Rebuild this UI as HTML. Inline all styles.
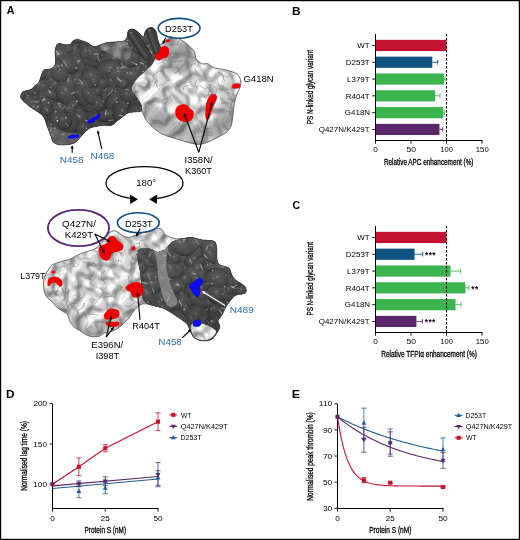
<!DOCTYPE html>
<html><head><meta charset="utf-8"><style>
html,body{margin:0;padding:0;background:#fff;}
svg{display:block;font-family:"Liberation Sans", sans-serif;will-change:transform;}
</style></head><body>
<svg width="520" height="540" viewBox="0 0 520 540">
<defs><filter id="bumpL" x="0" y="0" width="520" height="540" filterUnits="userSpaceOnUse" color-interpolation-filters="sRGB">
  <feTurbulence type="fractalNoise" baseFrequency="0.09" numOctaves="1" seed="7" result="n"/>
  <feComponentTransfer in="n" result="a"><feFuncA type="table" tableValues="0 0 0.2 0.9 1 1"/></feComponentTransfer>
  <feGaussianBlur in="a" stdDeviation="0.6" result="ab"/>
  <feDiffuseLighting in="ab" surfaceScale="1.7" diffuseConstant="1.0" lighting-color="#fff" result="lit"><feDistantLight azimuth="225" elevation="55"/></feDiffuseLighting>
  <feSpecularLighting in="ab" surfaceScale="1.7" specularConstant="0.45" specularExponent="14" lighting-color="#fff" result="spec"><feDistantLight azimuth="225" elevation="55"/></feSpecularLighting>
  <feComposite in="lit" in2="SourceGraphic" operator="arithmetic" k1="0.62" k2="0" k3="0.38" k4="0" result="m"/>
  <feComposite in="spec" in2="m" operator="arithmetic" k1="0" k2="0.5" k3="1" k4="0" result="m2"/>
  <feComposite in="m2" in2="SourceAlpha" operator="in"/>
</filter><filter id="bumpL2" x="0" y="0" width="520" height="540" filterUnits="userSpaceOnUse" color-interpolation-filters="sRGB">
  <feTurbulence type="fractalNoise" baseFrequency="0.09" numOctaves="1" seed="9" result="n"/>
  <feComponentTransfer in="n" result="a"><feFuncA type="table" tableValues="0 0 0.2 0.9 1 1"/></feComponentTransfer>
  <feGaussianBlur in="a" stdDeviation="0.6" result="ab"/>
  <feDiffuseLighting in="ab" surfaceScale="1.7" diffuseConstant="1.0" lighting-color="#fff" result="lit"><feDistantLight azimuth="225" elevation="55"/></feDiffuseLighting>
  <feSpecularLighting in="ab" surfaceScale="1.7" specularConstant="0.45" specularExponent="14" lighting-color="#fff" result="spec"><feDistantLight azimuth="225" elevation="55"/></feSpecularLighting>
  <feComposite in="lit" in2="SourceGraphic" operator="arithmetic" k1="0.62" k2="0" k3="0.38" k4="0" result="m"/>
  <feComposite in="spec" in2="m" operator="arithmetic" k1="0" k2="0.5" k3="1" k4="0" result="m2"/>
  <feComposite in="m2" in2="SourceAlpha" operator="in"/>
</filter><filter id="bumpD" x="0" y="0" width="520" height="540" filterUnits="userSpaceOnUse" color-interpolation-filters="sRGB">
  <feTurbulence type="fractalNoise" baseFrequency="0.09" numOctaves="1" seed="11" result="n"/>
  <feComponentTransfer in="n" result="a"><feFuncA type="table" tableValues="0 0 0.2 0.9 1 1"/></feComponentTransfer>
  <feGaussianBlur in="a" stdDeviation="0.6" result="ab"/>
  <feDiffuseLighting in="ab" surfaceScale="2.0" diffuseConstant="1.0" lighting-color="#fff" result="lit"><feDistantLight azimuth="225" elevation="55"/></feDiffuseLighting>
  <feSpecularLighting in="ab" surfaceScale="2.0" specularConstant="0.45" specularExponent="14" lighting-color="#fff" result="spec"><feDistantLight azimuth="225" elevation="55"/></feSpecularLighting>
  <feComposite in="lit" in2="SourceGraphic" operator="arithmetic" k1="0.6" k2="0" k3="0.40" k4="0" result="m"/>
  <feComposite in="spec" in2="m" operator="arithmetic" k1="0" k2="0.25" k3="1" k4="0" result="m2"/>
  <feComposite in="m2" in2="SourceAlpha" operator="in"/>
</filter><filter id="bumpD2" x="0" y="0" width="520" height="540" filterUnits="userSpaceOnUse" color-interpolation-filters="sRGB">
  <feTurbulence type="fractalNoise" baseFrequency="0.09" numOctaves="1" seed="13" result="n"/>
  <feComponentTransfer in="n" result="a"><feFuncA type="table" tableValues="0 0 0.2 0.9 1 1"/></feComponentTransfer>
  <feGaussianBlur in="a" stdDeviation="0.6" result="ab"/>
  <feDiffuseLighting in="ab" surfaceScale="2.0" diffuseConstant="1.0" lighting-color="#fff" result="lit"><feDistantLight azimuth="225" elevation="55"/></feDiffuseLighting>
  <feSpecularLighting in="ab" surfaceScale="2.0" specularConstant="0.45" specularExponent="14" lighting-color="#fff" result="spec"><feDistantLight azimuth="225" elevation="55"/></feSpecularLighting>
  <feComposite in="lit" in2="SourceGraphic" operator="arithmetic" k1="0.6" k2="0" k3="0.40" k4="0" result="m"/>
  <feComposite in="spec" in2="m" operator="arithmetic" k1="0" k2="0.25" k3="1" k4="0" result="m2"/>
  <feComposite in="m2" in2="SourceAlpha" operator="in"/>
</filter>
<radialGradient id="gL" cx="0.42" cy="0.38" r="0.62" fx="0.38" fy="0.32">
 <stop offset="0" stop-color="#f0f0f0"/><stop offset="0.3" stop-color="#d2d2d2"/><stop offset="0.72" stop-color="#c2c2c2"/><stop offset="0.9" stop-color="#a8a8a8"/><stop offset="1" stop-color="#808080"/>
</radialGradient>
<radialGradient id="gL1" cx="0.42" cy="0.38" r="0.62" fx="0.38" fy="0.32">
 <stop offset="0" stop-color="#fafafa"/><stop offset="0.3" stop-color="#e0e0e0"/><stop offset="0.72" stop-color="#d0d0d0"/><stop offset="0.9" stop-color="#b2b2b2"/><stop offset="1" stop-color="#888888"/>
</radialGradient>
<radialGradient id="gD" cx="0.42" cy="0.38" r="0.62" fx="0.38" fy="0.32">
 <stop offset="0" stop-color="#8c8c8c"/><stop offset="0.16" stop-color="#585858"/><stop offset="0.7" stop-color="#4a4a4a"/><stop offset="0.9" stop-color="#404040"/><stop offset="1" stop-color="#303030"/>
</radialGradient>
<linearGradient id="gF" x1="0" y1="0" x2="1" y2="0.3"><stop offset="0" stop-color="#353535"/><stop offset="0.45" stop-color="#4c4c4c"/><stop offset="1" stop-color="#363636"/></linearGradient>
<linearGradient id="gShade" x1="0" y1="0" x2="0.3" y2="1"><stop offset="0" stop-color="#fff" stop-opacity="0.07"/><stop offset="0.5" stop-color="#000" stop-opacity="0"/><stop offset="1" stop-color="#000" stop-opacity="0.18"/></linearGradient>
<filter id="soft" x="-20%" y="-20%" width="140%" height="140%"><feGaussianBlur stdDeviation="2.5"/></filter>
<clipPath id="cTopL"><path d="M20.9,98.1 C19.8,95.8 21.5,93.4 22.4,92.2 C23.3,91.0 24.6,91.2 26.1,90.7 C27.6,90.2 29.8,90.2 31.3,89.3 C32.8,88.4 33.8,86.7 35.0,85.6 C36.2,84.5 37.6,84.5 38.7,82.6 C39.8,80.7 40.8,76.5 41.7,74.4 C42.6,72.3 42.7,70.8 43.9,70.0 C45.1,69.2 47.4,69.9 49.1,69.3 C50.8,68.7 53.2,67.9 54.3,66.3 C55.4,64.7 55.6,62.0 55.7,59.6 C55.8,57.2 54.9,54.5 55.0,52.2 C55.1,49.9 55.8,47.0 56.5,45.6 C57.2,44.2 57.9,43.7 59.4,43.6 C60.9,43.5 63.5,44.7 65.4,44.8 C67.3,44.9 69.4,44.7 70.6,44.1 C71.8,43.5 71.7,41.9 72.8,41.1 C73.9,40.3 75.7,39.3 77.2,39.2 C78.7,39.1 80.2,40.2 81.7,40.7 C83.2,41.2 83.8,41.0 86.0,42.0 C88.2,43.0 91.4,46.4 94.6,46.6 C97.8,46.8 101.5,43.9 105.0,43.1 C108.5,42.3 112.2,42.2 115.4,41.9 C118.6,41.5 122.0,42.0 124.0,41.0 C126.0,40.0 126.7,37.5 127.5,36.0 C128.3,34.5 128.2,33.0 129.0,32.0 C129.8,31.0 130.9,30.3 132.0,30.0 C133.1,29.7 134.2,29.5 135.5,30.2 C136.8,30.9 138.7,33.0 140.0,34.0 C141.3,35.0 142.6,37.0 143.5,36.5 C144.4,36.0 144.6,32.4 145.5,31.0 C146.4,29.6 147.8,28.8 149.0,28.3 C150.2,27.8 151.8,27.5 153.0,28.0 C154.2,28.5 155.3,29.8 156.0,31.5 C156.7,33.2 157.0,35.9 157.4,38.0 C157.8,40.1 157.6,43.1 158.5,44.0 C159.4,44.9 161.8,44.2 163.0,43.5 C164.2,42.8 165.0,40.8 166.0,40.0 C167.0,39.2 168.0,39.4 169.2,38.7 C170.4,38.0 171.2,35.6 173.1,35.8 C175.0,35.9 178.2,38.0 180.8,39.6 C183.4,41.2 186.3,43.5 188.5,45.4 C190.7,47.3 192.9,49.0 194.2,51.2 C195.5,53.4 194.9,56.7 196.2,58.8 C197.5,60.9 200.0,62.9 201.9,63.7 C203.8,64.5 205.8,63.1 207.7,63.7 C209.6,64.3 210.9,66.5 213.5,67.5 C216.1,68.5 220.2,68.8 223.1,69.4 C226.0,70.0 228.4,70.5 230.8,71.3 C233.2,72.1 235.8,72.9 237.5,74.5 C239.2,76.1 240.4,78.8 240.8,81.0 C241.2,83.2 240.5,85.7 239.8,88.0 C239.1,90.3 237.4,92.4 236.5,95.0 C235.6,97.6 234.8,101.2 234.3,103.7 C233.8,106.2 233.8,107.6 233.5,110.0 C233.2,112.4 233.0,115.3 232.6,118.0 C232.2,120.7 231.9,123.8 231.1,126.0 C230.2,128.2 228.7,130.2 227.5,131.5 C226.3,132.8 225.8,132.8 223.8,134.0 C221.8,135.2 218.1,137.2 215.3,138.6 C212.5,140.0 209.7,141.5 206.9,142.5 C204.1,143.5 201.6,144.4 198.4,144.4 C195.2,144.4 191.4,143.2 187.9,142.3 C184.4,141.4 180.8,140.2 177.3,139.1 C173.8,138.0 169.9,137.1 166.7,135.9 C163.5,134.7 160.9,133.4 158.3,131.7 C155.7,129.9 153.0,127.5 150.9,125.4 C148.8,123.3 147.1,121.3 145.6,119.0 C144.1,116.7 143.0,112.7 142.0,111.5 C141.0,110.3 141.7,111.4 139.6,111.6 C137.5,111.8 132.0,111.8 129.3,112.6 C126.6,113.4 125.3,114.9 123.3,116.3 C121.3,117.7 119.4,119.2 117.4,120.7 C115.4,122.2 114.0,124.4 111.5,125.2 C109.0,126.0 105.1,125.2 102.4,125.4 C99.7,125.6 97.7,126.0 95.4,126.6 C93.1,127.2 91.0,127.2 88.5,128.9 C86.0,130.6 82.7,134.7 80.4,137.0 C78.1,139.3 77.5,141.4 74.6,142.7 C71.7,144.0 66.5,145.0 63.1,145.0 C59.7,145.0 56.0,144.4 53.9,142.7 C51.8,141.0 51.5,137.2 50.4,134.6 C49.3,132.0 48.8,130.4 47.5,127.3 C46.2,124.2 45.8,119.3 42.7,115.8 C39.7,112.2 32.8,109.0 29.2,106.0 C25.6,103.0 22.0,100.4 20.9,98.1Z"/></clipPath>
<clipPath id="cTopD"><path d="M20.9,98.1 C19.8,95.8 21.5,93.4 22.4,92.2 C23.3,91.0 24.6,91.2 26.1,90.7 C27.6,90.2 29.8,90.2 31.3,89.3 C32.8,88.4 33.8,86.7 35.0,85.6 C36.2,84.5 37.6,84.5 38.7,82.6 C39.8,80.7 40.8,76.5 41.7,74.4 C42.6,72.3 42.7,70.8 43.9,70.0 C45.1,69.2 47.4,69.9 49.1,69.3 C50.8,68.7 53.2,67.9 54.3,66.3 C55.4,64.7 55.6,62.0 55.7,59.6 C55.8,57.2 54.9,54.5 55.0,52.2 C55.1,49.9 55.8,47.0 56.5,45.6 C57.2,44.2 57.9,43.7 59.4,43.6 C60.9,43.5 63.5,44.7 65.4,44.8 C67.3,44.9 69.4,44.7 70.6,44.1 C71.8,43.5 71.7,41.9 72.8,41.1 C73.9,40.3 75.7,39.3 77.2,39.2 C78.7,39.1 80.2,40.2 81.7,40.7 C83.2,41.2 83.8,41.0 86.0,42.0 C88.2,43.0 91.4,46.4 94.6,46.6 C97.8,46.8 101.5,43.9 105.0,43.1 C108.5,42.3 112.2,42.2 115.4,41.9 C118.6,41.5 122.0,42.0 124.0,41.0 C126.0,40.0 126.7,37.5 127.5,36.0 C128.3,34.5 128.2,33.0 129.0,32.0 C129.8,31.0 130.9,30.3 132.0,30.0 C133.1,29.7 134.2,29.5 135.5,30.2 C136.8,30.9 138.7,33.0 140.0,34.0 C141.3,35.0 142.6,37.0 143.5,36.5 C144.4,36.0 144.6,32.4 145.5,31.0 C146.4,29.6 147.8,28.8 149.0,28.3 C150.2,27.8 151.8,27.5 153.0,28.0 C154.2,28.5 155.3,29.8 156.0,31.5 C156.7,33.2 157.0,35.9 157.4,38.0 C157.8,40.1 157.9,42.0 158.5,44.0 C159.1,46.0 161.1,48.2 161.0,50.0 C160.9,51.8 159.0,53.5 158.0,55.0 C157.0,56.5 156.0,57.4 155.0,59.0 C154.0,60.6 153.3,62.8 152.0,64.5 C150.7,66.2 148.6,67.5 147.0,69.0 C145.4,70.5 144.3,71.7 142.6,73.3 C140.9,74.9 138.5,76.9 137.0,78.5 C135.5,80.1 134.4,81.3 133.5,83.0 C132.6,84.7 131.2,86.8 131.5,88.9 C131.8,91.0 133.8,93.5 135.2,95.6 C136.5,97.7 138.5,99.5 139.6,101.5 C140.7,103.5 141.8,105.8 141.9,107.4 C142.1,109.0 142.6,110.4 140.5,111.3 C138.4,112.2 132.2,111.8 129.3,112.6 C126.4,113.4 125.3,114.9 123.3,116.3 C121.3,117.7 119.4,119.2 117.4,120.7 C115.4,122.2 114.0,124.4 111.5,125.2 C109.0,126.0 105.1,125.2 102.4,125.4 C99.7,125.6 97.7,126.0 95.4,126.6 C93.1,127.2 91.0,127.2 88.5,128.9 C86.0,130.6 82.7,134.7 80.4,137.0 C78.1,139.3 77.5,141.4 74.6,142.7 C71.7,144.0 66.5,145.0 63.1,145.0 C59.7,145.0 56.0,144.4 53.9,142.7 C51.8,141.0 51.5,137.2 50.4,134.6 C49.3,132.0 48.8,130.4 47.5,127.3 C46.2,124.2 45.8,119.3 42.7,115.8 C39.7,112.2 32.8,109.0 29.2,106.0 C25.6,103.0 22.0,100.4 20.9,98.1Z"/></clipPath>
<clipPath id="cBotL"><path d="M43.5,283.8 C43.5,281.6 43.6,280.0 44.2,278.0 C44.8,276.0 45.8,274.1 47.0,272.0 C48.2,269.9 50.1,266.8 51.5,265.4 C52.9,264.0 53.8,264.1 55.4,263.5 C57.0,262.9 59.0,262.1 61.2,261.5 C63.4,260.9 66.6,260.4 68.8,259.6 C71.0,258.8 72.7,257.7 74.6,256.7 C76.5,255.7 78.5,254.6 80.4,253.8 C82.3,253.0 84.3,252.5 86.2,251.9 C88.1,251.3 90.0,250.8 91.9,250.0 C93.8,249.2 96.1,248.4 97.7,247.1 C99.3,245.8 100.1,244.1 101.5,242.3 C102.9,240.5 105.0,238.1 106.3,236.5 C107.6,234.9 107.9,233.6 109.2,232.7 C110.5,231.8 112.4,230.8 114.0,230.8 C115.6,230.8 117.3,231.9 118.8,232.7 C120.2,233.5 121.1,234.8 122.7,235.6 C124.3,236.4 126.6,237.5 128.5,237.5 C130.4,237.5 132.3,236.3 134.2,235.6 C136.1,234.9 137.8,234.3 140.0,233.5 C142.2,232.7 144.8,231.4 147.7,230.6 C150.6,229.8 154.9,228.9 157.3,228.7 C159.7,228.5 160.8,228.6 162.1,229.6 C163.4,230.6 163.6,233.1 165.0,234.4 C166.4,235.7 169.0,236.6 170.8,237.3 C172.6,238.0 174.1,238.6 176.0,238.8 C177.9,239.0 179.8,238.7 182.5,238.5 C185.2,238.3 188.7,237.2 192.0,237.5 C195.3,237.8 199.4,239.5 202.5,240.0 C205.6,240.5 208.4,240.2 210.6,240.6 C212.8,241.0 214.4,241.0 215.4,242.6 C216.4,244.2 216.6,247.6 216.8,250.3 C217.0,253.0 216.5,256.3 216.8,258.6 C217.2,260.9 217.6,262.9 218.9,264.2 C220.2,265.5 222.7,265.6 224.4,266.3 C226.1,267.0 228.1,267.0 229.3,268.3 C230.5,269.6 230.5,272.0 231.4,273.9 C232.3,275.8 233.3,277.8 234.9,279.4 C236.5,281.0 239.4,282.3 241.1,283.6 C242.8,284.9 244.5,285.7 245.3,287.1 C246.1,288.5 246.5,290.9 246.0,292.0 C245.5,293.1 244.0,293.6 242.5,294.0 C241.0,294.4 238.6,294.1 237.0,294.7 C235.4,295.3 234.2,296.1 232.8,297.5 C231.4,298.9 229.8,301.3 228.6,303.0 C227.4,304.7 226.6,305.5 225.5,307.5 C224.4,309.5 223.2,312.8 221.9,315.0 C220.7,317.2 218.3,318.7 218.0,320.7 C217.7,322.7 220.1,325.0 219.8,327.1 C219.6,329.2 217.9,331.3 216.5,333.4 C215.1,335.5 213.6,338.3 211.3,339.5 C209.0,340.7 205.7,341.1 202.9,340.8 C200.1,340.6 196.5,339.6 194.4,338.0 C192.3,336.4 191.7,333.6 190.5,331.3 C189.3,329.0 188.5,325.9 187.0,324.0 C185.5,322.1 183.6,321.1 181.7,319.7 C179.8,318.3 177.5,316.9 175.4,315.5 C173.3,314.1 171.1,312.4 169.0,311.2 C166.9,310.0 165.0,309.0 162.7,308.1 C160.4,307.2 157.4,306.7 155.0,306.0 C152.6,305.3 150.3,304.2 148.0,304.0 C145.7,303.8 143.2,303.5 141.0,304.5 C138.8,305.5 136.5,307.8 134.5,310.0 C132.5,312.2 131.1,315.5 129.0,318.0 C126.9,320.5 124.5,322.9 122.0,325.0 C119.5,327.1 117.0,329.1 114.0,330.5 C111.0,331.9 106.6,332.2 104.2,333.1 C101.8,334.1 101.4,335.6 99.6,336.2 C97.8,336.8 95.5,337.0 93.5,336.9 C91.5,336.8 89.3,336.3 87.3,335.4 C85.2,334.5 83.2,332.8 81.2,331.5 C79.2,330.2 76.8,329.2 75.0,327.7 C73.2,326.2 71.7,324.5 70.4,322.3 C69.1,320.1 68.7,316.5 67.3,314.6 C65.9,312.7 63.7,312.1 61.9,310.8 C60.1,309.5 58.2,308.4 56.5,306.9 C54.8,305.3 53.4,303.0 51.9,301.5 C50.4,300.0 48.6,299.4 47.3,297.7 C46.0,296.0 44.8,293.8 44.2,291.5 C43.6,289.2 43.5,286.1 43.5,283.8Z"/></clipPath>
<clipPath id="cBotD"><path d="M137.0,253.0 C137.4,251.2 138.5,249.8 140.0,249.0 C141.5,248.2 144.0,247.9 146.0,248.0 C148.0,248.1 150.2,248.8 152.0,249.5 C153.8,250.2 155.5,251.8 157.0,252.0 C158.5,252.2 159.7,251.3 161.0,251.0 C162.3,250.7 163.8,250.8 165.0,250.0 C166.2,249.2 166.8,247.3 168.0,246.0 C169.2,244.7 170.3,243.0 172.0,242.0 C173.7,241.0 176.2,240.6 178.0,240.0 C179.8,239.4 180.2,238.9 182.5,238.5 C184.8,238.1 188.7,237.2 192.0,237.5 C195.3,237.8 199.4,239.5 202.5,240.0 C205.6,240.5 208.4,240.2 210.6,240.6 C212.8,241.0 214.4,241.0 215.4,242.6 C216.4,244.2 216.6,247.6 216.8,250.3 C217.0,253.0 216.5,256.3 216.8,258.6 C217.2,260.9 217.6,262.9 218.9,264.2 C220.2,265.5 222.7,265.6 224.4,266.3 C226.1,267.0 228.1,267.0 229.3,268.3 C230.5,269.6 230.5,272.0 231.4,273.9 C232.3,275.8 233.3,277.8 234.9,279.4 C236.5,281.0 239.4,282.3 241.1,283.6 C242.8,284.9 244.5,285.7 245.3,287.1 C246.1,288.5 246.5,290.9 246.0,292.0 C245.5,293.1 244.0,293.6 242.5,294.0 C241.0,294.4 238.6,294.1 237.0,294.7 C235.4,295.3 234.2,296.1 232.8,297.5 C231.4,298.9 229.8,301.3 228.6,303.0 C227.4,304.7 226.6,305.5 225.5,307.5 C224.4,309.5 223.2,312.8 221.9,315.0 C220.7,317.2 218.3,318.7 218.0,320.7 C217.7,322.7 220.1,325.0 219.8,327.1 C219.6,329.2 217.9,331.3 216.5,333.4 C215.1,335.5 213.6,338.3 211.3,339.5 C209.0,340.7 205.7,341.1 202.9,340.8 C200.1,340.6 196.5,339.6 194.4,338.0 C192.3,336.4 191.7,333.6 190.5,331.3 C189.3,329.0 188.5,325.9 187.0,324.0 C185.5,322.1 183.6,321.1 181.7,319.7 C179.8,318.3 177.5,316.9 175.4,315.5 C173.3,314.1 171.1,312.4 169.0,311.2 C166.9,310.0 165.0,309.0 162.7,308.1 C160.4,307.2 157.4,306.7 155.0,306.0 C152.6,305.3 150.0,305.2 148.0,304.0 C146.0,302.8 144.1,301.3 143.0,299.0 C141.9,296.7 141.8,293.2 141.5,290.0 C141.2,286.8 141.3,283.7 141.0,280.0 C140.7,276.3 140.1,271.3 139.5,268.0 C138.9,264.7 137.9,262.5 137.5,260.0 C137.1,257.5 136.6,254.8 137.0,253.0Z"/></clipPath>
</defs>
<rect x="0" y="0" width="520" height="540" fill="#fff"/>
<path d="M20.9,98.1 C19.8,95.8 21.5,93.4 22.4,92.2 C23.3,91.0 24.6,91.2 26.1,90.7 C27.6,90.2 29.8,90.2 31.3,89.3 C32.8,88.4 33.8,86.7 35.0,85.6 C36.2,84.5 37.6,84.5 38.7,82.6 C39.8,80.7 40.8,76.5 41.7,74.4 C42.6,72.3 42.7,70.8 43.9,70.0 C45.1,69.2 47.4,69.9 49.1,69.3 C50.8,68.7 53.2,67.9 54.3,66.3 C55.4,64.7 55.6,62.0 55.7,59.6 C55.8,57.2 54.9,54.5 55.0,52.2 C55.1,49.9 55.8,47.0 56.5,45.6 C57.2,44.2 57.9,43.7 59.4,43.6 C60.9,43.5 63.5,44.7 65.4,44.8 C67.3,44.9 69.4,44.7 70.6,44.1 C71.8,43.5 71.7,41.9 72.8,41.1 C73.9,40.3 75.7,39.3 77.2,39.2 C78.7,39.1 80.2,40.2 81.7,40.7 C83.2,41.2 83.8,41.0 86.0,42.0 C88.2,43.0 91.4,46.4 94.6,46.6 C97.8,46.8 101.5,43.9 105.0,43.1 C108.5,42.3 112.2,42.2 115.4,41.9 C118.6,41.5 122.0,42.0 124.0,41.0 C126.0,40.0 126.7,37.5 127.5,36.0 C128.3,34.5 128.2,33.0 129.0,32.0 C129.8,31.0 130.9,30.3 132.0,30.0 C133.1,29.7 134.2,29.5 135.5,30.2 C136.8,30.9 138.7,33.0 140.0,34.0 C141.3,35.0 142.6,37.0 143.5,36.5 C144.4,36.0 144.6,32.4 145.5,31.0 C146.4,29.6 147.8,28.8 149.0,28.3 C150.2,27.8 151.8,27.5 153.0,28.0 C154.2,28.5 155.3,29.8 156.0,31.5 C156.7,33.2 157.0,35.9 157.4,38.0 C157.8,40.1 157.6,43.1 158.5,44.0 C159.4,44.9 161.8,44.2 163.0,43.5 C164.2,42.8 165.0,40.8 166.0,40.0 C167.0,39.2 168.0,39.4 169.2,38.7 C170.4,38.0 171.2,35.6 173.1,35.8 C175.0,35.9 178.2,38.0 180.8,39.6 C183.4,41.2 186.3,43.5 188.5,45.4 C190.7,47.3 192.9,49.0 194.2,51.2 C195.5,53.4 194.9,56.7 196.2,58.8 C197.5,60.9 200.0,62.9 201.9,63.7 C203.8,64.5 205.8,63.1 207.7,63.7 C209.6,64.3 210.9,66.5 213.5,67.5 C216.1,68.5 220.2,68.8 223.1,69.4 C226.0,70.0 228.4,70.5 230.8,71.3 C233.2,72.1 235.8,72.9 237.5,74.5 C239.2,76.1 240.4,78.8 240.8,81.0 C241.2,83.2 240.5,85.7 239.8,88.0 C239.1,90.3 237.4,92.4 236.5,95.0 C235.6,97.6 234.8,101.2 234.3,103.7 C233.8,106.2 233.8,107.6 233.5,110.0 C233.2,112.4 233.0,115.3 232.6,118.0 C232.2,120.7 231.9,123.8 231.1,126.0 C230.2,128.2 228.7,130.2 227.5,131.5 C226.3,132.8 225.8,132.8 223.8,134.0 C221.8,135.2 218.1,137.2 215.3,138.6 C212.5,140.0 209.7,141.5 206.9,142.5 C204.1,143.5 201.6,144.4 198.4,144.4 C195.2,144.4 191.4,143.2 187.9,142.3 C184.4,141.4 180.8,140.2 177.3,139.1 C173.8,138.0 169.9,137.1 166.7,135.9 C163.5,134.7 160.9,133.4 158.3,131.7 C155.7,129.9 153.0,127.5 150.9,125.4 C148.8,123.3 147.1,121.3 145.6,119.0 C144.1,116.7 143.0,112.7 142.0,111.5 C141.0,110.3 141.7,111.4 139.6,111.6 C137.5,111.8 132.0,111.8 129.3,112.6 C126.6,113.4 125.3,114.9 123.3,116.3 C121.3,117.7 119.4,119.2 117.4,120.7 C115.4,122.2 114.0,124.4 111.5,125.2 C109.0,126.0 105.1,125.2 102.4,125.4 C99.7,125.6 97.7,126.0 95.4,126.6 C93.1,127.2 91.0,127.2 88.5,128.9 C86.0,130.6 82.7,134.7 80.4,137.0 C78.1,139.3 77.5,141.4 74.6,142.7 C71.7,144.0 66.5,145.0 63.1,145.0 C59.7,145.0 56.0,144.4 53.9,142.7 C51.8,141.0 51.5,137.2 50.4,134.6 C49.3,132.0 48.8,130.4 47.5,127.3 C46.2,124.2 45.8,119.3 42.7,115.8 C39.7,112.2 32.8,109.0 29.2,106.0 C25.6,103.0 22.0,100.4 20.9,98.1Z" fill="#d4d4d4" filter="url(#bumpL)"/>
<g clip-path="url(#cTopL)" fill="none" stroke="#555" stroke-width="0.7" stroke-opacity="0.55" stroke-linecap="round">
<path d="M131.4,41.3 C130.7,41.0 128.8,40.2 127.5,39.6 C126.2,39.0 124.4,37.9 123.8,37.6"/>
<path d="M136.8,55.3 C137.4,55.0 139.5,54.4 140.2,53.5 C140.8,52.5 140.5,50.3 140.6,49.7"/>
<path d="M175.1,51.4 C175.2,52.0 175.2,53.8 175.8,54.8 C176.3,55.7 177.9,56.6 178.4,57.0"/>
<path d="M195.5,92.6 C195.8,91.9 197.3,89.8 197.3,88.4 C197.3,87.0 195.5,85.6 195.3,84.2 C195.2,82.8 196.4,80.5 196.6,79.8"/>
<path d="M172.2,38.2 C171.6,38.5 170.0,39.2 169.0,39.9 C168.0,40.6 166.7,41.8 166.2,42.1"/>
<path d="M171.2,67.0 C171.2,66.4 171.5,64.5 171.3,63.3 C171.1,62.1 170.6,60.9 170.0,59.8 C169.4,58.8 168.2,57.3 167.9,56.8"/>
<path d="M202.4,126.7 C203.2,127.0 205.3,128.5 206.9,128.8 C208.4,129.2 211.0,128.8 211.8,128.8"/>
<path d="M149.7,101.6 C149.1,101.9 146.6,102.6 146.1,103.6 C145.5,104.6 146.3,107.1 146.3,107.8"/>
<path d="M218.9,72.2 C219.4,72.7 221.2,73.9 222.1,75.0 C222.9,76.0 224.2,77.5 224.1,78.6 C224.0,79.8 221.9,81.3 221.4,81.9"/>
<path d="M152.1,81.7 C152.3,81.1 153.7,79.5 153.7,78.4 C153.7,77.4 152.4,75.7 152.1,75.2"/>
<path d="M143.4,50.9 C143.0,51.5 142.0,53.4 141.4,54.7 C140.7,56.0 139.8,57.9 139.4,58.5"/>
<path d="M171.7,100.3 C171.4,100.0 170.3,99.2 169.9,98.4 C169.6,97.7 169.9,96.2 169.8,95.8"/>
<path d="M197.9,86.7 C198.3,86.5 199.5,85.5 200.2,85.6 C200.9,85.7 201.4,86.9 202.1,87.3 C202.9,87.8 204.1,88.1 204.5,88.3"/>
<path d="M131.3,72.3 C131.6,72.7 132.5,73.8 133.1,74.6 C133.6,75.4 134.3,76.7 134.6,77.1"/>
<path d="M198.8,137.0 C199.5,136.8 201.6,136.1 203.1,135.8 C204.5,135.5 206.0,135.3 207.5,135.3 C209.0,135.2 211.2,135.3 212.0,135.3"/>
<path d="M187.5,111.7 C187.1,111.5 185.8,110.6 184.9,110.2 C184.0,109.7 182.6,109.0 182.1,108.8"/>
<path d="M210.3,83.1 C210.4,83.6 211.0,85.1 210.7,85.9 C210.4,86.6 209.3,87.2 208.5,87.6 C207.6,88.0 206.2,88.0 205.7,88.1"/>
<path d="M177.6,44.6 C177.1,44.5 175.4,43.9 174.4,44.0 C173.3,44.0 172.3,44.7 171.2,44.9 C170.2,45.1 168.5,45.1 168.0,45.1"/>
<path d="M182.9,125.7 C182.4,126.1 180.7,127.1 179.9,128.1 C179.0,129.0 178.3,130.1 177.8,131.3 C177.2,132.4 176.7,134.3 176.5,134.9"/>
<path d="M221.6,73.3 C221.9,73.7 223.6,74.6 223.8,75.4 C224.0,76.3 222.7,77.4 222.9,78.3 C223.1,79.2 224.4,80.4 224.7,80.8"/>
<path d="M229.1,109.8 C229.3,109.3 230.3,107.5 230.3,106.4 C230.2,105.3 229.6,103.7 228.8,103.1 C227.9,102.6 226.4,103.0 225.1,103.0 C223.9,103.0 222.1,103.1 221.5,103.1"/>
<path d="M163.3,83.9 C163.6,83.7 164.9,83.2 165.5,82.7 C166.0,82.1 166.1,80.9 166.8,80.5 C167.4,80.1 168.8,80.3 169.2,80.3"/>
<path d="M157.6,64.3 C158.3,64.0 160.6,62.3 162.1,62.3 C163.6,62.3 165.8,64.0 166.6,64.3"/>
<path d="M190.6,65.7 C191.1,65.4 192.8,63.7 193.9,63.7 C195.1,63.6 196.9,65.0 197.5,65.3"/>
<path d="M185.2,64.1 C184.5,64.6 182.4,65.9 181.3,67.1 C180.2,68.2 179.6,69.9 178.4,70.9 C177.2,72.0 174.8,72.9 174.1,73.3"/>
<path d="M192.1,54.2 C191.4,53.8 189.6,52.1 188.2,51.8 C186.8,51.5 184.4,52.1 183.6,52.2"/>
<path d="M225.0,76.5 C225.5,76.6 227.3,77.4 228.1,77.0 C229.0,76.7 229.8,75.0 230.1,74.6"/>
<path d="M157.8,86.0 C158.2,85.8 159.5,84.8 160.4,84.7 C161.2,84.6 162.7,85.3 163.1,85.4"/>
<path d="M226.5,92.4 C227.1,92.6 228.8,93.3 230.0,93.7 C231.2,94.1 232.4,94.4 233.6,94.7 C234.8,95.1 236.6,95.5 237.2,95.6"/>
<path d="M206.8,134.3 C206.7,133.6 205.6,131.1 206.1,130.0 C206.7,128.9 208.6,128.6 209.8,127.8 C211.1,127.0 212.8,125.7 213.4,125.3"/>
<path d="M173.9,130.6 C174.0,130.1 174.2,128.6 174.6,127.7 C175.1,126.8 176.2,125.8 176.5,125.4"/>
<path d="M211.8,81.2 C211.0,81.2 208.3,81.6 207.3,80.9 C206.2,80.2 206.0,78.1 205.5,76.7 C204.9,75.3 204.7,73.7 203.8,72.5 C203.0,71.3 201.1,69.9 200.6,69.3"/>
<path d="M156.8,58.4 C157.3,58.4 158.6,58.4 159.4,58.7 C160.2,59.0 160.8,60.0 161.6,60.2 C162.4,60.4 163.4,59.8 164.2,59.9 C165.1,59.9 166.4,60.4 166.8,60.5"/>
<path d="M182.5,60.4 C181.7,60.6 179.3,61.3 177.7,61.4 C176.2,61.5 174.3,61.8 173.0,61.2 C171.6,60.6 170.2,58.3 169.6,57.8"/>
<path d="M203.0,133.8 C203.7,133.4 206.4,132.5 207.1,131.2 C207.9,130.0 207.4,127.1 207.4,126.3"/>
<path d="M217.3,79.0 C217.4,79.4 217.6,80.8 217.8,81.7 C218.0,82.6 218.0,83.7 218.5,84.3 C219.0,85.0 220.1,85.2 220.9,85.6 C221.8,85.9 223.1,86.3 223.5,86.4"/>
<path d="M147.4,58.2 C147.0,58.8 146.1,61.2 145.0,62.1 C143.8,63.0 141.6,62.6 140.6,63.6 C139.6,64.6 139.4,67.3 139.2,68.0"/>
<path d="M209.2,100.0 C209.7,99.4 211.0,97.4 212.1,96.3 C213.1,95.2 215.0,94.5 215.6,93.2 C216.3,91.9 216.5,89.9 216.1,88.5 C215.6,87.2 213.3,85.7 212.8,85.2"/>
<path d="M164.1,73.9 C163.7,73.5 162.6,72.1 161.7,71.6 C160.8,71.1 159.4,70.7 158.5,71.0 C157.6,71.3 157.1,72.7 156.2,73.4 C155.4,74.1 153.9,74.8 153.4,75.1"/>
<path d="M183.2,91.0 C183.3,90.3 183.3,87.4 184.3,86.5 C185.2,85.6 188.1,85.7 188.9,85.5"/>
<path d="M149.3,88.4 C149.0,87.9 148.5,85.7 147.6,84.9 C146.7,84.0 145.1,83.8 143.9,83.4 C142.7,82.9 140.8,82.2 140.2,82.0"/>
<path d="M131.5,71.9 C132.0,71.5 134.3,70.5 134.9,69.3 C135.6,68.2 135.0,66.4 135.5,65.1 C136.0,63.8 137.6,62.2 138.0,61.6"/>
<path d="M212.7,97.8 C211.9,98.1 209.7,99.6 208.3,99.4 C207.0,99.3 205.1,97.2 204.5,96.8"/>
<path d="M197.2,124.0 C197.3,124.4 197.6,125.7 198.0,126.4 C198.4,127.1 199.4,128.1 199.6,128.4"/>
<path d="M150.2,36.6 C149.7,36.4 148.4,35.4 147.4,34.9 C146.5,34.4 144.9,34.0 144.4,33.8"/>
<path d="M141.0,39.4 C141.5,39.4 143.5,39.7 144.2,39.1 C145.0,38.6 145.6,37.2 145.7,36.2 C145.7,35.3 144.3,34.1 144.5,33.2 C144.6,32.4 146.3,31.3 146.7,30.9"/>
<path d="M226.5,111.2 C227.1,111.3 229.1,111.3 229.8,111.9 C230.4,112.6 230.4,114.6 230.5,115.1"/>
<path d="M182.9,119.5 C182.4,119.9 180.8,120.8 180.1,121.7 C179.4,122.7 178.7,124.1 178.9,125.1 C179.2,126.1 180.7,126.6 181.6,127.5 C182.4,128.4 183.5,129.8 183.8,130.3"/>
<path d="M233.4,95.0 C233.6,95.7 234.7,97.9 234.4,99.1 C234.1,100.3 232.2,101.1 231.6,102.3 C231.0,103.5 230.5,105.1 230.7,106.4 C231.0,107.7 232.6,109.4 232.9,110.0"/>
<path d="M155.4,81.9 C155.6,82.5 156.0,84.7 156.6,85.9 C157.2,87.2 158.7,88.8 159.1,89.4"/>
<path d="M176.5,91.6 C176.3,91.3 175.3,90.2 175.2,89.4 C175.0,88.7 175.2,87.5 175.7,87.0 C176.1,86.4 177.3,86.5 178.1,86.2 C178.9,85.9 180.1,85.5 180.5,85.3"/>
<path d="M138.9,98.1 C138.3,97.8 136.5,96.8 135.3,96.0 C134.1,95.3 132.9,94.5 131.8,93.7 C130.7,92.8 129.2,91.4 128.6,90.9"/>
<path d="M130.1,87.4 C130.4,87.9 131.4,89.4 132.2,90.2 C133.0,91.0 133.9,92.2 134.9,92.4 C135.9,92.6 137.7,91.5 138.2,91.3"/>
<path d="M157.5,80.6 C157.0,80.8 155.4,81.3 154.9,82.0 C154.4,82.7 154.7,84.0 154.4,84.9 C154.0,85.8 153.1,87.0 152.8,87.5"/>
<path d="M197.4,60.4 C197.5,61.2 198.6,63.7 198.3,65.1 C197.9,66.5 195.4,67.5 195.2,68.9 C195.0,70.2 196.4,71.9 197.3,73.2 C198.2,74.6 199.9,76.3 200.5,76.9"/>
</g>
<g clip-path="url(#cTopL)" fill="#fff">
<circle cx="172.7" cy="55.2" r="0.9" opacity="0.61"/>
<circle cx="207.3" cy="93.3" r="0.8" opacity="0.61"/>
<ellipse cx="217.5" cy="106.1" rx="2.4" ry="0.55" transform="rotate(28 217.5 106.1)" opacity="0.36"/>
<circle cx="203.3" cy="101.3" r="0.8" opacity="0.36"/>
<circle cx="227.1" cy="127.2" r="0.8" opacity="0.68"/>
<circle cx="144.0" cy="107.1" r="0.9" opacity="0.66"/>
<ellipse cx="165.6" cy="101.1" rx="1.9" ry="0.55" transform="rotate(160 165.6 101.1)" opacity="0.64"/>
<ellipse cx="163.8" cy="45.2" rx="2.3" ry="0.55" transform="rotate(119 163.8 45.2)" opacity="0.50"/>
<ellipse cx="145.1" cy="82.1" rx="2.4" ry="0.55" transform="rotate(134 145.1 82.1)" opacity="0.52"/>
<circle cx="228.6" cy="105.3" r="0.6" opacity="0.38"/>
<circle cx="228.0" cy="116.7" r="0.8" opacity="0.41"/>
<ellipse cx="229.6" cy="105.3" rx="2.7" ry="0.55" transform="rotate(75 229.6 105.3)" opacity="0.64"/>
<ellipse cx="179.0" cy="114.5" rx="2.3" ry="0.55" transform="rotate(81 179.0 114.5)" opacity="0.69"/>
<ellipse cx="160.9" cy="53.0" rx="2.1" ry="0.55" transform="rotate(162 160.9 53.0)" opacity="0.43"/>
<ellipse cx="233.6" cy="72.8" rx="3.0" ry="0.55" transform="rotate(132 233.6 72.8)" opacity="0.39"/>
<circle cx="148.4" cy="31.7" r="0.8" opacity="0.38"/>
<circle cx="156.6" cy="94.9" r="0.6" opacity="0.45"/>
<circle cx="209.9" cy="93.2" r="0.9" opacity="0.75"/>
<ellipse cx="196.0" cy="139.1" rx="2.5" ry="0.55" transform="rotate(117 196.0 139.1)" opacity="0.37"/>
<circle cx="211.5" cy="120.5" r="0.7" opacity="0.62"/>
<ellipse cx="169.4" cy="108.4" rx="3.3" ry="0.55" transform="rotate(55 169.4 108.4)" opacity="0.36"/>
<ellipse cx="225.6" cy="100.2" rx="3.2" ry="0.55" transform="rotate(50 225.6 100.2)" opacity="0.53"/>
<ellipse cx="164.0" cy="122.1" rx="2.0" ry="0.55" transform="rotate(90 164.0 122.1)" opacity="0.54"/>
<circle cx="156.1" cy="49.5" r="0.5" opacity="0.57"/>
<circle cx="210.2" cy="111.6" r="0.8" opacity="0.44"/>
<ellipse cx="171.1" cy="48.3" rx="1.9" ry="0.55" transform="rotate(157 171.1 48.3)" opacity="0.51"/>
<ellipse cx="146.6" cy="105.3" rx="1.6" ry="0.55" transform="rotate(148 146.6 105.3)" opacity="0.41"/>
<circle cx="211.4" cy="73.5" r="0.7" opacity="0.61"/>
<ellipse cx="207.2" cy="85.8" rx="2.9" ry="0.55" transform="rotate(34 207.2 85.8)" opacity="0.37"/>
<ellipse cx="184.3" cy="117.0" rx="3.2" ry="0.55" transform="rotate(79 184.3 117.0)" opacity="0.59"/>
<circle cx="141.9" cy="73.9" r="0.8" opacity="0.80"/>
<circle cx="205.0" cy="116.8" r="0.8" opacity="0.39"/>
<ellipse cx="171.5" cy="69.4" rx="1.8" ry="0.55" transform="rotate(29 171.5 69.4)" opacity="0.34"/>
<ellipse cx="228.4" cy="109.6" rx="3.3" ry="0.55" transform="rotate(173 228.4 109.6)" opacity="0.41"/>
<circle cx="225.2" cy="120.0" r="0.6" opacity="0.75"/>
<ellipse cx="182.9" cy="90.6" rx="2.5" ry="0.55" transform="rotate(45 182.9 90.6)" opacity="0.57"/>
<ellipse cx="189.6" cy="60.1" rx="3.3" ry="0.55" transform="rotate(44 189.6 60.1)" opacity="0.63"/>
<circle cx="214.4" cy="89.7" r="0.8" opacity="0.48"/>
<circle cx="158.1" cy="128.7" r="0.5" opacity="0.73"/>
<ellipse cx="175.4" cy="92.3" rx="1.5" ry="0.55" transform="rotate(117 175.4 92.3)" opacity="0.39"/>
<ellipse cx="234.1" cy="76.9" rx="2.4" ry="0.55" transform="rotate(118 234.1 76.9)" opacity="0.32"/>
<circle cx="152.7" cy="63.0" r="0.6" opacity="0.54"/>
<ellipse cx="139.9" cy="94.8" rx="3.2" ry="0.55" transform="rotate(112 139.9 94.8)" opacity="0.69"/>
<circle cx="211.6" cy="102.8" r="0.5" opacity="0.75"/>
<ellipse cx="230.4" cy="123.0" rx="3.1" ry="0.55" transform="rotate(173 230.4 123.0)" opacity="0.69"/>
<circle cx="236.1" cy="95.0" r="0.7" opacity="0.47"/>
<ellipse cx="133.8" cy="101.0" rx="1.7" ry="0.55" transform="rotate(166 133.8 101.0)" opacity="0.66"/>
<circle cx="226.8" cy="91.4" r="0.7" opacity="0.52"/>
<ellipse cx="230.6" cy="89.3" rx="2.9" ry="0.55" transform="rotate(52 230.6 89.3)" opacity="0.37"/>
<circle cx="160.3" cy="86.1" r="0.7" opacity="0.42"/>
<ellipse cx="218.3" cy="122.5" rx="1.8" ry="0.55" transform="rotate(177 218.3 122.5)" opacity="0.36"/>
<ellipse cx="192.2" cy="138.1" rx="2.8" ry="0.55" transform="rotate(16 192.2 138.1)" opacity="0.69"/>
<ellipse cx="146.3" cy="63.3" rx="3.0" ry="0.55" transform="rotate(34 146.3 63.3)" opacity="0.48"/>
<circle cx="190.7" cy="57.7" r="0.5" opacity="0.58"/>
<circle cx="176.6" cy="69.3" r="0.6" opacity="0.52"/>
<circle cx="140.7" cy="80.7" r="0.7" opacity="0.74"/>
<circle cx="168.8" cy="41.2" r="0.6" opacity="0.46"/>
<ellipse cx="187.7" cy="134.2" rx="3.0" ry="0.55" transform="rotate(121 187.7 134.2)" opacity="0.54"/>
<ellipse cx="233.5" cy="98.1" rx="2.0" ry="0.55" transform="rotate(18 233.5 98.1)" opacity="0.47"/>
<ellipse cx="175.5" cy="43.4" rx="1.5" ry="0.55" transform="rotate(79 175.5 43.4)" opacity="0.40"/>
</g>
<g clip-path="url(#cTopL)"><path d="M163.0,44.0 C163.5,41.5 165.3,41.4 167.0,40.0 C168.7,38.6 170.8,35.9 173.1,35.8 C175.4,35.7 178.2,38.0 180.8,39.6 C183.4,41.2 186.3,43.5 188.5,45.4 C190.7,47.3 192.9,49.0 194.2,51.2 C195.5,53.4 196.4,56.3 196.2,58.8 C196.0,61.3 194.7,63.8 193.0,66.0 C191.3,68.2 188.5,70.7 186.0,72.0 C183.5,73.3 180.5,74.3 178.0,74.0 C175.5,73.7 173.0,71.8 171.0,70.0 C169.0,68.2 167.2,65.5 166.0,63.0 C164.8,60.5 164.5,58.2 164.0,55.0 C163.5,51.8 162.5,46.5 163.0,44.0Z" fill="#6a6a6a" opacity="0.5" filter="url(#soft)"/>
<path d="M141.0,109.0 C141.7,106.5 146.8,104.2 150.0,104.0 C153.2,103.8 156.7,106.0 160.0,108.0 C163.3,110.0 166.3,113.8 170.0,116.0 C173.7,118.2 177.7,119.7 182.0,121.0 C186.3,122.3 191.3,124.0 196.0,124.0 C200.7,124.0 205.7,122.7 210.0,121.0 C214.3,119.3 218.2,115.5 222.0,114.0 C225.8,112.5 231.2,111.3 233.0,112.0 C234.8,112.7 232.9,115.7 232.6,118.0 C232.3,120.3 231.9,123.8 231.1,126.0 C230.2,128.2 228.7,130.2 227.5,131.5 C226.3,132.8 225.8,132.8 223.8,134.0 C221.8,135.2 218.1,137.2 215.3,138.6 C212.5,140.0 209.7,141.5 206.9,142.5 C204.1,143.5 201.6,144.4 198.4,144.4 C195.2,144.4 191.4,143.2 187.9,142.3 C184.4,141.4 180.8,140.2 177.3,139.1 C173.8,138.0 169.9,137.1 166.7,135.9 C163.5,134.7 160.9,133.4 158.3,131.7 C155.7,129.9 153.0,127.5 150.9,125.4 C148.8,123.3 147.2,121.7 145.6,119.0 C143.9,116.3 140.3,111.5 141.0,109.0Z" fill="#6a6a6a" opacity="0.45" filter="url(#soft)"/>
<path d="M226.0,90.0 C228.4,88.3 235.1,92.7 236.5,95.0 C237.9,97.3 234.8,101.2 234.3,103.7 C233.8,106.2 233.8,107.6 233.5,110.0 C233.2,112.4 233.0,115.3 232.6,118.0 C232.2,120.7 231.9,123.8 231.1,126.0 C230.2,128.2 229.0,131.2 227.5,131.5 C226.0,131.8 223.2,130.2 222.0,128.0 C220.8,125.8 220.0,121.8 220.0,118.0 C220.0,114.2 221.0,109.7 222.0,105.0 C223.0,100.3 223.6,91.7 226.0,90.0Z" fill="#6a6a6a" opacity="0.3" filter="url(#soft)"/></g>
<path d="M20.9,98.1 C19.8,95.8 21.5,93.4 22.4,92.2 C23.3,91.0 24.6,91.2 26.1,90.7 C27.6,90.2 29.8,90.2 31.3,89.3 C32.8,88.4 33.8,86.7 35.0,85.6 C36.2,84.5 37.6,84.5 38.7,82.6 C39.8,80.7 40.8,76.5 41.7,74.4 C42.6,72.3 42.7,70.8 43.9,70.0 C45.1,69.2 47.4,69.9 49.1,69.3 C50.8,68.7 53.2,67.9 54.3,66.3 C55.4,64.7 55.6,62.0 55.7,59.6 C55.8,57.2 54.9,54.5 55.0,52.2 C55.1,49.9 55.8,47.0 56.5,45.6 C57.2,44.2 57.9,43.7 59.4,43.6 C60.9,43.5 63.5,44.7 65.4,44.8 C67.3,44.9 69.4,44.7 70.6,44.1 C71.8,43.5 71.7,41.9 72.8,41.1 C73.9,40.3 75.7,39.3 77.2,39.2 C78.7,39.1 80.2,40.2 81.7,40.7 C83.2,41.2 83.8,41.0 86.0,42.0 C88.2,43.0 91.4,46.4 94.6,46.6 C97.8,46.8 101.5,43.9 105.0,43.1 C108.5,42.3 112.2,42.2 115.4,41.9 C118.6,41.5 122.0,42.0 124.0,41.0 C126.0,40.0 126.7,37.5 127.5,36.0 C128.3,34.5 128.2,33.0 129.0,32.0 C129.8,31.0 130.9,30.3 132.0,30.0 C133.1,29.7 134.2,29.5 135.5,30.2 C136.8,30.9 138.7,33.0 140.0,34.0 C141.3,35.0 142.6,37.0 143.5,36.5 C144.4,36.0 144.6,32.4 145.5,31.0 C146.4,29.6 147.8,28.8 149.0,28.3 C150.2,27.8 151.8,27.5 153.0,28.0 C154.2,28.5 155.3,29.8 156.0,31.5 C156.7,33.2 157.0,35.9 157.4,38.0 C157.8,40.1 157.9,42.0 158.5,44.0 C159.1,46.0 161.1,48.2 161.0,50.0 C160.9,51.8 159.0,53.5 158.0,55.0 C157.0,56.5 156.0,57.4 155.0,59.0 C154.0,60.6 153.3,62.8 152.0,64.5 C150.7,66.2 148.6,67.5 147.0,69.0 C145.4,70.5 144.3,71.7 142.6,73.3 C140.9,74.9 138.5,76.9 137.0,78.5 C135.5,80.1 134.4,81.3 133.5,83.0 C132.6,84.7 131.2,86.8 131.5,88.9 C131.8,91.0 133.8,93.5 135.2,95.6 C136.5,97.7 138.5,99.5 139.6,101.5 C140.7,103.5 141.8,105.8 141.9,107.4 C142.1,109.0 142.6,110.4 140.5,111.3 C138.4,112.2 132.2,111.8 129.3,112.6 C126.4,113.4 125.3,114.9 123.3,116.3 C121.3,117.7 119.4,119.2 117.4,120.7 C115.4,122.2 114.0,124.4 111.5,125.2 C109.0,126.0 105.1,125.2 102.4,125.4 C99.7,125.6 97.7,126.0 95.4,126.6 C93.1,127.2 91.0,127.2 88.5,128.9 C86.0,130.6 82.7,134.7 80.4,137.0 C78.1,139.3 77.5,141.4 74.6,142.7 C71.7,144.0 66.5,145.0 63.1,145.0 C59.7,145.0 56.0,144.4 53.9,142.7 C51.8,141.0 51.5,137.2 50.4,134.6 C49.3,132.0 48.8,130.4 47.5,127.3 C46.2,124.2 45.8,119.3 42.7,115.8 C39.7,112.2 32.8,109.0 29.2,106.0 C25.6,103.0 22.0,100.4 20.9,98.1Z" fill="#454545"/>
<g clip-path="url(#cTopD)">
<circle cx="62.7" cy="110.6" r="7.6" fill="url(#gD)"/>
<ellipse cx="140.0" cy="54.5" rx="13.6" ry="7.4" transform="rotate(6 140.0 54.5)" fill="url(#gD)"/>
<circle cx="52.3" cy="105.2" r="4.8" fill="url(#gD)"/>
<ellipse cx="122.5" cy="52.0" rx="8.0" ry="6.3" transform="rotate(139 122.5 52.0)" fill="url(#gD)"/>
<circle cx="57.0" cy="139.0" r="4.5" fill="url(#gD)"/>
<ellipse cx="115.4" cy="57.0" rx="13.9" ry="8.4" transform="rotate(106 115.4 57.0)" fill="url(#gD)"/>
<circle cx="49.2" cy="124.1" r="7.8" fill="url(#gD)"/>
<circle cx="77.8" cy="68.7" r="5.3" fill="url(#gD)"/>
<circle cx="146.7" cy="38.9" r="7.8" fill="url(#gD)"/>
<ellipse cx="143.0" cy="71.0" rx="13.7" ry="8.5" transform="rotate(157 143.0 71.0)" fill="url(#gD)"/>
<ellipse cx="58.2" cy="57.2" rx="7.0" ry="5.7" transform="rotate(154 58.2 57.2)" fill="url(#gD)"/>
<ellipse cx="109.7" cy="43.2" rx="9.9" ry="6.0" transform="rotate(57 109.7 43.2)" fill="url(#gD)"/>
<circle cx="123.0" cy="70.4" r="7.0" fill="url(#gD)"/>
<circle cx="88.8" cy="101.7" r="7.9" fill="url(#gD)"/>
<circle cx="144.2" cy="109.7" r="5.8" fill="url(#gD)"/>
<ellipse cx="106.3" cy="61.9" rx="13.0" ry="7.7" transform="rotate(156 106.3 61.9)" fill="url(#gD)"/>
<ellipse cx="144.3" cy="29.9" rx="12.6" ry="7.4" transform="rotate(70 144.3 29.9)" fill="url(#gD)"/>
<circle cx="141.5" cy="46.7" r="5.9" fill="url(#gD)"/>
<circle cx="69.5" cy="45.4" r="4.9" fill="url(#gD)"/>
<ellipse cx="126.6" cy="68.1" rx="14.3" ry="8.1" transform="rotate(33 126.6 68.1)" fill="url(#gD)"/>
<ellipse cx="109.0" cy="108.8" rx="6.8" ry="6.2" transform="rotate(78 109.0 108.8)" fill="url(#gD)"/>
<circle cx="127.8" cy="109.5" r="6.5" fill="url(#gD)"/>
<circle cx="107.8" cy="129.8" r="5.2" fill="url(#gD)"/>
<ellipse cx="66.2" cy="148.0" rx="12.2" ry="8.2" transform="rotate(94 66.2 148.0)" fill="url(#gD)"/>
<circle cx="41.0" cy="75.6" r="6.2" fill="url(#gD)"/>
<ellipse cx="101.7" cy="107.2" rx="11.7" ry="8.3" transform="rotate(95 101.7 107.2)" fill="url(#gD)"/>
<circle cx="72.4" cy="100.2" r="6.1" fill="url(#gD)"/>
<ellipse cx="35.9" cy="88.9" rx="7.7" ry="6.5" transform="rotate(60 35.9 88.9)" fill="url(#gD)"/>
<circle cx="60.9" cy="127.7" r="7.5" fill="url(#gD)"/>
<circle cx="46.1" cy="77.5" r="6.7" fill="url(#gD)"/>
<ellipse cx="76.1" cy="138.1" rx="7.1" ry="6.7" transform="rotate(139 76.1 138.1)" fill="url(#gD)"/>
<circle cx="132.5" cy="77.1" r="6.2" fill="url(#gD)"/>
<ellipse cx="113.4" cy="106.8" rx="10.2" ry="7.2" transform="rotate(58 113.4 106.8)" fill="url(#gD)"/>
<ellipse cx="90.0" cy="77.4" rx="8.1" ry="6.4" transform="rotate(146 90.0 77.4)" fill="url(#gD)"/>
<ellipse cx="118.5" cy="84.3" rx="7.6" ry="7.5" transform="rotate(153 118.5 84.3)" fill="url(#gD)"/>
<circle cx="146.6" cy="58.9" r="5.9" fill="url(#gD)"/>
<ellipse cx="67.2" cy="117.8" rx="6.0" ry="5.1" transform="rotate(116 67.2 117.8)" fill="url(#gD)"/>
<circle cx="96.6" cy="66.3" r="5.0" fill="url(#gD)"/>
<circle cx="146.7" cy="67.3" r="4.4" fill="url(#gD)"/>
<circle cx="73.5" cy="53.4" r="5.6" fill="url(#gD)"/>
<ellipse cx="107.2" cy="38.9" rx="9.3" ry="5.5" transform="rotate(54 107.2 38.9)" fill="url(#gD)"/>
<circle cx="118.2" cy="97.8" r="6.5" fill="url(#gD)"/>
<ellipse cx="56.3" cy="100.5" rx="9.0" ry="6.5" transform="rotate(71 56.3 100.5)" fill="url(#gD)"/>
<circle cx="60.2" cy="79.1" r="7.4" fill="url(#gD)"/>
<ellipse cx="138.9" cy="30.7" rx="6.3" ry="4.4" transform="rotate(152 138.9 30.7)" fill="url(#gD)"/>
<ellipse cx="140.7" cy="79.4" rx="10.2" ry="6.2" transform="rotate(160 140.7 79.4)" fill="url(#gD)"/>
<ellipse cx="102.9" cy="55.1" rx="9.4" ry="5.2" transform="rotate(175 102.9 55.1)" fill="url(#gD)"/>
<ellipse cx="92.1" cy="44.2" rx="7.3" ry="4.1" transform="rotate(103 92.1 44.2)" fill="url(#gD)"/>
<ellipse cx="89.6" cy="93.4" rx="5.8" ry="4.1" transform="rotate(21 89.6 93.4)" fill="url(#gD)"/>
<ellipse cx="64.7" cy="72.9" rx="9.9" ry="7.0" transform="rotate(13 64.7 72.9)" fill="url(#gD)"/>
<ellipse cx="116.5" cy="102.9" rx="9.3" ry="6.0" transform="rotate(147 116.5 102.9)" fill="url(#gD)"/>
<circle cx="81.7" cy="80.3" r="5.8" fill="url(#gD)"/>
<circle cx="62.2" cy="51.0" r="7.7" fill="url(#gD)"/>
<ellipse cx="111.1" cy="125.7" rx="11.2" ry="5.9" transform="rotate(90 111.1 125.7)" fill="url(#gD)"/>
<circle cx="88.7" cy="87.7" r="5.0" fill="url(#gD)"/>
<ellipse cx="75.4" cy="97.7" rx="7.5" ry="6.9" transform="rotate(33 75.4 97.7)" fill="url(#gD)"/>
<circle cx="70.6" cy="82.6" r="4.9" fill="url(#gD)"/>
<circle cx="103.5" cy="76.1" r="5.5" fill="url(#gD)"/>
<ellipse cx="131.1" cy="102.8" rx="8.6" ry="6.1" transform="rotate(95 131.1 102.8)" fill="url(#gD)"/>
<circle cx="76.1" cy="46.3" r="4.8" fill="url(#gD)"/>
<ellipse cx="82.1" cy="111.4" rx="8.6" ry="6.7" transform="rotate(24 82.1 111.4)" fill="url(#gD)"/>
<circle cx="137.7" cy="65.9" r="5.2" fill="url(#gD)"/>
<ellipse cx="113.0" cy="87.2" rx="10.6" ry="6.7" transform="rotate(3 113.0 87.2)" fill="url(#gD)"/>
<ellipse cx="123.4" cy="88.3" rx="8.0" ry="7.9" transform="rotate(100 123.4 88.3)" fill="url(#gD)"/>
<ellipse cx="110.1" cy="116.5" rx="10.4" ry="7.1" transform="rotate(146 110.1 116.5)" fill="url(#gD)"/>
<circle cx="93.1" cy="108.9" r="4.1" fill="url(#gD)"/>
<ellipse cx="123.5" cy="119.3" rx="5.8" ry="5.5" transform="rotate(48 123.5 119.3)" fill="url(#gD)"/>
<ellipse cx="86.0" cy="67.5" rx="10.0" ry="5.5" transform="rotate(44 86.0 67.5)" fill="url(#gD)"/>
<ellipse cx="147.4" cy="48.4" rx="6.6" ry="5.8" transform="rotate(56 147.4 48.4)" fill="url(#gD)"/>
<ellipse cx="26.5" cy="90.2" rx="6.5" ry="4.0" transform="rotate(180 26.5 90.2)" fill="url(#gD)"/>
<ellipse cx="64.3" cy="59.9" rx="16.3" ry="8.3" transform="rotate(19 64.3 59.9)" fill="url(#gD)"/>
<ellipse cx="138.9" cy="104.7" rx="7.9" ry="4.7" transform="rotate(107 138.9 104.7)" fill="url(#gD)"/>
<ellipse cx="103.0" cy="98.5" rx="6.2" ry="4.2" transform="rotate(70 103.0 98.5)" fill="url(#gD)"/>
<circle cx="66.8" cy="97.9" r="7.4" fill="url(#gD)"/>
<circle cx="96.7" cy="45.9" r="7.0" fill="url(#gD)"/>
<ellipse cx="47.7" cy="87.6" rx="13.5" ry="7.3" transform="rotate(110 47.7 87.6)" fill="url(#gD)"/>
<ellipse cx="51.5" cy="109.7" rx="11.7" ry="6.7" transform="rotate(128 51.5 109.7)" fill="url(#gD)"/>
<circle cx="53.4" cy="87.9" r="6.1" fill="url(#gD)"/>
<circle cx="158.8" cy="47.2" r="5.9" fill="url(#gD)"/>
<ellipse cx="77.5" cy="140.7" rx="8.5" ry="7.5" transform="rotate(20 77.5 140.7)" fill="url(#gD)"/>
<circle cx="114.9" cy="115.5" r="4.9" fill="url(#gD)"/>
<ellipse cx="104.0" cy="94.4" rx="14.3" ry="8.4" transform="rotate(79 104.0 94.4)" fill="url(#gD)"/>
<ellipse cx="137.4" cy="114.3" rx="10.8" ry="6.2" transform="rotate(21 137.4 114.3)" fill="url(#gD)"/>
<circle cx="77.0" cy="36.3" r="7.6" fill="url(#gD)"/>
<ellipse cx="118.1" cy="67.7" rx="8.3" ry="7.8" transform="rotate(4 118.1 67.7)" fill="url(#gD)"/>
<ellipse cx="43.0" cy="115.9" rx="8.6" ry="7.7" transform="rotate(9 43.0 115.9)" fill="url(#gD)"/>
<ellipse cx="69.5" cy="128.2" rx="14.4" ry="7.5" transform="rotate(64 69.5 128.2)" fill="url(#gD)"/>
<ellipse cx="81.5" cy="73.4" rx="11.3" ry="6.8" transform="rotate(25 81.5 73.4)" fill="url(#gD)"/>
<ellipse cx="112.6" cy="69.4" rx="15.9" ry="8.5" transform="rotate(52 112.6 69.4)" fill="url(#gD)"/>
<ellipse cx="31.4" cy="93.0" rx="6.4" ry="4.7" transform="rotate(16 31.4 93.0)" fill="url(#gD)"/>
<ellipse cx="24.0" cy="105.6" rx="7.3" ry="6.2" transform="rotate(159 24.0 105.6)" fill="url(#gD)"/>
<circle cx="56.3" cy="118.6" r="7.1" fill="url(#gD)"/>
<ellipse cx="59.1" cy="105.8" rx="15.4" ry="8.1" transform="rotate(37 59.1 105.8)" fill="url(#gD)"/>
<ellipse cx="45.6" cy="95.4" rx="6.7" ry="4.3" transform="rotate(121 45.6 95.4)" fill="url(#gD)"/>
<ellipse cx="84.1" cy="92.0" rx="6.0" ry="4.7" transform="rotate(119 84.1 92.0)" fill="url(#gD)"/>
<ellipse cx="104.9" cy="73.6" rx="5.8" ry="4.1" transform="rotate(157 104.9 73.6)" fill="url(#gD)"/>
<ellipse cx="127.2" cy="99.8" rx="8.2" ry="4.6" transform="rotate(73 127.2 99.8)" fill="url(#gD)"/>
<ellipse cx="109.9" cy="76.9" rx="10.4" ry="8.2" transform="rotate(94 109.9 76.9)" fill="url(#gD)"/>
<circle cx="96.1" cy="75.5" r="7.8" fill="url(#gD)"/>
<circle cx="28.8" cy="98.7" r="6.8" fill="url(#gD)"/>
<circle cx="47.5" cy="90.8" r="7.3" fill="url(#gD)"/>
<circle cx="89.0" cy="66.0" r="7.5" fill="url(#gD)"/>
<circle cx="102.8" cy="83.8" r="5.3" fill="url(#gD)"/>
<ellipse cx="63.5" cy="76.5" rx="9.0" ry="4.7" transform="rotate(39 63.5 76.5)" fill="url(#gD)"/>
<ellipse cx="53.6" cy="88.9" rx="13.9" ry="8.0" transform="rotate(27 53.6 88.9)" fill="url(#gD)"/>
<ellipse cx="134.9" cy="85.6" rx="6.7" ry="4.2" transform="rotate(161 134.9 85.6)" fill="url(#gD)"/>
<ellipse cx="35.7" cy="104.6" rx="9.8" ry="6.7" transform="rotate(139 35.7 104.6)" fill="url(#gD)"/>
<circle cx="55.1" cy="53.5" r="6.0" fill="url(#gD)"/>
<circle cx="139.3" cy="70.9" r="6.5" fill="url(#gD)"/>
<ellipse cx="37.1" cy="97.6" rx="9.7" ry="5.5" transform="rotate(53 37.1 97.6)" fill="url(#gD)"/>
<ellipse cx="121.4" cy="106.4" rx="8.7" ry="7.6" transform="rotate(98 121.4 106.4)" fill="url(#gD)"/>
<ellipse cx="77.6" cy="126.6" rx="8.3" ry="6.5" transform="rotate(180 77.6 126.6)" fill="url(#gD)"/>
<ellipse cx="114.8" cy="52.7" rx="7.2" ry="4.5" transform="rotate(126 114.8 52.7)" fill="url(#gD)"/>
<circle cx="157.1" cy="57.2" r="6.4" fill="url(#gD)"/>
<circle cx="74.5" cy="129.6" r="6.7" fill="url(#gD)"/>
<circle cx="51.7" cy="73.9" r="7.4" fill="url(#gD)"/>
<circle cx="72.6" cy="117.4" r="5.1" fill="url(#gD)"/>
<circle cx="67.8" cy="137.1" r="6.8" fill="url(#gD)"/>
<circle cx="79.9" cy="106.4" r="4.9" fill="url(#gD)"/>
<circle cx="72.0" cy="90.6" r="5.7" fill="url(#gD)"/>
<ellipse cx="131.8" cy="34.2" rx="6.6" ry="4.3" transform="rotate(133 131.8 34.2)" fill="url(#gD)"/>
<ellipse cx="80.7" cy="83.8" rx="5.6" ry="5.3" transform="rotate(59 80.7 83.8)" fill="url(#gD)"/>
<circle cx="79.8" cy="56.1" r="7.4" fill="url(#gD)"/>
<ellipse cx="83.3" cy="62.0" rx="10.0" ry="6.9" transform="rotate(152 83.3 62.0)" fill="url(#gD)"/>
<circle cx="107.5" cy="53.9" r="4.3" fill="url(#gD)"/>
<circle cx="122.9" cy="79.2" r="7.5" fill="url(#gD)"/>
<ellipse cx="76.0" cy="115.4" rx="9.0" ry="5.6" transform="rotate(70 76.0 115.4)" fill="url(#gD)"/>
<ellipse cx="66.1" cy="104.1" rx="11.8" ry="6.9" transform="rotate(37 66.1 104.1)" fill="url(#gD)"/>
<ellipse cx="145.4" cy="67.8" rx="7.5" ry="5.3" transform="rotate(75 145.4 67.8)" fill="url(#gD)"/>
<ellipse cx="106.8" cy="116.5" rx="12.9" ry="8.2" transform="rotate(23 106.8 116.5)" fill="url(#gD)"/>
<ellipse cx="81.0" cy="90.5" rx="12.5" ry="6.7" transform="rotate(176 81.0 90.5)" fill="url(#gD)"/>
<ellipse cx="74.0" cy="59.3" rx="14.0" ry="8.4" transform="rotate(29 74.0 59.3)" fill="url(#gD)"/>
<circle cx="94.8" cy="81.7" r="4.9" fill="url(#gD)"/>
<ellipse cx="68.3" cy="106.0" rx="15.1" ry="8.2" transform="rotate(135 68.3 106.0)" fill="url(#gD)"/>
<ellipse cx="126.6" cy="72.1" rx="11.1" ry="7.3" transform="rotate(147 126.6 72.1)" fill="url(#gD)"/>
<circle cx="54.9" cy="147.7" r="7.2" fill="url(#gD)"/>
<circle cx="84.1" cy="87.3" r="8.4" fill="url(#gD)"/>
<circle cx="74.6" cy="51.9" r="7.7" fill="url(#gD)"/>
<circle cx="91.7" cy="127.3" r="7.5" fill="url(#gD)"/>
<circle cx="132.1" cy="40.6" r="5.0" fill="url(#gD)"/>
<ellipse cx="138.8" cy="28.2" rx="7.1" ry="6.9" transform="rotate(147 138.8 28.2)" fill="url(#gD)"/>
<ellipse cx="133.7" cy="59.0" rx="8.6" ry="5.3" transform="rotate(121 133.7 59.0)" fill="url(#gD)"/>
<ellipse cx="85.1" cy="47.7" rx="6.9" ry="6.7" transform="rotate(130 85.1 47.7)" fill="url(#gD)"/>
<ellipse cx="94.5" cy="50.8" rx="11.7" ry="7.2" transform="rotate(10 94.5 50.8)" fill="url(#gD)"/>
<ellipse cx="111.2" cy="56.3" rx="10.3" ry="7.2" transform="rotate(179 111.2 56.3)" fill="url(#gD)"/>
<ellipse cx="65.9" cy="144.3" rx="13.5" ry="7.5" transform="rotate(72 65.9 144.3)" fill="url(#gD)"/>
<ellipse cx="120.6" cy="43.7" rx="6.1" ry="5.9" transform="rotate(177 120.6 43.7)" fill="url(#gD)"/>
<circle cx="142.2" cy="103.7" r="6.2" fill="url(#gD)"/>
<ellipse cx="59.6" cy="68.1" rx="4.9" ry="4.7" transform="rotate(152 59.6 68.1)" fill="url(#gD)"/>
<circle cx="51.9" cy="80.5" r="4.0" fill="url(#gD)"/>
<ellipse cx="116.5" cy="90.7" rx="6.3" ry="4.1" transform="rotate(159 116.5 90.7)" fill="url(#gD)"/>
<ellipse cx="29.3" cy="100.3" rx="7.6" ry="4.2" transform="rotate(15 29.3 100.3)" fill="url(#gD)"/>
<circle cx="20.4" cy="95.1" r="5.4" fill="url(#gD)"/>
<ellipse cx="88.5" cy="58.2" rx="13.9" ry="7.4" transform="rotate(27 88.5 58.2)" fill="url(#gD)"/>
<circle cx="96.5" cy="116.8" r="5.3" fill="url(#gD)"/>
<ellipse cx="128.0" cy="43.9" rx="6.0" ry="5.1" transform="rotate(178 128.0 43.9)" fill="url(#gD)"/>
<ellipse cx="93.5" cy="124.4" rx="15.0" ry="7.5" transform="rotate(159 93.5 124.4)" fill="url(#gD)"/>
<ellipse cx="137.1" cy="95.9" rx="15.3" ry="8.0" transform="rotate(110 137.1 95.9)" fill="url(#gD)"/>
<circle cx="56.9" cy="85.5" r="7.1" fill="url(#gD)"/>
<ellipse cx="84.9" cy="101.2" rx="11.5" ry="7.8" transform="rotate(67 84.9 101.2)" fill="url(#gD)"/>
<circle cx="69.2" cy="40.5" r="6.4" fill="url(#gD)"/>
<circle cx="33.5" cy="87.7" r="8.1" fill="url(#gD)"/>
<ellipse cx="83.3" cy="122.7" rx="13.0" ry="7.9" transform="rotate(141 83.3 122.7)" fill="url(#gD)"/>
<circle cx="83.4" cy="139.0" r="5.1" fill="url(#gD)"/>
<ellipse cx="71.0" cy="76.5" rx="7.6" ry="4.1" transform="rotate(9 71.0 76.5)" fill="url(#gD)"/>
<ellipse cx="118.2" cy="44.1" rx="8.9" ry="7.1" transform="rotate(9 118.2 44.1)" fill="url(#gD)"/>
<ellipse cx="100.5" cy="42.7" rx="10.2" ry="6.7" transform="rotate(167 100.5 42.7)" fill="url(#gD)"/>
<circle cx="70.6" cy="140.3" r="6.6" fill="url(#gD)"/>
<circle cx="102.9" cy="126.7" r="7.9" fill="url(#gD)"/>
<circle cx="94.4" cy="56.1" r="6.5" fill="url(#gD)"/>
<circle cx="87.7" cy="38.2" r="7.4" fill="url(#gD)"/>
<circle cx="76.3" cy="81.2" r="5.4" fill="url(#gD)"/>
<circle cx="65.4" cy="127.4" r="6.1" fill="url(#gD)"/>
<circle cx="163.3" cy="54.1" r="7.4" fill="url(#gD)"/>
<ellipse cx="78.2" cy="109.5" rx="4.5" ry="4.1" transform="rotate(177 78.2 109.5)" fill="url(#gD)"/>
<circle cx="119.3" cy="81.0" r="4.2" fill="url(#gD)"/>
<circle cx="131.9" cy="84.0" r="4.0" fill="url(#gD)"/>
<circle cx="127.2" cy="94.5" r="7.8" fill="url(#gD)"/>
<ellipse cx="55.6" cy="124.9" rx="11.9" ry="7.6" transform="rotate(150 55.6 124.9)" fill="url(#gD)"/>
<ellipse cx="124.2" cy="67.3" rx="8.7" ry="4.8" transform="rotate(133 124.2 67.3)" fill="url(#gD)"/>
<circle cx="71.8" cy="148.0" r="8.1" fill="url(#gD)"/>
<ellipse cx="58.1" cy="109.2" rx="10.6" ry="7.7" transform="rotate(78 58.1 109.2)" fill="url(#gD)"/>
<circle cx="150.2" cy="31.3" r="5.1" fill="url(#gD)"/>
<ellipse cx="118.5" cy="40.8" rx="8.0" ry="6.1" transform="rotate(78 118.5 40.8)" fill="url(#gD)"/>
<circle cx="94.3" cy="95.9" r="8.0" fill="url(#gD)"/>
<circle cx="40.5" cy="112.0" r="7.7" fill="url(#gD)"/>
<ellipse cx="129.4" cy="58.9" rx="10.9" ry="8.5" transform="rotate(16 129.4 58.9)" fill="url(#gD)"/>
<ellipse cx="98.0" cy="111.8" rx="13.9" ry="7.8" transform="rotate(35 98.0 111.8)" fill="url(#gD)"/>
<ellipse cx="133.8" cy="49.8" rx="9.3" ry="4.9" transform="rotate(45 133.8 49.8)" fill="url(#gD)"/>
<ellipse cx="154.8" cy="29.4" rx="10.6" ry="5.5" transform="rotate(104 154.8 29.4)" fill="url(#gD)"/>
<ellipse cx="161.8" cy="45.8" rx="8.7" ry="4.5" transform="rotate(21 161.8 45.8)" fill="url(#gD)"/>
<ellipse cx="70.2" cy="70.2" rx="10.5" ry="8.4" transform="rotate(97 70.2 70.2)" fill="url(#gD)"/>
<ellipse cx="113.4" cy="93.5" rx="8.1" ry="6.6" transform="rotate(19 113.4 93.5)" fill="url(#gD)"/>
<ellipse cx="40.3" cy="86.4" rx="11.6" ry="6.3" transform="rotate(20 40.3 86.4)" fill="url(#gD)"/>
<ellipse cx="144.3" cy="28.9" rx="7.4" ry="6.8" transform="rotate(120 144.3 28.9)" fill="url(#gD)"/>
<ellipse cx="133.6" cy="76.5" rx="13.2" ry="7.8" transform="rotate(12 133.6 76.5)" fill="url(#gD)"/>
<ellipse cx="88.9" cy="52.8" rx="7.0" ry="5.3" transform="rotate(69 88.9 52.8)" fill="url(#gD)"/>
<ellipse cx="65.9" cy="83.9" rx="12.8" ry="8.2" transform="rotate(76 65.9 83.9)" fill="url(#gD)"/>
<ellipse cx="54.8" cy="120.0" rx="9.8" ry="5.9" transform="rotate(88 54.8 120.0)" fill="url(#gD)"/>
<ellipse cx="36.8" cy="74.8" rx="9.6" ry="6.2" transform="rotate(2 36.8 74.8)" fill="url(#gD)"/>
<circle cx="94.7" cy="125.6" r="7.1" fill="url(#gD)"/>
<ellipse cx="43.3" cy="102.3" rx="10.9" ry="6.5" transform="rotate(71 43.3 102.3)" fill="url(#gD)"/>
<circle cx="157.0" cy="49.2" r="8.4" fill="url(#gD)"/>
<circle cx="154.0" cy="35.2" r="6.0" fill="url(#gD)"/>
<circle cx="136.1" cy="37.5" r="5.1" fill="url(#gD)"/>
<ellipse cx="81.9" cy="95.3" rx="11.5" ry="7.0" transform="rotate(68 81.9 95.3)" fill="url(#gD)"/>
<ellipse cx="88.4" cy="118.0" rx="9.3" ry="6.9" transform="rotate(169 88.4 118.0)" fill="url(#gD)"/>
<ellipse cx="33.5" cy="105.3" rx="11.0" ry="6.6" transform="rotate(21 33.5 105.3)" fill="url(#gD)"/>
<ellipse cx="79.3" cy="66.3" rx="6.3" ry="4.6" transform="rotate(84 79.3 66.3)" fill="url(#gD)"/>
<circle cx="46.2" cy="126.6" r="7.4" fill="url(#gD)"/>
<circle cx="99.1" cy="71.1" r="4.2" fill="url(#gD)"/>
<ellipse cx="159.7" cy="32.9" rx="6.1" ry="5.6" transform="rotate(75 159.7 32.9)" fill="url(#gD)"/>
<ellipse cx="69.2" cy="110.6" rx="8.6" ry="5.0" transform="rotate(62 69.2 110.6)" fill="url(#gD)"/>
<ellipse cx="74.3" cy="64.1" rx="11.4" ry="7.9" transform="rotate(100 74.3 64.1)" fill="url(#gD)"/>
<ellipse cx="66.1" cy="65.1" rx="13.7" ry="8.0" transform="rotate(15 66.1 65.1)" fill="url(#gD)"/>
<circle cx="40.7" cy="120.0" r="7.2" fill="url(#gD)"/>
<ellipse cx="58.4" cy="93.5" rx="8.8" ry="6.9" transform="rotate(85 58.4 93.5)" fill="url(#gD)"/>
<ellipse cx="114.6" cy="71.0" rx="10.0" ry="8.0" transform="rotate(134 114.6 71.0)" fill="url(#gD)"/>
<circle cx="81.4" cy="118.3" r="7.3" fill="url(#gD)"/>
<circle cx="97.9" cy="91.8" r="4.2" fill="url(#gD)"/>
<ellipse cx="112.6" cy="100.4" rx="12.1" ry="6.2" transform="rotate(122 112.6 100.4)" fill="url(#gD)"/>
<ellipse cx="70.0" cy="124.8" rx="10.0" ry="8.5" transform="rotate(6 70.0 124.8)" fill="url(#gD)"/>
<ellipse cx="118.9" cy="109.4" rx="11.6" ry="7.2" transform="rotate(106 118.9 109.4)" fill="url(#gD)"/>
<ellipse cx="59.3" cy="73.4" rx="10.2" ry="8.4" transform="rotate(41 59.3 73.4)" fill="url(#gD)"/>
<ellipse cx="54.3" cy="129.6" rx="8.2" ry="6.0" transform="rotate(16 54.3 129.6)" fill="url(#gD)"/>
<circle cx="107.1" cy="65.0" r="8.1" fill="url(#gD)"/>
<ellipse cx="119.3" cy="123.8" rx="15.6" ry="8.1" transform="rotate(88 119.3 123.8)" fill="url(#gD)"/>
<ellipse cx="143.8" cy="38.1" rx="7.5" ry="5.6" transform="rotate(29 143.8 38.1)" fill="url(#gD)"/>
<circle cx="158.2" cy="36.8" r="8.5" fill="url(#gD)"/>
<circle cx="35.0" cy="108.8" r="7.3" fill="url(#gD)"/>
<circle cx="64.3" cy="121.4" r="8.0" fill="url(#gD)"/>
<circle cx="133.8" cy="94.1" r="6.3" fill="url(#gD)"/>
<ellipse cx="97.4" cy="130.4" rx="9.6" ry="6.5" transform="rotate(75 97.4 130.4)" fill="url(#gD)"/>
<circle cx="145.7" cy="60.4" r="4.9" fill="url(#gD)"/>
<ellipse cx="98.0" cy="40.8" rx="6.1" ry="4.1" transform="rotate(148 98.0 40.8)" fill="url(#gD)"/>
<ellipse cx="157.5" cy="63.3" rx="11.4" ry="7.5" transform="rotate(146 157.5 63.3)" fill="url(#gD)"/>
<ellipse cx="131.4" cy="51.6" rx="12.8" ry="8.1" transform="rotate(122 131.4 51.6)" fill="url(#gD)"/>
<ellipse cx="71.7" cy="138.0" rx="6.6" ry="6.2" transform="rotate(79 71.7 138.0)" fill="url(#gD)"/>
<ellipse cx="67.6" cy="49.0" rx="6.3" ry="4.4" transform="rotate(13 67.6 49.0)" fill="url(#gD)"/>
<ellipse cx="135.1" cy="109.2" rx="8.6" ry="5.9" transform="rotate(166 135.1 109.2)" fill="url(#gD)"/>
<ellipse cx="106.3" cy="111.9" rx="9.2" ry="4.7" transform="rotate(174 106.3 111.9)" fill="url(#gD)"/>
<ellipse cx="88.6" cy="73.4" rx="8.0" ry="5.4" transform="rotate(160 88.6 73.4)" fill="url(#gD)"/>
<circle cx="47.1" cy="110.4" r="5.1" fill="url(#gD)"/>
<ellipse cx="150.2" cy="55.2" rx="6.3" ry="5.9" transform="rotate(51 150.2 55.2)" fill="url(#gD)"/>
<ellipse cx="58.3" cy="48.9" rx="8.9" ry="6.4" transform="rotate(130 58.3 48.9)" fill="url(#gD)"/>
<ellipse cx="42.5" cy="68.5" rx="9.4" ry="6.1" transform="rotate(112 42.5 68.5)" fill="url(#gD)"/>
<ellipse cx="151.0" cy="28.1" rx="8.5" ry="6.2" transform="rotate(177 151.0 28.1)" fill="url(#gD)"/>
<ellipse cx="60.1" cy="145.8" rx="5.5" ry="5.4" transform="rotate(53 60.1 145.8)" fill="url(#gD)"/>
<ellipse cx="54.9" cy="51.4" rx="12.9" ry="7.6" transform="rotate(165 54.9 51.4)" fill="url(#gD)"/>
<ellipse cx="106.9" cy="66.1" rx="11.2" ry="6.8" transform="rotate(162 106.9 66.1)" fill="url(#gD)"/>
<circle cx="98.1" cy="104.5" r="7.3" fill="url(#gD)"/>
<ellipse cx="125.9" cy="40.9" rx="7.8" ry="4.4" transform="rotate(19 125.9 40.9)" fill="url(#gD)"/>
<ellipse cx="83.7" cy="52.2" rx="7.0" ry="4.1" transform="rotate(94 83.7 52.2)" fill="url(#gD)"/>
<ellipse cx="126.0" cy="95.6" rx="7.6" ry="5.5" transform="rotate(47 126.0 95.6)" fill="url(#gD)"/>
<ellipse cx="51.6" cy="64.6" rx="12.0" ry="6.9" transform="rotate(175 51.6 64.6)" fill="url(#gD)"/>
<ellipse cx="51.8" cy="94.9" rx="8.7" ry="4.5" transform="rotate(16 51.8 94.9)" fill="url(#gD)"/>
<circle cx="52.5" cy="133.7" r="8.3" fill="url(#gD)"/>
<ellipse cx="88.2" cy="95.9" rx="10.5" ry="5.5" transform="rotate(56 88.2 95.9)" fill="url(#gD)"/>
<ellipse cx="63.7" cy="93.0" rx="11.8" ry="8.1" transform="rotate(72 63.7 93.0)" fill="url(#gD)"/>
<ellipse cx="124.4" cy="59.9" rx="7.2" ry="6.8" transform="rotate(95 124.4 59.9)" fill="url(#gD)"/>
<ellipse cx="120.1" cy="113.2" rx="10.6" ry="7.4" transform="rotate(82 120.1 113.2)" fill="url(#gD)"/>
<circle cx="123.5" cy="83.0" r="5.9" fill="url(#gD)"/>
<circle cx="84.3" cy="128.8" r="7.6" fill="url(#gD)"/>
<circle cx="48.2" cy="138.8" r="7.2" fill="url(#gD)"/>
<ellipse cx="136.4" cy="45.5" rx="11.0" ry="6.6" transform="rotate(46 136.4 45.5)" fill="url(#gD)"/>
</g>
<path d="M20.9,98.1 C19.8,95.8 21.5,93.4 22.4,92.2 C23.3,91.0 24.6,91.2 26.1,90.7 C27.6,90.2 29.8,90.2 31.3,89.3 C32.8,88.4 33.8,86.7 35.0,85.6 C36.2,84.5 37.6,84.5 38.7,82.6 C39.8,80.7 40.8,76.5 41.7,74.4 C42.6,72.3 42.7,70.8 43.9,70.0 C45.1,69.2 47.4,69.9 49.1,69.3 C50.8,68.7 53.2,67.9 54.3,66.3 C55.4,64.7 55.6,62.0 55.7,59.6 C55.8,57.2 54.9,54.5 55.0,52.2 C55.1,49.9 55.8,47.0 56.5,45.6 C57.2,44.2 57.9,43.7 59.4,43.6 C60.9,43.5 63.5,44.7 65.4,44.8 C67.3,44.9 69.4,44.7 70.6,44.1 C71.8,43.5 71.7,41.9 72.8,41.1 C73.9,40.3 75.7,39.3 77.2,39.2 C78.7,39.1 80.2,40.2 81.7,40.7 C83.2,41.2 83.8,41.0 86.0,42.0 C88.2,43.0 91.4,46.4 94.6,46.6 C97.8,46.8 101.5,43.9 105.0,43.1 C108.5,42.3 112.2,42.2 115.4,41.9 C118.6,41.5 122.0,42.0 124.0,41.0 C126.0,40.0 126.7,37.5 127.5,36.0 C128.3,34.5 128.2,33.0 129.0,32.0 C129.8,31.0 130.9,30.3 132.0,30.0 C133.1,29.7 134.2,29.5 135.5,30.2 C136.8,30.9 138.7,33.0 140.0,34.0 C141.3,35.0 142.6,37.0 143.5,36.5 C144.4,36.0 144.6,32.4 145.5,31.0 C146.4,29.6 147.8,28.8 149.0,28.3 C150.2,27.8 151.8,27.5 153.0,28.0 C154.2,28.5 155.3,29.8 156.0,31.5 C156.7,33.2 157.0,35.9 157.4,38.0 C157.8,40.1 157.9,42.0 158.5,44.0 C159.1,46.0 161.1,48.2 161.0,50.0 C160.9,51.8 159.0,53.5 158.0,55.0 C157.0,56.5 156.0,57.4 155.0,59.0 C154.0,60.6 153.3,62.8 152.0,64.5 C150.7,66.2 148.6,67.5 147.0,69.0 C145.4,70.5 144.3,71.7 142.6,73.3 C140.9,74.9 138.5,76.9 137.0,78.5 C135.5,80.1 134.4,81.3 133.5,83.0 C132.6,84.7 131.2,86.8 131.5,88.9 C131.8,91.0 133.8,93.5 135.2,95.6 C136.5,97.7 138.5,99.5 139.6,101.5 C140.7,103.5 141.8,105.8 141.9,107.4 C142.1,109.0 142.6,110.4 140.5,111.3 C138.4,112.2 132.2,111.8 129.3,112.6 C126.4,113.4 125.3,114.9 123.3,116.3 C121.3,117.7 119.4,119.2 117.4,120.7 C115.4,122.2 114.0,124.4 111.5,125.2 C109.0,126.0 105.1,125.2 102.4,125.4 C99.7,125.6 97.7,126.0 95.4,126.6 C93.1,127.2 91.0,127.2 88.5,128.9 C86.0,130.6 82.7,134.7 80.4,137.0 C78.1,139.3 77.5,141.4 74.6,142.7 C71.7,144.0 66.5,145.0 63.1,145.0 C59.7,145.0 56.0,144.4 53.9,142.7 C51.8,141.0 51.5,137.2 50.4,134.6 C49.3,132.0 48.8,130.4 47.5,127.3 C46.2,124.2 45.8,119.3 42.7,115.8 C39.7,112.2 32.8,109.0 29.2,106.0 C25.6,103.0 22.0,100.4 20.9,98.1Z" fill="url(#gShade)"/>
<g clip-path="url(#cTopD)" fill="#e8e8e8">
<ellipse cx="58.5" cy="54.3" rx="2.9" ry="0.55" transform="rotate(161 58.5 54.3)" opacity="0.33"/>
<circle cx="50.6" cy="87.6" r="0.6" opacity="0.64"/>
<ellipse cx="96.3" cy="54.0" rx="3.1" ry="0.55" transform="rotate(1 96.3 54.0)" opacity="0.62"/>
<circle cx="117.7" cy="68.1" r="0.9" opacity="0.50"/>
<ellipse cx="73.0" cy="93.1" rx="2.7" ry="0.55" transform="rotate(155 73.0 93.1)" opacity="0.53"/>
<circle cx="109.0" cy="71.1" r="0.6" opacity="0.47"/>
<ellipse cx="105.3" cy="48.2" rx="1.8" ry="0.55" transform="rotate(68 105.3 48.2)" opacity="0.70"/>
<ellipse cx="109.6" cy="93.7" rx="3.2" ry="0.55" transform="rotate(140 109.6 93.7)" opacity="0.39"/>
<ellipse cx="57.5" cy="52.9" rx="3.3" ry="0.55" transform="rotate(57 57.5 52.9)" opacity="0.56"/>
<circle cx="75.4" cy="135.9" r="0.6" opacity="0.46"/>
<ellipse cx="98.6" cy="59.0" rx="3.3" ry="0.55" transform="rotate(72 98.6 59.0)" opacity="0.39"/>
<ellipse cx="35.4" cy="102.0" rx="2.3" ry="0.55" transform="rotate(11 35.4 102.0)" opacity="0.45"/>
<circle cx="115.4" cy="91.4" r="0.8" opacity="0.40"/>
<ellipse cx="80.9" cy="81.5" rx="3.3" ry="0.55" transform="rotate(47 80.9 81.5)" opacity="0.50"/>
<ellipse cx="141.9" cy="63.2" rx="2.7" ry="0.55" transform="rotate(28 141.9 63.2)" opacity="0.61"/>
<ellipse cx="95.5" cy="119.9" rx="1.5" ry="0.55" transform="rotate(58 95.5 119.9)" opacity="0.31"/>
<circle cx="136.4" cy="64.3" r="0.9" opacity="0.78"/>
<circle cx="127.2" cy="43.2" r="0.7" opacity="0.47"/>
<ellipse cx="49.7" cy="91.6" rx="1.9" ry="0.55" transform="rotate(56 49.7 91.6)" opacity="0.70"/>
<ellipse cx="111.0" cy="79.7" rx="1.7" ry="0.55" transform="rotate(40 111.0 79.7)" opacity="0.44"/>
<circle cx="102.4" cy="55.2" r="0.5" opacity="0.63"/>
<ellipse cx="52.1" cy="134.8" rx="1.6" ry="0.55" transform="rotate(43 52.1 134.8)" opacity="0.57"/>
<ellipse cx="86.2" cy="120.6" rx="1.9" ry="0.55" transform="rotate(17 86.2 120.6)" opacity="0.47"/>
<ellipse cx="79.3" cy="83.1" rx="2.8" ry="0.55" transform="rotate(177 79.3 83.1)" opacity="0.34"/>
<ellipse cx="76.4" cy="68.0" rx="2.0" ry="0.55" transform="rotate(34 76.4 68.0)" opacity="0.48"/>
<circle cx="79.1" cy="60.9" r="0.9" opacity="0.55"/>
<circle cx="43.3" cy="85.3" r="0.7" opacity="0.38"/>
<circle cx="57.1" cy="120.5" r="0.7" opacity="0.78"/>
<circle cx="120.6" cy="46.3" r="0.9" opacity="0.61"/>
<circle cx="95.9" cy="116.3" r="0.7" opacity="0.58"/>
<ellipse cx="139.4" cy="46.6" rx="1.7" ry="0.55" transform="rotate(33 139.4 46.6)" opacity="0.54"/>
<circle cx="114.5" cy="55.8" r="0.9" opacity="0.46"/>
<circle cx="103.2" cy="101.1" r="0.7" opacity="0.59"/>
<ellipse cx="150.9" cy="52.1" rx="2.0" ry="0.55" transform="rotate(71 150.9 52.1)" opacity="0.57"/>
<ellipse cx="62.0" cy="65.3" rx="1.6" ry="0.55" transform="rotate(82 62.0 65.3)" opacity="0.70"/>
<circle cx="143.1" cy="71.6" r="0.8" opacity="0.67"/>
<ellipse cx="134.4" cy="63.3" rx="3.4" ry="0.55" transform="rotate(24 134.4 63.3)" opacity="0.35"/>
<circle cx="35.0" cy="93.3" r="0.7" opacity="0.67"/>
<circle cx="48.5" cy="102.8" r="0.7" opacity="0.76"/>
<circle cx="138.5" cy="38.9" r="0.6" opacity="0.35"/>
<circle cx="128.0" cy="103.2" r="0.8" opacity="0.60"/>
<ellipse cx="63.2" cy="134.1" rx="3.2" ry="0.55" transform="rotate(162 63.2 134.1)" opacity="0.38"/>
<circle cx="76.9" cy="101.2" r="0.9" opacity="0.74"/>
<ellipse cx="123.1" cy="67.2" rx="3.1" ry="0.55" transform="rotate(156 123.1 67.2)" opacity="0.62"/>
<circle cx="57.4" cy="120.9" r="0.8" opacity="0.74"/>
<circle cx="51.1" cy="124.4" r="0.6" opacity="0.71"/>
<circle cx="59.1" cy="103.7" r="0.9" opacity="0.59"/>
<ellipse cx="151.5" cy="41.6" rx="1.9" ry="0.55" transform="rotate(173 151.5 41.6)" opacity="0.41"/>
<ellipse cx="122.0" cy="65.0" rx="2.5" ry="0.55" transform="rotate(69 122.0 65.0)" opacity="0.53"/>
<circle cx="55.7" cy="111.6" r="0.9" opacity="0.59"/>
<ellipse cx="120.7" cy="115.6" rx="2.2" ry="0.55" transform="rotate(13 120.7 115.6)" opacity="0.57"/>
<ellipse cx="66.2" cy="65.0" rx="2.9" ry="0.55" transform="rotate(54 66.2 65.0)" opacity="0.42"/>
<circle cx="77.2" cy="75.5" r="0.6" opacity="0.54"/>
<circle cx="62.1" cy="92.7" r="0.6" opacity="0.54"/>
<circle cx="101.2" cy="105.3" r="0.7" opacity="0.45"/>
<circle cx="131.4" cy="48.0" r="0.7" opacity="0.63"/>
<ellipse cx="66.9" cy="124.6" rx="2.8" ry="0.55" transform="rotate(40 66.9 124.6)" opacity="0.38"/>
<circle cx="86.5" cy="128.3" r="0.7" opacity="0.63"/>
<circle cx="47.2" cy="110.2" r="0.6" opacity="0.65"/>
<circle cx="127.8" cy="40.6" r="0.6" opacity="0.78"/>
<circle cx="54.9" cy="128.1" r="0.8" opacity="0.65"/>
<ellipse cx="105.8" cy="112.9" rx="3.2" ry="0.55" transform="rotate(99 105.8 112.9)" opacity="0.66"/>
<circle cx="124.1" cy="84.0" r="0.6" opacity="0.64"/>
<ellipse cx="127.2" cy="89.5" rx="2.0" ry="0.55" transform="rotate(14 127.2 89.5)" opacity="0.41"/>
<ellipse cx="58.0" cy="65.7" rx="1.8" ry="0.55" transform="rotate(42 58.0 65.7)" opacity="0.58"/>
<circle cx="77.1" cy="92.0" r="0.6" opacity="0.54"/>
<circle cx="127.2" cy="72.9" r="0.6" opacity="0.69"/>
<ellipse cx="78.7" cy="116.2" rx="2.7" ry="0.55" transform="rotate(40 78.7 116.2)" opacity="0.39"/>
<circle cx="67.1" cy="108.1" r="0.6" opacity="0.56"/>
<circle cx="37.9" cy="101.4" r="0.7" opacity="0.60"/>
<circle cx="39.0" cy="82.5" r="0.7" opacity="0.45"/>
<circle cx="65.8" cy="117.8" r="0.8" opacity="0.72"/>
<ellipse cx="111.0" cy="120.2" rx="3.0" ry="0.55" transform="rotate(171 111.0 120.2)" opacity="0.38"/>
<ellipse cx="37.7" cy="107.0" rx="1.9" ry="0.55" transform="rotate(126 37.7 107.0)" opacity="0.61"/>
<ellipse cx="43.5" cy="99.7" rx="1.7" ry="0.55" transform="rotate(147 43.5 99.7)" opacity="0.69"/>
<ellipse cx="63.7" cy="107.9" rx="2.3" ry="0.55" transform="rotate(129 63.7 107.9)" opacity="0.33"/>
<circle cx="116.7" cy="102.0" r="0.8" opacity="0.73"/>
<circle cx="68.6" cy="78.5" r="0.7" opacity="0.50"/>
<ellipse cx="119.0" cy="79.4" rx="3.4" ry="0.55" transform="rotate(49 119.0 79.4)" opacity="0.62"/>
<circle cx="95.3" cy="85.1" r="0.8" opacity="0.47"/>
</g>
<g clip-path="url(#cTopD)"><path d="M100.0,44.5 C100.7,43.5 102.4,43.5 105.0,43.1 C107.6,42.7 112.2,42.2 115.4,41.9 C118.6,41.5 121.9,40.6 124.0,41.0 C126.1,41.4 126.8,42.5 128.0,44.0 C129.2,45.5 130.7,47.8 131.0,50.0 C131.3,52.2 130.8,55.3 130.0,57.0 C129.2,58.7 127.8,59.7 126.0,60.0 C124.2,60.3 121.3,59.7 119.0,59.0 C116.7,58.3 114.2,57.2 112.0,56.0 C109.8,54.8 107.8,53.2 106.0,52.0 C104.2,50.8 102.0,50.2 101.0,49.0 C100.0,47.8 99.3,45.5 100.0,44.5Z" fill="#8c8c8c" filter="url(#bumpL)" opacity="0.6"/><path d="M47.0,127.0 C47.8,125.8 52.5,127.3 55.0,128.0 C57.5,128.7 59.5,130.2 62.0,131.0 C64.5,131.8 67.0,132.5 70.0,133.0 C73.0,133.5 78.3,133.3 80.0,134.0 C81.7,134.7 81.3,135.6 80.4,137.0 C79.5,138.4 77.5,141.3 74.6,142.7 C71.7,144.1 66.5,145.4 63.1,145.5 C59.7,145.6 56.0,144.8 53.9,143.0 C51.8,141.2 51.5,137.7 50.4,135.0 C49.2,132.3 46.2,128.2 47.0,127.0Z" fill="#a0a0a0" opacity="0.35"/></g>
<path d="M132,33.5 L147,56" stroke="#252525" stroke-width="9.7" stroke-linecap="round"/>
<path d="M132,33.5 L147,56" stroke="#3d3d3d" stroke-width="8.5" stroke-linecap="round"/>
<path d="M130.8,33.8 L145.8,56.3" stroke="#4e4e4e" stroke-width="3.0" stroke-linecap="round"/>
<circle cx="131.2" cy="32.3" r="0.9" fill="#9a9a9a"/>
<path d="M150.5,31.5 L157.5,50.5" stroke="#252525" stroke-width="8.7" stroke-linecap="round"/>
<path d="M150.5,31.5 L157.5,50.5" stroke="#3d3d3d" stroke-width="7.5" stroke-linecap="round"/>
<path d="M149.3,31.8 L156.3,50.8" stroke="#4e4e4e" stroke-width="2.6" stroke-linecap="round"/>
<circle cx="149.7" cy="30.3" r="0.9" fill="#9a9a9a"/>
<path d="M20.9,98.1 C19.8,95.8 21.5,93.4 22.4,92.2 C23.3,91.0 24.6,91.2 26.1,90.7 C27.6,90.2 29.8,90.2 31.3,89.3 C32.8,88.4 33.8,86.7 35.0,85.6 C36.2,84.5 37.6,84.5 38.7,82.6 C39.8,80.7 40.8,76.5 41.7,74.4 C42.6,72.3 42.7,70.8 43.9,70.0 C45.1,69.2 47.4,69.9 49.1,69.3 C50.8,68.7 53.2,67.9 54.3,66.3 C55.4,64.7 55.6,62.0 55.7,59.6 C55.8,57.2 54.9,54.5 55.0,52.2 C55.1,49.9 55.8,47.0 56.5,45.6 C57.2,44.2 57.9,43.7 59.4,43.6 C60.9,43.5 63.5,44.7 65.4,44.8 C67.3,44.9 69.4,44.7 70.6,44.1 C71.8,43.5 71.7,41.9 72.8,41.1 C73.9,40.3 75.7,39.3 77.2,39.2 C78.7,39.1 80.2,40.2 81.7,40.7 C83.2,41.2 83.8,41.0 86.0,42.0 C88.2,43.0 91.4,46.4 94.6,46.6 C97.8,46.8 101.5,43.9 105.0,43.1 C108.5,42.3 112.2,42.2 115.4,41.9 C118.6,41.5 122.0,42.0 124.0,41.0 C126.0,40.0 126.7,37.5 127.5,36.0 C128.3,34.5 128.2,33.0 129.0,32.0 C129.8,31.0 130.9,30.3 132.0,30.0 C133.1,29.7 134.2,29.5 135.5,30.2 C136.8,30.9 138.7,33.0 140.0,34.0 C141.3,35.0 142.6,37.0 143.5,36.5 C144.4,36.0 144.6,32.4 145.5,31.0 C146.4,29.6 147.8,28.8 149.0,28.3 C150.2,27.8 151.8,27.5 153.0,28.0 C154.2,28.5 155.3,29.8 156.0,31.5 C156.7,33.2 157.0,35.9 157.4,38.0 C157.8,40.1 157.6,43.1 158.5,44.0 C159.4,44.9 161.8,44.2 163.0,43.5 C164.2,42.8 165.0,40.8 166.0,40.0 C167.0,39.2 168.0,39.4 169.2,38.7 C170.4,38.0 171.2,35.6 173.1,35.8 C175.0,35.9 178.2,38.0 180.8,39.6 C183.4,41.2 186.3,43.5 188.5,45.4 C190.7,47.3 192.9,49.0 194.2,51.2 C195.5,53.4 194.9,56.7 196.2,58.8 C197.5,60.9 200.0,62.9 201.9,63.7 C203.8,64.5 205.8,63.1 207.7,63.7 C209.6,64.3 210.9,66.5 213.5,67.5 C216.1,68.5 220.2,68.8 223.1,69.4 C226.0,70.0 228.4,70.5 230.8,71.3 C233.2,72.1 235.8,72.9 237.5,74.5 C239.2,76.1 240.4,78.8 240.8,81.0 C241.2,83.2 240.5,85.7 239.8,88.0 C239.1,90.3 237.4,92.4 236.5,95.0 C235.6,97.6 234.8,101.2 234.3,103.7 C233.8,106.2 233.8,107.6 233.5,110.0 C233.2,112.4 233.0,115.3 232.6,118.0 C232.2,120.7 231.9,123.8 231.1,126.0 C230.2,128.2 228.7,130.2 227.5,131.5 C226.3,132.8 225.8,132.8 223.8,134.0 C221.8,135.2 218.1,137.2 215.3,138.6 C212.5,140.0 209.7,141.5 206.9,142.5 C204.1,143.5 201.6,144.4 198.4,144.4 C195.2,144.4 191.4,143.2 187.9,142.3 C184.4,141.4 180.8,140.2 177.3,139.1 C173.8,138.0 169.9,137.1 166.7,135.9 C163.5,134.7 160.9,133.4 158.3,131.7 C155.7,129.9 153.0,127.5 150.9,125.4 C148.8,123.3 147.1,121.3 145.6,119.0 C144.1,116.7 143.0,112.7 142.0,111.5 C141.0,110.3 141.7,111.4 139.6,111.6 C137.5,111.8 132.0,111.8 129.3,112.6 C126.6,113.4 125.3,114.9 123.3,116.3 C121.3,117.7 119.4,119.2 117.4,120.7 C115.4,122.2 114.0,124.4 111.5,125.2 C109.0,126.0 105.1,125.2 102.4,125.4 C99.7,125.6 97.7,126.0 95.4,126.6 C93.1,127.2 91.0,127.2 88.5,128.9 C86.0,130.6 82.7,134.7 80.4,137.0 C78.1,139.3 77.5,141.4 74.6,142.7 C71.7,144.0 66.5,145.0 63.1,145.0 C59.7,145.0 56.0,144.4 53.9,142.7 C51.8,141.0 51.5,137.2 50.4,134.6 C49.3,132.0 48.8,130.4 47.5,127.3 C46.2,124.2 45.8,119.3 42.7,115.8 C39.7,112.2 32.8,109.0 29.2,106.0 C25.6,103.0 22.0,100.4 20.9,98.1Z" fill="none" stroke="#3a3a3a" stroke-width="0.7"/>
<path d="M43.5,283.8 C43.5,281.6 43.6,280.0 44.2,278.0 C44.8,276.0 45.8,274.1 47.0,272.0 C48.2,269.9 50.1,266.8 51.5,265.4 C52.9,264.0 53.8,264.1 55.4,263.5 C57.0,262.9 59.0,262.1 61.2,261.5 C63.4,260.9 66.6,260.4 68.8,259.6 C71.0,258.8 72.7,257.7 74.6,256.7 C76.5,255.7 78.5,254.6 80.4,253.8 C82.3,253.0 84.3,252.5 86.2,251.9 C88.1,251.3 90.0,250.8 91.9,250.0 C93.8,249.2 96.1,248.4 97.7,247.1 C99.3,245.8 100.1,244.1 101.5,242.3 C102.9,240.5 105.0,238.1 106.3,236.5 C107.6,234.9 107.9,233.6 109.2,232.7 C110.5,231.8 112.4,230.8 114.0,230.8 C115.6,230.8 117.3,231.9 118.8,232.7 C120.2,233.5 121.1,234.8 122.7,235.6 C124.3,236.4 126.6,237.5 128.5,237.5 C130.4,237.5 132.3,236.3 134.2,235.6 C136.1,234.9 137.8,234.3 140.0,233.5 C142.2,232.7 144.8,231.4 147.7,230.6 C150.6,229.8 154.9,228.9 157.3,228.7 C159.7,228.5 160.8,228.6 162.1,229.6 C163.4,230.6 163.6,233.1 165.0,234.4 C166.4,235.7 169.0,236.6 170.8,237.3 C172.6,238.0 174.1,238.6 176.0,238.8 C177.9,239.0 179.8,238.7 182.5,238.5 C185.2,238.3 188.7,237.2 192.0,237.5 C195.3,237.8 199.4,239.5 202.5,240.0 C205.6,240.5 208.4,240.2 210.6,240.6 C212.8,241.0 214.4,241.0 215.4,242.6 C216.4,244.2 216.6,247.6 216.8,250.3 C217.0,253.0 216.5,256.3 216.8,258.6 C217.2,260.9 217.6,262.9 218.9,264.2 C220.2,265.5 222.7,265.6 224.4,266.3 C226.1,267.0 228.1,267.0 229.3,268.3 C230.5,269.6 230.5,272.0 231.4,273.9 C232.3,275.8 233.3,277.8 234.9,279.4 C236.5,281.0 239.4,282.3 241.1,283.6 C242.8,284.9 244.5,285.7 245.3,287.1 C246.1,288.5 246.5,290.9 246.0,292.0 C245.5,293.1 244.0,293.6 242.5,294.0 C241.0,294.4 238.6,294.1 237.0,294.7 C235.4,295.3 234.2,296.1 232.8,297.5 C231.4,298.9 229.8,301.3 228.6,303.0 C227.4,304.7 226.6,305.5 225.5,307.5 C224.4,309.5 223.2,312.8 221.9,315.0 C220.7,317.2 218.3,318.7 218.0,320.7 C217.7,322.7 220.1,325.0 219.8,327.1 C219.6,329.2 217.9,331.3 216.5,333.4 C215.1,335.5 213.6,338.3 211.3,339.5 C209.0,340.7 205.7,341.1 202.9,340.8 C200.1,340.6 196.5,339.6 194.4,338.0 C192.3,336.4 191.7,333.6 190.5,331.3 C189.3,329.0 188.5,325.9 187.0,324.0 C185.5,322.1 183.6,321.1 181.7,319.7 C179.8,318.3 177.5,316.9 175.4,315.5 C173.3,314.1 171.1,312.4 169.0,311.2 C166.9,310.0 165.0,309.0 162.7,308.1 C160.4,307.2 157.4,306.7 155.0,306.0 C152.6,305.3 150.3,304.2 148.0,304.0 C145.7,303.8 143.2,303.5 141.0,304.5 C138.8,305.5 136.5,307.8 134.5,310.0 C132.5,312.2 131.1,315.5 129.0,318.0 C126.9,320.5 124.5,322.9 122.0,325.0 C119.5,327.1 117.0,329.1 114.0,330.5 C111.0,331.9 106.6,332.2 104.2,333.1 C101.8,334.1 101.4,335.6 99.6,336.2 C97.8,336.8 95.5,337.0 93.5,336.9 C91.5,336.8 89.3,336.3 87.3,335.4 C85.2,334.5 83.2,332.8 81.2,331.5 C79.2,330.2 76.8,329.2 75.0,327.7 C73.2,326.2 71.7,324.5 70.4,322.3 C69.1,320.1 68.7,316.5 67.3,314.6 C65.9,312.7 63.7,312.1 61.9,310.8 C60.1,309.5 58.2,308.4 56.5,306.9 C54.8,305.3 53.4,303.0 51.9,301.5 C50.4,300.0 48.6,299.4 47.3,297.7 C46.0,296.0 44.8,293.8 44.2,291.5 C43.6,289.2 43.5,286.1 43.5,283.8Z" fill="#cecece" filter="url(#bumpL2)"/>
<g clip-path="url(#cBotL)" fill="none" stroke="#555" stroke-width="0.7" stroke-opacity="0.55" stroke-linecap="round">
<path d="M104.0,297.5 C104.5,297.4 106.1,297.0 107.1,296.8 C108.2,296.6 109.2,296.4 110.3,296.3 C111.3,296.2 112.7,295.6 113.5,296.0 C114.3,296.4 114.8,298.3 115.0,298.8"/>
<path d="M77.3,303.6 C76.8,303.5 75.2,302.9 74.2,302.9 C73.2,303.0 72.0,303.3 71.1,303.8 C70.2,304.3 69.5,305.2 68.7,305.9 C67.9,306.6 66.8,307.7 66.4,308.1"/>
<path d="M48.6,294.8 C49.1,294.5 50.5,293.4 51.5,292.7 C52.5,292.1 53.5,291.3 54.6,291.0 C55.7,290.7 57.6,290.8 58.2,290.8"/>
<path d="M147.9,259.3 C148.3,260.0 149.8,261.9 150.3,263.3 C150.9,264.8 151.4,266.5 151.2,268.0 C151.0,269.5 149.8,270.8 149.1,272.2 C148.4,273.6 147.2,275.7 146.8,276.4"/>
<path d="M77.3,266.9 C76.6,266.8 74.6,265.7 73.5,266.0 C72.3,266.3 70.8,267.4 70.5,268.5 C70.1,269.5 71.3,271.6 71.4,272.3"/>
<path d="M102.9,241.6 C103.3,241.5 104.7,241.2 105.6,240.9 C106.5,240.6 107.4,240.2 108.1,239.6 C108.8,239.1 109.6,237.9 110.0,237.6"/>
<path d="M135.8,302.4 C135.2,302.8 133.4,303.6 132.2,304.3 C131.1,305.0 130.1,306.4 128.9,306.5 C127.7,306.7 125.7,305.7 125.1,305.5"/>
<path d="M83.6,311.4 C83.9,312.0 84.9,313.8 85.5,315.1 C86.1,316.4 86.7,318.3 87.0,319.0"/>
<path d="M90.5,262.7 C91.1,262.9 93.4,263.2 94.5,263.9 C95.7,264.6 96.9,266.5 97.4,267.0"/>
<path d="M94.7,304.0 C95.3,303.4 97.1,301.8 98.1,300.5 C99.0,299.2 99.8,297.8 100.7,296.5 C101.6,295.1 102.9,293.1 103.4,292.4"/>
<path d="M145.9,281.0 C146.4,280.6 147.7,279.0 148.6,278.8 C149.6,278.7 151.2,279.5 151.8,280.3 C152.4,281.1 152.2,283.2 152.3,283.8"/>
<path d="M140.1,247.0 C139.9,246.4 139.0,244.8 139.1,243.8 C139.1,242.7 139.6,241.3 140.4,240.7 C141.2,240.1 143.2,240.3 143.8,240.2"/>
<path d="M105.8,284.3 C105.4,283.7 104.4,281.9 103.7,280.8 C103.0,279.6 101.7,278.6 101.4,277.4 C101.2,276.2 101.3,274.4 102.0,273.4 C102.6,272.3 104.7,271.4 105.3,271.0"/>
<path d="M135.3,249.9 C135.2,249.5 134.8,248.2 134.6,247.3 C134.5,246.4 134.1,245.3 134.5,244.7 C134.9,244.0 136.1,243.7 136.9,243.5 C137.7,243.3 139.1,243.5 139.6,243.5"/>
<path d="M87.2,328.8 C87.7,328.6 88.9,327.8 89.7,327.5 C90.6,327.1 92.0,326.8 92.5,326.7"/>
<path d="M65.5,289.2 C65.6,288.7 65.7,286.9 66.3,286.0 C66.8,285.1 68.3,284.1 68.8,283.7"/>
<path d="M123.8,319.9 C124.1,320.1 125.3,320.7 126.1,320.9 C126.9,321.0 127.9,321.1 128.6,320.8 C129.3,320.5 129.9,319.1 130.1,318.8"/>
<path d="M78.6,265.3 C78.2,264.8 77.0,263.5 76.2,262.6 C75.4,261.6 74.4,260.2 74.0,259.7"/>
<path d="M132.7,256.4 C132.5,257.0 132.1,258.9 131.8,260.1 C131.4,261.4 130.7,263.1 130.5,263.7"/>
<path d="M92.2,298.3 C92.6,298.6 93.5,299.6 94.3,299.8 C95.1,300.0 96.4,299.6 96.8,299.5"/>
<path d="M121.8,254.1 C121.1,253.7 119.3,252.2 118.0,251.6 C116.7,250.9 115.1,250.2 113.7,250.2 C112.2,250.1 110.0,250.9 109.2,251.1"/>
<path d="M120.6,252.7 C121.0,252.6 122.7,252.9 123.4,252.4 C124.2,251.9 124.7,250.3 124.9,249.9"/>
<path d="M146.9,299.0 C147.0,298.4 147.7,296.7 147.5,295.7 C147.4,294.6 146.2,293.7 146.1,292.7 C146.1,291.6 146.9,290.0 147.0,289.5"/>
<path d="M98.2,314.8 C97.4,314.7 95.1,314.5 93.5,314.3 C92.0,314.1 89.7,313.9 88.9,313.8"/>
<path d="M118.8,259.0 C118.7,259.5 118.5,261.2 118.1,262.2 C117.7,263.2 117.1,264.5 116.2,264.9 C115.4,265.3 113.5,264.6 113.0,264.5"/>
<path d="M128.7,276.8 C128.7,277.3 128.2,278.7 128.4,279.6 C128.6,280.4 129.2,281.6 129.9,281.9 C130.6,282.2 132.1,281.6 132.6,281.6"/>
<path d="M60.5,270.2 C60.3,270.6 59.2,271.8 59.0,272.7 C58.8,273.6 59.5,274.8 59.3,275.7 C59.1,276.5 57.9,277.6 57.6,278.0"/>
<path d="M144.3,273.6 C145.1,273.5 147.7,272.7 149.1,273.3 C150.4,273.8 152.1,275.5 152.3,276.9 C152.5,278.2 151.3,280.3 150.2,281.2 C149.0,282.0 146.2,281.8 145.5,281.9"/>
<path d="M99.8,270.1 C99.2,269.7 97.2,268.6 95.9,267.8 C94.7,267.1 93.5,266.0 92.1,265.5 C90.7,265.0 88.4,265.2 87.7,265.1"/>
<path d="M100.8,287.8 C101.0,288.4 101.5,290.3 102.3,291.1 C103.1,292.0 104.3,292.7 105.4,293.0 C106.5,293.4 108.1,292.8 109.0,293.4 C110.0,293.9 110.8,295.8 111.2,296.3"/>
<path d="M75.4,319.0 C75.7,318.2 76.7,316.1 77.2,314.6 C77.7,313.2 77.6,311.3 78.5,310.1 C79.4,309.0 81.6,308.9 82.6,307.8 C83.6,306.7 84.2,304.2 84.5,303.5"/>
<path d="M107.4,323.8 C107.6,323.3 108.4,321.8 108.8,320.7 C109.2,319.7 109.5,318.0 109.7,317.5"/>
<path d="M68.9,307.9 C68.5,307.2 66.8,305.0 66.6,303.5 C66.5,302.0 68.0,300.4 68.2,298.8 C68.3,297.2 67.5,295.5 67.6,293.8 C67.8,292.2 68.7,289.8 68.9,289.0"/>
<path d="M80.5,259.8 C81.2,259.5 83.2,258.3 84.6,258.1 C86.1,257.8 88.3,258.5 89.1,258.6"/>
<path d="M49.7,273.9 C48.9,274.2 46.7,275.3 45.2,275.6 C43.7,275.8 41.8,275.9 40.5,275.4 C39.1,274.8 37.6,272.6 37.0,272.1"/>
<path d="M106.7,286.5 C106.2,287.0 104.7,289.5 103.4,289.7 C102.2,289.9 99.9,288.2 99.2,287.9"/>
<path d="M51.4,275.5 C51.0,275.7 49.4,276.2 48.9,277.0 C48.4,277.7 48.5,279.4 48.4,279.9"/>
<path d="M82.9,261.2 C83.3,261.5 84.5,263.0 85.5,263.2 C86.4,263.5 87.9,262.4 88.7,262.7 C89.6,263.1 90.0,264.5 90.8,265.3 C91.5,266.1 92.8,267.1 93.3,267.5"/>
<path d="M121.3,322.1 C121.3,322.6 121.3,324.1 121.4,325.0 C121.6,326.0 121.6,327.1 122.2,327.8 C122.7,328.5 124.3,329.0 124.7,329.2"/>
<path d="M109.9,259.8 C110.0,260.4 110.2,262.3 110.4,263.6 C110.5,264.9 110.8,266.8 110.9,267.4"/>
<path d="M56.2,295.4 C56.1,294.9 55.1,293.5 55.2,292.7 C55.4,291.9 56.8,291.4 57.3,290.6 C57.8,289.8 57.6,288.6 58.2,287.9 C58.7,287.1 60.1,286.4 60.5,286.1"/>
<path d="M61.6,301.1 C62.1,300.8 64.1,299.9 64.8,298.9 C65.4,297.9 65.7,296.2 65.4,295.1 C65.1,293.9 63.6,293.2 63.0,292.1 C62.4,290.9 62.0,288.9 61.8,288.3"/>
<path d="M93.4,250.1 C94.1,250.4 96.3,251.0 97.6,251.6 C99.0,252.2 100.3,253.1 101.7,253.7 C103.1,254.3 104.8,255.4 106.0,255.1 C107.2,254.8 108.6,252.3 109.1,251.8"/>
<path d="M59.5,308.0 C60.0,308.3 61.5,308.9 62.5,309.4 C63.5,309.9 64.6,310.2 65.4,310.9 C66.3,311.5 67.3,312.9 67.7,313.3"/>
<path d="M58.8,290.6 C58.3,290.9 56.7,291.8 56.3,292.8 C55.9,293.7 56.4,295.5 56.4,296.1"/>
<path d="M85.6,278.4 C86.3,278.5 88.2,278.9 89.5,279.2 C90.8,279.4 92.4,280.5 93.4,280.1 C94.4,279.7 95.3,277.4 95.7,276.8"/>
<path d="M64.5,266.6 C64.0,266.6 62.3,266.1 61.5,266.5 C60.6,266.8 59.9,268.4 59.5,268.8"/>
<path d="M144.3,300.6 C144.1,300.2 143.7,298.9 143.1,298.3 C142.5,297.7 141.7,297.3 140.9,297.1 C140.1,296.8 138.9,297.1 138.3,296.6 C137.7,296.1 137.4,294.7 137.2,294.3"/>
<path d="M99.8,247.2 C99.1,247.4 96.8,248.8 95.3,248.8 C93.7,248.8 92.2,247.8 90.7,247.3 C89.1,246.8 86.8,246.0 86.0,245.8"/>
<path d="M51.6,272.0 C51.9,271.4 53.0,269.4 53.5,268.0 C54.0,266.7 54.9,265.1 54.7,263.8 C54.5,262.4 53.3,261.1 52.4,260.0 C51.4,258.9 49.6,257.6 49.0,257.1"/>
<path d="M61.8,286.8 C61.9,287.3 62.3,289.0 62.9,289.9 C63.5,290.8 64.4,291.6 65.3,292.2 C66.2,292.8 67.8,293.4 68.3,293.6"/>
<path d="M112.8,262.1 C113.5,261.8 115.7,260.8 117.1,260.7 C118.6,260.6 120.8,261.2 121.6,261.3"/>
<path d="M60.6,298.6 C60.2,298.0 59.2,295.8 58.1,294.8 C57.0,293.8 55.0,293.7 54.1,292.6 C53.2,291.5 52.7,289.7 52.8,288.2 C52.9,286.8 54.5,284.9 54.8,284.2"/>
<path d="M85.1,293.1 C84.9,293.7 84.4,296.0 83.5,296.7 C82.5,297.5 80.6,297.7 79.5,297.3 C78.3,297.0 77.7,294.7 76.6,294.5 C75.5,294.3 73.5,295.8 72.9,296.1"/>
<path d="M90.1,263.1 C90.4,263.4 91.3,264.4 92.0,264.9 C92.7,265.3 93.5,265.7 94.4,265.7 C95.2,265.8 96.4,265.3 96.8,265.2"/>
</g>
<g clip-path="url(#cBotL)" fill="#fff">
<ellipse cx="58.4" cy="278.9" rx="3.1" ry="0.55" transform="rotate(82 58.4 278.9)" opacity="0.50"/>
<ellipse cx="82.8" cy="321.8" rx="3.0" ry="0.55" transform="rotate(78 82.8 321.8)" opacity="0.37"/>
<ellipse cx="97.8" cy="282.6" rx="2.7" ry="0.55" transform="rotate(91 97.8 282.6)" opacity="0.53"/>
<ellipse cx="132.8" cy="260.6" rx="2.5" ry="0.55" transform="rotate(19 132.8 260.6)" opacity="0.64"/>
<ellipse cx="105.5" cy="330.6" rx="1.7" ry="0.55" transform="rotate(112 105.5 330.6)" opacity="0.61"/>
<ellipse cx="139.2" cy="264.4" rx="2.9" ry="0.55" transform="rotate(30 139.2 264.4)" opacity="0.64"/>
<circle cx="106.3" cy="268.5" r="0.7" opacity="0.79"/>
<ellipse cx="96.0" cy="313.7" rx="2.9" ry="0.55" transform="rotate(7 96.0 313.7)" opacity="0.69"/>
<circle cx="107.4" cy="237.2" r="0.5" opacity="0.65"/>
<circle cx="54.7" cy="286.9" r="0.5" opacity="0.35"/>
<ellipse cx="137.7" cy="265.1" rx="2.5" ry="0.55" transform="rotate(169 137.7 265.1)" opacity="0.58"/>
<circle cx="84.3" cy="306.4" r="0.6" opacity="0.77"/>
<ellipse cx="86.3" cy="303.4" rx="2.0" ry="0.55" transform="rotate(106 86.3 303.4)" opacity="0.66"/>
<circle cx="78.0" cy="266.2" r="0.6" opacity="0.72"/>
<ellipse cx="66.2" cy="270.2" rx="1.9" ry="0.55" transform="rotate(82 66.2 270.2)" opacity="0.32"/>
<ellipse cx="45.9" cy="288.0" rx="2.5" ry="0.55" transform="rotate(165 45.9 288.0)" opacity="0.64"/>
<circle cx="144.8" cy="291.7" r="0.6" opacity="0.69"/>
<ellipse cx="117.8" cy="241.7" rx="1.9" ry="0.55" transform="rotate(77 117.8 241.7)" opacity="0.31"/>
<circle cx="83.2" cy="264.1" r="0.6" opacity="0.61"/>
<circle cx="117.1" cy="250.0" r="0.6" opacity="0.66"/>
<circle cx="72.2" cy="299.2" r="0.8" opacity="0.41"/>
<circle cx="66.9" cy="308.3" r="0.8" opacity="0.48"/>
<circle cx="114.5" cy="260.9" r="0.7" opacity="0.76"/>
<ellipse cx="123.5" cy="288.3" rx="2.7" ry="0.55" transform="rotate(130 123.5 288.3)" opacity="0.51"/>
<ellipse cx="104.5" cy="251.5" rx="2.8" ry="0.55" transform="rotate(148 104.5 251.5)" opacity="0.54"/>
<ellipse cx="137.4" cy="305.0" rx="3.3" ry="0.55" transform="rotate(42 137.4 305.0)" opacity="0.69"/>
<ellipse cx="108.3" cy="308.3" rx="2.0" ry="0.55" transform="rotate(87 108.3 308.3)" opacity="0.48"/>
<circle cx="74.8" cy="265.6" r="0.6" opacity="0.41"/>
<circle cx="129.1" cy="267.4" r="0.8" opacity="0.66"/>
<ellipse cx="90.9" cy="262.1" rx="2.0" ry="0.55" transform="rotate(83 90.9 262.1)" opacity="0.45"/>
<ellipse cx="149.4" cy="254.4" rx="2.6" ry="0.55" transform="rotate(9 149.4 254.4)" opacity="0.37"/>
<ellipse cx="143.4" cy="292.8" rx="3.3" ry="0.55" transform="rotate(47 143.4 292.8)" opacity="0.50"/>
<circle cx="140.8" cy="248.5" r="0.9" opacity="0.73"/>
<ellipse cx="132.2" cy="261.9" rx="2.0" ry="0.55" transform="rotate(28 132.2 261.9)" opacity="0.58"/>
<circle cx="85.1" cy="269.4" r="0.7" opacity="0.56"/>
<ellipse cx="112.4" cy="239.7" rx="2.5" ry="0.55" transform="rotate(147 112.4 239.7)" opacity="0.41"/>
<ellipse cx="114.4" cy="250.6" rx="2.9" ry="0.55" transform="rotate(98 114.4 250.6)" opacity="0.49"/>
<circle cx="144.7" cy="267.5" r="0.6" opacity="0.37"/>
<circle cx="62.8" cy="297.2" r="0.8" opacity="0.54"/>
<circle cx="49.3" cy="297.8" r="0.9" opacity="0.77"/>
<ellipse cx="108.7" cy="254.9" rx="1.6" ry="0.55" transform="rotate(20 108.7 254.9)" opacity="0.42"/>
<ellipse cx="114.5" cy="316.9" rx="1.9" ry="0.55" transform="rotate(50 114.5 316.9)" opacity="0.54"/>
<circle cx="127.7" cy="296.8" r="0.8" opacity="0.53"/>
<ellipse cx="110.2" cy="321.5" rx="2.4" ry="0.55" transform="rotate(106 110.2 321.5)" opacity="0.38"/>
<circle cx="89.7" cy="319.6" r="0.5" opacity="0.72"/>
<circle cx="104.9" cy="312.5" r="0.7" opacity="0.56"/>
<circle cx="56.2" cy="297.2" r="0.8" opacity="0.58"/>
<ellipse cx="99.1" cy="253.4" rx="1.5" ry="0.55" transform="rotate(56 99.1 253.4)" opacity="0.34"/>
<ellipse cx="55.2" cy="275.6" rx="1.9" ry="0.55" transform="rotate(118 55.2 275.6)" opacity="0.52"/>
<ellipse cx="149.1" cy="267.3" rx="2.1" ry="0.55" transform="rotate(51 149.1 267.3)" opacity="0.47"/>
<circle cx="52.5" cy="295.4" r="0.7" opacity="0.46"/>
<circle cx="144.1" cy="260.8" r="0.6" opacity="0.41"/>
<circle cx="111.9" cy="261.3" r="0.6" opacity="0.51"/>
<circle cx="127.9" cy="251.8" r="0.6" opacity="0.61"/>
<circle cx="138.9" cy="276.9" r="0.6" opacity="0.65"/>
<ellipse cx="120.2" cy="256.4" rx="1.7" ry="0.55" transform="rotate(57 120.2 256.4)" opacity="0.42"/>
<ellipse cx="128.3" cy="296.0" rx="2.4" ry="0.55" transform="rotate(99 128.3 296.0)" opacity="0.49"/>
<ellipse cx="70.6" cy="319.4" rx="2.3" ry="0.55" transform="rotate(72 70.6 319.4)" opacity="0.67"/>
<circle cx="80.4" cy="296.6" r="0.7" opacity="0.58"/>
<circle cx="141.4" cy="291.7" r="0.8" opacity="0.60"/>
</g>
<g clip-path="url(#cBotL)"><path d="M44.2,291.5 C44.7,290.7 47.7,291.6 50.0,293.0 C52.3,294.4 55.3,298.0 58.0,300.0 C60.7,302.0 63.7,303.0 66.0,305.0 C68.3,307.0 69.7,309.5 72.0,312.0 C74.3,314.5 77.0,317.7 80.0,320.0 C83.0,322.3 86.7,324.8 90.0,326.0 C93.3,327.2 96.7,327.3 100.0,327.0 C103.3,326.7 106.7,325.5 110.0,324.0 C113.3,322.5 117.0,320.0 120.0,318.0 C123.0,316.0 125.6,314.0 128.0,312.0 C130.4,310.0 132.3,307.2 134.5,306.0 C136.7,304.8 141.0,303.8 141.0,304.5 C141.0,305.2 136.5,307.8 134.5,310.0 C132.5,312.2 131.1,315.5 129.0,318.0 C126.9,320.5 124.5,322.9 122.0,325.0 C119.5,327.1 117.0,329.1 114.0,330.5 C111.0,331.9 106.6,332.2 104.2,333.1 C101.8,334.1 101.4,335.6 99.6,336.2 C97.8,336.8 95.5,337.0 93.5,336.9 C91.5,336.8 89.3,336.3 87.3,335.4 C85.2,334.5 83.2,332.8 81.2,331.5 C79.2,330.2 76.8,329.2 75.0,327.7 C73.2,326.2 71.7,324.5 70.4,322.3 C69.1,320.1 68.7,316.5 67.3,314.6 C65.9,312.7 63.7,312.1 61.9,310.8 C60.1,309.5 58.2,308.4 56.5,306.9 C54.8,305.3 53.4,303.0 51.9,301.5 C50.4,300.0 48.6,299.4 47.3,297.7 C46.0,296.0 43.8,292.3 44.2,291.5Z" fill="#6a6a6a" opacity="0.35" filter="url(#soft)"/></g>
<path d="M137.0,253.0 C137.4,251.2 138.5,249.8 140.0,249.0 C141.5,248.2 144.0,247.9 146.0,248.0 C148.0,248.1 150.2,248.8 152.0,249.5 C153.8,250.2 155.5,251.8 157.0,252.0 C158.5,252.2 159.7,251.3 161.0,251.0 C162.3,250.7 163.8,250.8 165.0,250.0 C166.2,249.2 166.8,247.3 168.0,246.0 C169.2,244.7 170.3,243.0 172.0,242.0 C173.7,241.0 176.2,240.6 178.0,240.0 C179.8,239.4 180.2,238.9 182.5,238.5 C184.8,238.1 188.7,237.2 192.0,237.5 C195.3,237.8 199.4,239.5 202.5,240.0 C205.6,240.5 208.4,240.2 210.6,240.6 C212.8,241.0 214.4,241.0 215.4,242.6 C216.4,244.2 216.6,247.6 216.8,250.3 C217.0,253.0 216.5,256.3 216.8,258.6 C217.2,260.9 217.6,262.9 218.9,264.2 C220.2,265.5 222.7,265.6 224.4,266.3 C226.1,267.0 228.1,267.0 229.3,268.3 C230.5,269.6 230.5,272.0 231.4,273.9 C232.3,275.8 233.3,277.8 234.9,279.4 C236.5,281.0 239.4,282.3 241.1,283.6 C242.8,284.9 244.5,285.7 245.3,287.1 C246.1,288.5 246.5,290.9 246.0,292.0 C245.5,293.1 244.0,293.6 242.5,294.0 C241.0,294.4 238.6,294.1 237.0,294.7 C235.4,295.3 234.2,296.1 232.8,297.5 C231.4,298.9 229.8,301.3 228.6,303.0 C227.4,304.7 226.6,305.5 225.5,307.5 C224.4,309.5 223.2,312.8 221.9,315.0 C220.7,317.2 218.3,318.7 218.0,320.7 C217.7,322.7 220.1,325.0 219.8,327.1 C219.6,329.2 217.9,331.3 216.5,333.4 C215.1,335.5 213.6,338.3 211.3,339.5 C209.0,340.7 205.7,341.1 202.9,340.8 C200.1,340.6 196.5,339.6 194.4,338.0 C192.3,336.4 191.7,333.6 190.5,331.3 C189.3,329.0 188.5,325.9 187.0,324.0 C185.5,322.1 183.6,321.1 181.7,319.7 C179.8,318.3 177.5,316.9 175.4,315.5 C173.3,314.1 171.1,312.4 169.0,311.2 C166.9,310.0 165.0,309.0 162.7,308.1 C160.4,307.2 157.4,306.7 155.0,306.0 C152.6,305.3 150.0,305.2 148.0,304.0 C146.0,302.8 144.1,301.3 143.0,299.0 C141.9,296.7 141.8,293.2 141.5,290.0 C141.2,286.8 141.3,283.7 141.0,280.0 C140.7,276.3 140.1,271.3 139.5,268.0 C138.9,264.7 137.9,262.5 137.5,260.0 C137.1,257.5 136.6,254.8 137.0,253.0Z" fill="#454545"/>
<g clip-path="url(#cBotD)">
<ellipse cx="216.9" cy="290.3" rx="8.7" ry="6.9" transform="rotate(35 216.9 290.3)" fill="url(#gD)"/>
<circle cx="221.0" cy="304.3" r="5.1" fill="url(#gD)"/>
<circle cx="183.9" cy="305.8" r="4.8" fill="url(#gD)"/>
<ellipse cx="204.9" cy="324.5" rx="8.9" ry="5.2" transform="rotate(46 204.9 324.5)" fill="url(#gD)"/>
<circle cx="137.8" cy="251.2" r="6.0" fill="url(#gD)"/>
<circle cx="218.5" cy="276.9" r="6.7" fill="url(#gD)"/>
<ellipse cx="174.9" cy="306.9" rx="4.5" ry="4.4" transform="rotate(69 174.9 306.9)" fill="url(#gD)"/>
<circle cx="200.9" cy="305.1" r="8.0" fill="url(#gD)"/>
<ellipse cx="202.1" cy="266.5" rx="7.5" ry="6.2" transform="rotate(44 202.1 266.5)" fill="url(#gD)"/>
<ellipse cx="192.0" cy="257.2" rx="13.0" ry="7.3" transform="rotate(99 192.0 257.2)" fill="url(#gD)"/>
<circle cx="160.7" cy="251.1" r="7.4" fill="url(#gD)"/>
<ellipse cx="186.7" cy="284.1" rx="7.3" ry="4.3" transform="rotate(72 186.7 284.1)" fill="url(#gD)"/>
<ellipse cx="193.7" cy="307.0" rx="8.0" ry="4.7" transform="rotate(101 193.7 307.0)" fill="url(#gD)"/>
<circle cx="137.2" cy="262.2" r="8.1" fill="url(#gD)"/>
<ellipse cx="145.2" cy="264.7" rx="9.6" ry="5.2" transform="rotate(170 145.2 264.7)" fill="url(#gD)"/>
<ellipse cx="183.3" cy="258.8" rx="10.2" ry="5.2" transform="rotate(140 183.3 258.8)" fill="url(#gD)"/>
<ellipse cx="150.8" cy="288.6" rx="6.9" ry="5.1" transform="rotate(103 150.8 288.6)" fill="url(#gD)"/>
<circle cx="163.8" cy="309.2" r="4.8" fill="url(#gD)"/>
<ellipse cx="231.5" cy="276.6" rx="7.2" ry="6.5" transform="rotate(89 231.5 276.6)" fill="url(#gD)"/>
<ellipse cx="205.8" cy="243.4" rx="11.6" ry="6.7" transform="rotate(175 205.8 243.4)" fill="url(#gD)"/>
<ellipse cx="143.8" cy="261.4" rx="9.7" ry="6.0" transform="rotate(104 143.8 261.4)" fill="url(#gD)"/>
<circle cx="209.6" cy="311.8" r="7.8" fill="url(#gD)"/>
<ellipse cx="197.3" cy="246.1" rx="8.7" ry="7.3" transform="rotate(179 197.3 246.1)" fill="url(#gD)"/>
<ellipse cx="215.7" cy="336.5" rx="12.9" ry="7.2" transform="rotate(47 215.7 336.5)" fill="url(#gD)"/>
<ellipse cx="233.4" cy="286.0" rx="6.5" ry="6.1" transform="rotate(141 233.4 286.0)" fill="url(#gD)"/>
<ellipse cx="176.4" cy="254.7" rx="11.2" ry="6.1" transform="rotate(26 176.4 254.7)" fill="url(#gD)"/>
<ellipse cx="216.2" cy="278.5" rx="5.4" ry="5.0" transform="rotate(46 216.2 278.5)" fill="url(#gD)"/>
<circle cx="189.1" cy="314.6" r="8.1" fill="url(#gD)"/>
<ellipse cx="220.1" cy="295.0" rx="6.2" ry="5.3" transform="rotate(128 220.1 295.0)" fill="url(#gD)"/>
<ellipse cx="195.9" cy="327.9" rx="6.4" ry="5.0" transform="rotate(56 195.9 327.9)" fill="url(#gD)"/>
<circle cx="191.7" cy="302.4" r="4.6" fill="url(#gD)"/>
<ellipse cx="190.5" cy="239.8" rx="8.8" ry="6.0" transform="rotate(116 190.5 239.8)" fill="url(#gD)"/>
<ellipse cx="214.1" cy="285.0" rx="13.1" ry="6.7" transform="rotate(3 214.1 285.0)" fill="url(#gD)"/>
<ellipse cx="205.9" cy="290.2" rx="9.5" ry="5.4" transform="rotate(25 205.9 290.2)" fill="url(#gD)"/>
<ellipse cx="179.4" cy="314.5" rx="9.2" ry="6.7" transform="rotate(130 179.4 314.5)" fill="url(#gD)"/>
<circle cx="203.2" cy="282.9" r="8.1" fill="url(#gD)"/>
<circle cx="171.6" cy="290.7" r="5.4" fill="url(#gD)"/>
<circle cx="199.0" cy="236.1" r="7.6" fill="url(#gD)"/>
<ellipse cx="160.1" cy="288.1" rx="9.1" ry="7.7" transform="rotate(130 160.1 288.1)" fill="url(#gD)"/>
<ellipse cx="186.5" cy="251.3" rx="11.5" ry="8.1" transform="rotate(98 186.5 251.3)" fill="url(#gD)"/>
<circle cx="144.1" cy="299.1" r="5.4" fill="url(#gD)"/>
<ellipse cx="166.1" cy="257.3" rx="10.1" ry="7.6" transform="rotate(91 166.1 257.3)" fill="url(#gD)"/>
<ellipse cx="168.8" cy="308.0" rx="7.2" ry="5.0" transform="rotate(133 168.8 308.0)" fill="url(#gD)"/>
<ellipse cx="176.5" cy="302.4" rx="6.1" ry="4.8" transform="rotate(147 176.5 302.4)" fill="url(#gD)"/>
<circle cx="189.4" cy="265.1" r="6.8" fill="url(#gD)"/>
<circle cx="201.3" cy="322.4" r="6.4" fill="url(#gD)"/>
<ellipse cx="203.5" cy="342.6" rx="9.9" ry="7.9" transform="rotate(159 203.5 342.6)" fill="url(#gD)"/>
<ellipse cx="226.0" cy="276.9" rx="8.8" ry="5.3" transform="rotate(56 226.0 276.9)" fill="url(#gD)"/>
<ellipse cx="161.5" cy="276.9" rx="4.3" ry="4.0" transform="rotate(47 161.5 276.9)" fill="url(#gD)"/>
<circle cx="207.8" cy="296.7" r="6.0" fill="url(#gD)"/>
<ellipse cx="168.5" cy="250.3" rx="9.1" ry="6.2" transform="rotate(155 168.5 250.3)" fill="url(#gD)"/>
<ellipse cx="197.2" cy="324.0" rx="7.7" ry="7.4" transform="rotate(38 197.2 324.0)" fill="url(#gD)"/>
<ellipse cx="201.1" cy="261.7" rx="11.0" ry="7.0" transform="rotate(179 201.1 261.7)" fill="url(#gD)"/>
<ellipse cx="180.7" cy="275.7" rx="10.9" ry="5.9" transform="rotate(19 180.7 275.7)" fill="url(#gD)"/>
<ellipse cx="172.9" cy="246.2" rx="12.4" ry="6.6" transform="rotate(121 172.9 246.2)" fill="url(#gD)"/>
<ellipse cx="158.2" cy="254.2" rx="8.8" ry="8.0" transform="rotate(173 158.2 254.2)" fill="url(#gD)"/>
<circle cx="177.7" cy="253.2" r="6.5" fill="url(#gD)"/>
<ellipse cx="177.4" cy="317.6" rx="7.9" ry="7.4" transform="rotate(23 177.4 317.6)" fill="url(#gD)"/>
<circle cx="223.7" cy="301.0" r="7.2" fill="url(#gD)"/>
<ellipse cx="175.9" cy="315.6" rx="15.0" ry="7.8" transform="rotate(176 175.9 315.6)" fill="url(#gD)"/>
<circle cx="149.1" cy="305.7" r="6.3" fill="url(#gD)"/>
<circle cx="204.8" cy="304.0" r="5.2" fill="url(#gD)"/>
<circle cx="167.9" cy="291.5" r="6.5" fill="url(#gD)"/>
<ellipse cx="216.4" cy="254.1" rx="7.5" ry="5.5" transform="rotate(39 216.4 254.1)" fill="url(#gD)"/>
<circle cx="139.6" cy="276.7" r="5.2" fill="url(#gD)"/>
<circle cx="184.7" cy="322.8" r="5.0" fill="url(#gD)"/>
<circle cx="201.5" cy="288.0" r="4.7" fill="url(#gD)"/>
<ellipse cx="212.5" cy="302.5" rx="9.3" ry="4.8" transform="rotate(21 212.5 302.5)" fill="url(#gD)"/>
<ellipse cx="214.9" cy="312.6" rx="7.8" ry="7.6" transform="rotate(152 214.9 312.6)" fill="url(#gD)"/>
<circle cx="150.3" cy="278.7" r="5.9" fill="url(#gD)"/>
<circle cx="178.7" cy="281.8" r="5.4" fill="url(#gD)"/>
<ellipse cx="192.4" cy="333.1" rx="6.3" ry="4.5" transform="rotate(136 192.4 333.1)" fill="url(#gD)"/>
<ellipse cx="178.9" cy="238.0" rx="9.0" ry="5.2" transform="rotate(153 178.9 238.0)" fill="url(#gD)"/>
<circle cx="187.1" cy="301.7" r="6.6" fill="url(#gD)"/>
<ellipse cx="201.1" cy="240.3" rx="9.2" ry="6.1" transform="rotate(137 201.1 240.3)" fill="url(#gD)"/>
<ellipse cx="156.9" cy="309.3" rx="14.4" ry="7.3" transform="rotate(52 156.9 309.3)" fill="url(#gD)"/>
<ellipse cx="132.8" cy="254.9" rx="7.6" ry="7.1" transform="rotate(72 132.8 254.9)" fill="url(#gD)"/>
<circle cx="221.9" cy="300.8" r="5.6" fill="url(#gD)"/>
<ellipse cx="165.5" cy="298.0" rx="8.4" ry="4.9" transform="rotate(17 165.5 298.0)" fill="url(#gD)"/>
<ellipse cx="243.9" cy="290.0" rx="7.7" ry="5.2" transform="rotate(18 243.9 290.0)" fill="url(#gD)"/>
<ellipse cx="193.3" cy="311.1" rx="10.4" ry="6.9" transform="rotate(159 193.3 311.1)" fill="url(#gD)"/>
<circle cx="197.1" cy="315.8" r="6.0" fill="url(#gD)"/>
<ellipse cx="154.7" cy="273.2" rx="11.8" ry="7.9" transform="rotate(52 154.7 273.2)" fill="url(#gD)"/>
<circle cx="216.7" cy="321.5" r="5.7" fill="url(#gD)"/>
<circle cx="203.5" cy="301.6" r="6.4" fill="url(#gD)"/>
<ellipse cx="185.6" cy="252.9" rx="14.4" ry="8.2" transform="rotate(173 185.6 252.9)" fill="url(#gD)"/>
<circle cx="189.4" cy="237.2" r="5.5" fill="url(#gD)"/>
<circle cx="151.7" cy="302.7" r="8.1" fill="url(#gD)"/>
<circle cx="235.4" cy="299.0" r="6.4" fill="url(#gD)"/>
<ellipse cx="155.4" cy="267.7" rx="13.1" ry="7.0" transform="rotate(53 155.4 267.7)" fill="url(#gD)"/>
<ellipse cx="208.7" cy="282.7" rx="7.0" ry="4.3" transform="rotate(0 208.7 282.7)" fill="url(#gD)"/>
<circle cx="168.5" cy="278.1" r="7.6" fill="url(#gD)"/>
<circle cx="197.9" cy="251.8" r="6.2" fill="url(#gD)"/>
<ellipse cx="143.3" cy="251.2" rx="11.8" ry="7.6" transform="rotate(30 143.3 251.2)" fill="url(#gD)"/>
<ellipse cx="184.4" cy="297.0" rx="10.4" ry="8.1" transform="rotate(52 184.4 297.0)" fill="url(#gD)"/>
<circle cx="211.9" cy="245.6" r="7.4" fill="url(#gD)"/>
<ellipse cx="173.0" cy="274.5" rx="7.8" ry="4.9" transform="rotate(121 173.0 274.5)" fill="url(#gD)"/>
<ellipse cx="201.6" cy="339.9" rx="6.5" ry="5.7" transform="rotate(171 201.6 339.9)" fill="url(#gD)"/>
<ellipse cx="192.4" cy="296.3" rx="4.6" ry="4.0" transform="rotate(148 192.4 296.3)" fill="url(#gD)"/>
<ellipse cx="179.6" cy="291.3" rx="10.5" ry="7.9" transform="rotate(9 179.6 291.3)" fill="url(#gD)"/>
<ellipse cx="205.0" cy="267.7" rx="8.1" ry="6.2" transform="rotate(95 205.0 267.7)" fill="url(#gD)"/>
<circle cx="217.2" cy="268.5" r="7.2" fill="url(#gD)"/>
<circle cx="151.4" cy="254.6" r="6.7" fill="url(#gD)"/>
<circle cx="187.1" cy="271.5" r="8.1" fill="url(#gD)"/>
<ellipse cx="192.7" cy="245.1" rx="6.8" ry="6.5" transform="rotate(7 192.7 245.1)" fill="url(#gD)"/>
<ellipse cx="171.0" cy="289.8" rx="5.6" ry="5.4" transform="rotate(32 171.0 289.8)" fill="url(#gD)"/>
<ellipse cx="203.5" cy="344.4" rx="7.8" ry="6.7" transform="rotate(60 203.5 344.4)" fill="url(#gD)"/>
<ellipse cx="140.4" cy="296.7" rx="10.0" ry="5.3" transform="rotate(47 140.4 296.7)" fill="url(#gD)"/>
<circle cx="157.4" cy="279.9" r="7.6" fill="url(#gD)"/>
<ellipse cx="190.9" cy="259.1" rx="9.1" ry="4.7" transform="rotate(127 190.9 259.1)" fill="url(#gD)"/>
<ellipse cx="212.1" cy="242.1" rx="13.3" ry="6.9" transform="rotate(25 212.1 242.1)" fill="url(#gD)"/>
<circle cx="228.8" cy="267.8" r="7.0" fill="url(#gD)"/>
<circle cx="182.8" cy="285.8" r="4.6" fill="url(#gD)"/>
<circle cx="226.7" cy="283.6" r="7.7" fill="url(#gD)"/>
<circle cx="143.5" cy="254.2" r="7.7" fill="url(#gD)"/>
<ellipse cx="192.4" cy="320.2" rx="7.5" ry="4.0" transform="rotate(38 192.4 320.2)" fill="url(#gD)"/>
<ellipse cx="199.3" cy="276.0" rx="11.9" ry="6.9" transform="rotate(10 199.3 276.0)" fill="url(#gD)"/>
<circle cx="201.6" cy="295.3" r="5.3" fill="url(#gD)"/>
<circle cx="225.1" cy="314.0" r="6.0" fill="url(#gD)"/>
<ellipse cx="161.9" cy="310.2" rx="10.8" ry="7.1" transform="rotate(36 161.9 310.2)" fill="url(#gD)"/>
<ellipse cx="180.6" cy="240.7" rx="7.0" ry="6.3" transform="rotate(174 180.6 240.7)" fill="url(#gD)"/>
<circle cx="232.8" cy="291.5" r="5.7" fill="url(#gD)"/>
<circle cx="176.0" cy="267.9" r="6.3" fill="url(#gD)"/>
<circle cx="153.2" cy="264.0" r="7.4" fill="url(#gD)"/>
<circle cx="177.6" cy="269.9" r="7.0" fill="url(#gD)"/>
<ellipse cx="170.8" cy="264.3" rx="6.2" ry="5.0" transform="rotate(160 170.8 264.3)" fill="url(#gD)"/>
<ellipse cx="179.1" cy="322.0" rx="7.9" ry="4.6" transform="rotate(76 179.1 322.0)" fill="url(#gD)"/>
<ellipse cx="203.8" cy="341.3" rx="6.8" ry="4.3" transform="rotate(27 203.8 341.3)" fill="url(#gD)"/>
<circle cx="220.6" cy="315.5" r="4.5" fill="url(#gD)"/>
<ellipse cx="146.1" cy="272.0" rx="9.3" ry="8.3" transform="rotate(175 146.1 272.0)" fill="url(#gD)"/>
<ellipse cx="172.8" cy="242.0" rx="13.8" ry="8.1" transform="rotate(130 172.8 242.0)" fill="url(#gD)"/>
<circle cx="229.4" cy="308.9" r="5.6" fill="url(#gD)"/>
<ellipse cx="147.5" cy="299.8" rx="6.1" ry="4.2" transform="rotate(87 147.5 299.8)" fill="url(#gD)"/>
<circle cx="139.0" cy="278.4" r="4.7" fill="url(#gD)"/>
<ellipse cx="204.0" cy="322.0" rx="7.4" ry="6.4" transform="rotate(66 204.0 322.0)" fill="url(#gD)"/>
<circle cx="145.1" cy="246.9" r="8.2" fill="url(#gD)"/>
<circle cx="241.5" cy="293.6" r="8.4" fill="url(#gD)"/>
<circle cx="232.3" cy="270.1" r="6.5" fill="url(#gD)"/>
<circle cx="220.3" cy="280.7" r="8.2" fill="url(#gD)"/>
<circle cx="141.6" cy="267.9" r="5.5" fill="url(#gD)"/>
<ellipse cx="158.1" cy="303.2" rx="7.9" ry="4.0" transform="rotate(100 158.1 303.2)" fill="url(#gD)"/>
<circle cx="211.4" cy="258.0" r="7.5" fill="url(#gD)"/>
<circle cx="155.9" cy="294.1" r="4.7" fill="url(#gD)"/>
<circle cx="232.8" cy="303.5" r="7.5" fill="url(#gD)"/>
<ellipse cx="137.8" cy="269.5" rx="5.9" ry="4.4" transform="rotate(42 137.8 269.5)" fill="url(#gD)"/>
<circle cx="190.7" cy="277.6" r="8.3" fill="url(#gD)"/>
<ellipse cx="208.3" cy="237.6" rx="9.3" ry="7.0" transform="rotate(49 208.3 237.6)" fill="url(#gD)"/>
<ellipse cx="224.2" cy="317.8" rx="9.8" ry="6.0" transform="rotate(89 224.2 317.8)" fill="url(#gD)"/>
<circle cx="157.8" cy="250.0" r="6.5" fill="url(#gD)"/>
<ellipse cx="165.4" cy="266.9" rx="11.2" ry="6.2" transform="rotate(80 165.4 266.9)" fill="url(#gD)"/>
<ellipse cx="194.0" cy="267.0" rx="9.2" ry="6.3" transform="rotate(141 194.0 267.0)" fill="url(#gD)"/>
<ellipse cx="193.2" cy="239.8" rx="11.5" ry="6.4" transform="rotate(169 193.2 239.8)" fill="url(#gD)"/>
<ellipse cx="164.2" cy="292.2" rx="12.7" ry="7.4" transform="rotate(165 164.2 292.2)" fill="url(#gD)"/>
<ellipse cx="180.4" cy="245.9" rx="14.2" ry="8.3" transform="rotate(33 180.4 245.9)" fill="url(#gD)"/>
<ellipse cx="211.2" cy="321.2" rx="7.1" ry="4.2" transform="rotate(174 211.2 321.2)" fill="url(#gD)"/>
<ellipse cx="234.4" cy="283.8" rx="7.2" ry="5.7" transform="rotate(11 234.4 283.8)" fill="url(#gD)"/>
<circle cx="215.1" cy="309.4" r="4.7" fill="url(#gD)"/>
<ellipse cx="192.1" cy="276.5" rx="11.1" ry="7.3" transform="rotate(56 192.1 276.5)" fill="url(#gD)"/>
<ellipse cx="179.0" cy="300.6" rx="9.8" ry="6.5" transform="rotate(131 179.0 300.6)" fill="url(#gD)"/>
<circle cx="209.5" cy="303.1" r="4.2" fill="url(#gD)"/>
<ellipse cx="209.9" cy="275.1" rx="7.1" ry="4.2" transform="rotate(55 209.9 275.1)" fill="url(#gD)"/>
<circle cx="173.6" cy="286.6" r="8.3" fill="url(#gD)"/>
<circle cx="236.6" cy="285.7" r="6.5" fill="url(#gD)"/>
<ellipse cx="169.1" cy="271.0" rx="13.6" ry="8.4" transform="rotate(59 169.1 271.0)" fill="url(#gD)"/>
<ellipse cx="208.6" cy="247.4" rx="9.4" ry="8.2" transform="rotate(85 208.6 247.4)" fill="url(#gD)"/>
<ellipse cx="190.3" cy="262.3" rx="4.5" ry="4.1" transform="rotate(39 190.3 262.3)" fill="url(#gD)"/>
<circle cx="242.9" cy="291.6" r="6.6" fill="url(#gD)"/>
<ellipse cx="161.7" cy="279.8" rx="5.5" ry="4.6" transform="rotate(24 161.7 279.8)" fill="url(#gD)"/>
<circle cx="236.8" cy="281.7" r="5.5" fill="url(#gD)"/>
<ellipse cx="216.3" cy="265.1" rx="13.7" ry="7.8" transform="rotate(121 216.3 265.1)" fill="url(#gD)"/>
<ellipse cx="202.8" cy="332.6" rx="7.4" ry="6.8" transform="rotate(144 202.8 332.6)" fill="url(#gD)"/>
<ellipse cx="141.1" cy="287.9" rx="11.7" ry="7.2" transform="rotate(146 141.1 287.9)" fill="url(#gD)"/>
<ellipse cx="191.7" cy="287.5" rx="9.0" ry="5.5" transform="rotate(141 191.7 287.5)" fill="url(#gD)"/>
<ellipse cx="220.4" cy="333.4" rx="13.5" ry="8.0" transform="rotate(93 220.4 333.4)" fill="url(#gD)"/>
<circle cx="175.3" cy="258.3" r="5.2" fill="url(#gD)"/>
<ellipse cx="196.9" cy="336.9" rx="6.4" ry="4.5" transform="rotate(169 196.9 336.9)" fill="url(#gD)"/>
<circle cx="186.7" cy="330.2" r="5.0" fill="url(#gD)"/>
<ellipse cx="136.3" cy="278.4" rx="7.7" ry="6.3" transform="rotate(5 136.3 278.4)" fill="url(#gD)"/>
<circle cx="163.6" cy="268.5" r="4.2" fill="url(#gD)"/>
<ellipse cx="213.7" cy="324.3" rx="12.2" ry="6.4" transform="rotate(121 213.7 324.3)" fill="url(#gD)"/>
<ellipse cx="211.2" cy="333.5" rx="9.8" ry="6.0" transform="rotate(69 211.2 333.5)" fill="url(#gD)"/>
<ellipse cx="208.4" cy="264.0" rx="6.9" ry="6.2" transform="rotate(120 208.4 264.0)" fill="url(#gD)"/>
<ellipse cx="214.4" cy="275.0" rx="11.0" ry="6.7" transform="rotate(167 214.4 275.0)" fill="url(#gD)"/>
<circle cx="186.4" cy="327.8" r="7.2" fill="url(#gD)"/>
<ellipse cx="227.7" cy="294.1" rx="10.2" ry="8.3" transform="rotate(8 227.7 294.1)" fill="url(#gD)"/>
<ellipse cx="149.3" cy="262.5" rx="7.7" ry="4.5" transform="rotate(14 149.3 262.5)" fill="url(#gD)"/>
<ellipse cx="215.7" cy="295.2" rx="8.7" ry="8.5" transform="rotate(49 215.7 295.2)" fill="url(#gD)"/>
<circle cx="153.5" cy="285.5" r="8.1" fill="url(#gD)"/>
<ellipse cx="184.5" cy="308.1" rx="7.5" ry="4.5" transform="rotate(72 184.5 308.1)" fill="url(#gD)"/>
<ellipse cx="220.6" cy="325.2" rx="9.1" ry="5.0" transform="rotate(157 220.6 325.2)" fill="url(#gD)"/>
<ellipse cx="173.6" cy="283.6" rx="11.7" ry="6.8" transform="rotate(166 173.6 283.6)" fill="url(#gD)"/>
<circle cx="164.2" cy="258.5" r="4.4" fill="url(#gD)"/>
<circle cx="209.8" cy="332.9" r="8.2" fill="url(#gD)"/>
<ellipse cx="153.1" cy="254.2" rx="9.4" ry="6.8" transform="rotate(79 153.1 254.2)" fill="url(#gD)"/>
<ellipse cx="209.5" cy="255.2" rx="9.8" ry="5.2" transform="rotate(55 209.5 255.2)" fill="url(#gD)"/>
<circle cx="186.1" cy="279.5" r="5.5" fill="url(#gD)"/>
<ellipse cx="146.1" cy="295.6" rx="9.6" ry="6.4" transform="rotate(59 146.1 295.6)" fill="url(#gD)"/>
<circle cx="229.4" cy="290.0" r="4.6" fill="url(#gD)"/>
</g>
<path d="M137.0,253.0 C137.4,251.2 138.5,249.8 140.0,249.0 C141.5,248.2 144.0,247.9 146.0,248.0 C148.0,248.1 150.2,248.8 152.0,249.5 C153.8,250.2 155.5,251.8 157.0,252.0 C158.5,252.2 159.7,251.3 161.0,251.0 C162.3,250.7 163.8,250.8 165.0,250.0 C166.2,249.2 166.8,247.3 168.0,246.0 C169.2,244.7 170.3,243.0 172.0,242.0 C173.7,241.0 176.2,240.6 178.0,240.0 C179.8,239.4 180.2,238.9 182.5,238.5 C184.8,238.1 188.7,237.2 192.0,237.5 C195.3,237.8 199.4,239.5 202.5,240.0 C205.6,240.5 208.4,240.2 210.6,240.6 C212.8,241.0 214.4,241.0 215.4,242.6 C216.4,244.2 216.6,247.6 216.8,250.3 C217.0,253.0 216.5,256.3 216.8,258.6 C217.2,260.9 217.6,262.9 218.9,264.2 C220.2,265.5 222.7,265.6 224.4,266.3 C226.1,267.0 228.1,267.0 229.3,268.3 C230.5,269.6 230.5,272.0 231.4,273.9 C232.3,275.8 233.3,277.8 234.9,279.4 C236.5,281.0 239.4,282.3 241.1,283.6 C242.8,284.9 244.5,285.7 245.3,287.1 C246.1,288.5 246.5,290.9 246.0,292.0 C245.5,293.1 244.0,293.6 242.5,294.0 C241.0,294.4 238.6,294.1 237.0,294.7 C235.4,295.3 234.2,296.1 232.8,297.5 C231.4,298.9 229.8,301.3 228.6,303.0 C227.4,304.7 226.6,305.5 225.5,307.5 C224.4,309.5 223.2,312.8 221.9,315.0 C220.7,317.2 218.3,318.7 218.0,320.7 C217.7,322.7 220.1,325.0 219.8,327.1 C219.6,329.2 217.9,331.3 216.5,333.4 C215.1,335.5 213.6,338.3 211.3,339.5 C209.0,340.7 205.7,341.1 202.9,340.8 C200.1,340.6 196.5,339.6 194.4,338.0 C192.3,336.4 191.7,333.6 190.5,331.3 C189.3,329.0 188.5,325.9 187.0,324.0 C185.5,322.1 183.6,321.1 181.7,319.7 C179.8,318.3 177.5,316.9 175.4,315.5 C173.3,314.1 171.1,312.4 169.0,311.2 C166.9,310.0 165.0,309.0 162.7,308.1 C160.4,307.2 157.4,306.7 155.0,306.0 C152.6,305.3 150.0,305.2 148.0,304.0 C146.0,302.8 144.1,301.3 143.0,299.0 C141.9,296.7 141.8,293.2 141.5,290.0 C141.2,286.8 141.3,283.7 141.0,280.0 C140.7,276.3 140.1,271.3 139.5,268.0 C138.9,264.7 137.9,262.5 137.5,260.0 C137.1,257.5 136.6,254.8 137.0,253.0Z" fill="url(#gShade)"/>
<g clip-path="url(#cBotD)" fill="#e8e8e8">
<ellipse cx="181.3" cy="293.4" rx="1.9" ry="0.55" transform="rotate(41 181.3 293.4)" opacity="0.31"/>
<ellipse cx="153.4" cy="290.5" rx="2.9" ry="0.55" transform="rotate(68 153.4 290.5)" opacity="0.46"/>
<circle cx="212.7" cy="270.6" r="0.8" opacity="0.63"/>
<ellipse cx="148.0" cy="302.3" rx="1.6" ry="0.55" transform="rotate(69 148.0 302.3)" opacity="0.49"/>
<circle cx="164.7" cy="262.3" r="0.8" opacity="0.72"/>
<ellipse cx="184.4" cy="240.0" rx="3.0" ry="0.55" transform="rotate(118 184.4 240.0)" opacity="0.43"/>
<ellipse cx="228.2" cy="302.8" rx="2.6" ry="0.55" transform="rotate(42 228.2 302.8)" opacity="0.48"/>
<circle cx="224.1" cy="308.5" r="0.8" opacity="0.73"/>
<circle cx="140.8" cy="252.7" r="0.5" opacity="0.69"/>
<ellipse cx="207.8" cy="293.6" rx="2.2" ry="0.55" transform="rotate(36 207.8 293.6)" opacity="0.34"/>
<circle cx="203.3" cy="242.3" r="0.5" opacity="0.63"/>
<ellipse cx="149.6" cy="255.0" rx="3.2" ry="0.55" transform="rotate(112 149.6 255.0)" opacity="0.42"/>
<circle cx="207.6" cy="264.8" r="0.6" opacity="0.66"/>
<ellipse cx="205.5" cy="256.4" rx="3.2" ry="0.55" transform="rotate(50 205.5 256.4)" opacity="0.68"/>
<ellipse cx="192.9" cy="327.7" rx="2.6" ry="0.55" transform="rotate(88 192.9 327.7)" opacity="0.41"/>
<ellipse cx="169.3" cy="278.7" rx="3.4" ry="0.55" transform="rotate(13 169.3 278.7)" opacity="0.40"/>
<ellipse cx="144.3" cy="282.8" rx="3.3" ry="0.55" transform="rotate(15 144.3 282.8)" opacity="0.66"/>
<ellipse cx="221.5" cy="265.5" rx="3.2" ry="0.55" transform="rotate(44 221.5 265.5)" opacity="0.58"/>
<circle cx="198.2" cy="243.7" r="0.7" opacity="0.41"/>
<ellipse cx="161.7" cy="299.3" rx="2.1" ry="0.55" transform="rotate(59 161.7 299.3)" opacity="0.50"/>
<circle cx="211.8" cy="321.1" r="0.9" opacity="0.68"/>
<circle cx="212.2" cy="283.6" r="0.8" opacity="0.68"/>
<circle cx="195.5" cy="258.5" r="0.6" opacity="0.36"/>
<ellipse cx="149.4" cy="277.5" rx="2.8" ry="0.55" transform="rotate(55 149.4 277.5)" opacity="0.35"/>
<circle cx="211.4" cy="309.0" r="0.7" opacity="0.49"/>
<circle cx="208.5" cy="322.7" r="0.8" opacity="0.40"/>
<ellipse cx="198.4" cy="326.9" rx="1.8" ry="0.55" transform="rotate(77 198.4 326.9)" opacity="0.68"/>
<circle cx="163.6" cy="265.1" r="0.6" opacity="0.53"/>
<circle cx="224.5" cy="306.0" r="0.6" opacity="0.55"/>
<ellipse cx="234.8" cy="286.1" rx="2.9" ry="0.55" transform="rotate(158 234.8 286.1)" opacity="0.50"/>
<ellipse cx="177.9" cy="284.5" rx="2.1" ry="0.55" transform="rotate(35 177.9 284.5)" opacity="0.63"/>
<circle cx="189.3" cy="304.0" r="0.5" opacity="0.45"/>
<circle cx="183.7" cy="239.5" r="0.9" opacity="0.55"/>
<ellipse cx="169.5" cy="254.3" rx="2.8" ry="0.55" transform="rotate(58 169.5 254.3)" opacity="0.58"/>
<ellipse cx="201.6" cy="267.0" rx="3.0" ry="0.55" transform="rotate(61 201.6 267.0)" opacity="0.57"/>
<ellipse cx="224.5" cy="286.6" rx="1.6" ry="0.55" transform="rotate(69 224.5 286.6)" opacity="0.36"/>
<ellipse cx="194.9" cy="273.9" rx="1.6" ry="0.55" transform="rotate(3 194.9 273.9)" opacity="0.61"/>
<circle cx="197.9" cy="324.3" r="0.9" opacity="0.50"/>
<circle cx="195.2" cy="239.2" r="0.5" opacity="0.68"/>
<ellipse cx="206.9" cy="248.0" rx="3.1" ry="0.55" transform="rotate(114 206.9 248.0)" opacity="0.53"/>
<circle cx="184.2" cy="309.4" r="0.9" opacity="0.62"/>
<ellipse cx="210.7" cy="334.1" rx="2.6" ry="0.55" transform="rotate(20 210.7 334.1)" opacity="0.51"/>
<circle cx="164.3" cy="265.2" r="0.8" opacity="0.59"/>
<ellipse cx="145.5" cy="290.2" rx="1.6" ry="0.55" transform="rotate(35 145.5 290.2)" opacity="0.31"/>
<circle cx="213.3" cy="278.4" r="0.6" opacity="0.44"/>
<circle cx="199.1" cy="281.2" r="0.6" opacity="0.37"/>
<ellipse cx="172.2" cy="303.2" rx="2.7" ry="0.55" transform="rotate(29 172.2 303.2)" opacity="0.32"/>
<ellipse cx="220.6" cy="311.6" rx="3.4" ry="0.55" transform="rotate(55 220.6 311.6)" opacity="0.59"/>
<ellipse cx="168.0" cy="299.5" rx="2.4" ry="0.55" transform="rotate(111 168.0 299.5)" opacity="0.69"/>
<ellipse cx="190.4" cy="261.3" rx="2.8" ry="0.55" transform="rotate(59 190.4 261.3)" opacity="0.41"/>
<ellipse cx="233.1" cy="287.4" rx="2.6" ry="0.55" transform="rotate(26 233.1 287.4)" opacity="0.66"/>
<ellipse cx="197.0" cy="278.4" rx="2.2" ry="0.55" transform="rotate(14 197.0 278.4)" opacity="0.32"/>
<ellipse cx="180.5" cy="303.3" rx="3.3" ry="0.55" transform="rotate(63 180.5 303.3)" opacity="0.68"/>
<circle cx="137.3" cy="252.8" r="0.8" opacity="0.54"/>
<circle cx="223.1" cy="293.9" r="0.7" opacity="0.64"/>
<ellipse cx="164.6" cy="255.7" rx="2.4" ry="0.55" transform="rotate(178 164.6 255.7)" opacity="0.68"/>
<circle cx="155.7" cy="281.9" r="0.7" opacity="0.39"/>
<ellipse cx="169.2" cy="279.5" rx="1.7" ry="0.55" transform="rotate(114 169.2 279.5)" opacity="0.45"/>
<circle cx="222.0" cy="308.1" r="0.8" opacity="0.52"/>
<circle cx="170.8" cy="290.9" r="0.7" opacity="0.61"/>
</g>
<g clip-path="url(#cBotD)"><path d="M154.0,248.0 C154.5,246.8 156.5,246.2 158.0,245.5 C159.5,244.8 161.4,244.1 163.0,244.0 C164.6,243.9 166.7,244.0 167.5,245.0 C168.3,246.0 168.2,248.0 168.0,250.0 C167.8,252.0 166.8,254.3 166.5,257.0 C166.2,259.7 166.2,262.8 166.5,266.0 C166.8,269.2 167.2,272.7 168.0,276.0 C168.8,279.3 169.8,282.8 171.0,286.0 C172.2,289.2 173.9,292.3 175.0,295.0 C176.1,297.7 177.7,300.1 177.5,302.0 C177.3,303.9 175.6,305.8 174.0,306.5 C172.4,307.2 169.7,307.1 168.0,306.0 C166.3,304.9 165.2,302.7 164.0,300.0 C162.8,297.3 161.9,293.3 161.0,290.0 C160.1,286.7 159.1,283.3 158.5,280.0 C157.9,276.7 157.8,273.3 157.5,270.0 C157.2,266.7 156.9,262.8 156.5,260.0 C156.1,257.2 155.4,255.0 155.0,253.0 C154.6,251.0 153.5,249.2 154.0,248.0Z" fill="#a4a4a4" opacity="0.62"/>
<path d="M191.0,325.0 C191.9,323.3 194.8,322.2 197.0,322.0 C199.2,321.8 201.7,323.2 204.0,324.0 C206.3,324.8 209.0,325.8 211.0,327.0 C213.0,328.2 215.5,329.5 216.0,331.0 C216.5,332.5 215.2,334.6 214.0,336.0 C212.8,337.4 210.8,338.8 209.0,339.5 C207.2,340.2 205.2,340.8 202.9,340.5 C200.6,340.2 196.9,339.4 195.0,338.0 C193.1,336.6 192.2,334.2 191.5,332.0 C190.8,329.8 190.1,326.7 191.0,325.0Z" fill="#d0d0d0" filter="url(#bumpL2)"/></g>
<path d="M43.5,283.8 C43.5,281.6 43.6,280.0 44.2,278.0 C44.8,276.0 45.8,274.1 47.0,272.0 C48.2,269.9 50.1,266.8 51.5,265.4 C52.9,264.0 53.8,264.1 55.4,263.5 C57.0,262.9 59.0,262.1 61.2,261.5 C63.4,260.9 66.6,260.4 68.8,259.6 C71.0,258.8 72.7,257.7 74.6,256.7 C76.5,255.7 78.5,254.6 80.4,253.8 C82.3,253.0 84.3,252.5 86.2,251.9 C88.1,251.3 90.0,250.8 91.9,250.0 C93.8,249.2 96.1,248.4 97.7,247.1 C99.3,245.8 100.1,244.1 101.5,242.3 C102.9,240.5 105.0,238.1 106.3,236.5 C107.6,234.9 107.9,233.6 109.2,232.7 C110.5,231.8 112.4,230.8 114.0,230.8 C115.6,230.8 117.3,231.9 118.8,232.7 C120.2,233.5 121.1,234.8 122.7,235.6 C124.3,236.4 126.6,237.5 128.5,237.5 C130.4,237.5 132.3,236.3 134.2,235.6 C136.1,234.9 137.8,234.3 140.0,233.5 C142.2,232.7 144.8,231.4 147.7,230.6 C150.6,229.8 154.9,228.9 157.3,228.7 C159.7,228.5 160.8,228.6 162.1,229.6 C163.4,230.6 163.6,233.1 165.0,234.4 C166.4,235.7 169.0,236.6 170.8,237.3 C172.6,238.0 174.1,238.6 176.0,238.8 C177.9,239.0 179.8,238.7 182.5,238.5 C185.2,238.3 188.7,237.2 192.0,237.5 C195.3,237.8 199.4,239.5 202.5,240.0 C205.6,240.5 208.4,240.2 210.6,240.6 C212.8,241.0 214.4,241.0 215.4,242.6 C216.4,244.2 216.6,247.6 216.8,250.3 C217.0,253.0 216.5,256.3 216.8,258.6 C217.2,260.9 217.6,262.9 218.9,264.2 C220.2,265.5 222.7,265.6 224.4,266.3 C226.1,267.0 228.1,267.0 229.3,268.3 C230.5,269.6 230.5,272.0 231.4,273.9 C232.3,275.8 233.3,277.8 234.9,279.4 C236.5,281.0 239.4,282.3 241.1,283.6 C242.8,284.9 244.5,285.7 245.3,287.1 C246.1,288.5 246.5,290.9 246.0,292.0 C245.5,293.1 244.0,293.6 242.5,294.0 C241.0,294.4 238.6,294.1 237.0,294.7 C235.4,295.3 234.2,296.1 232.8,297.5 C231.4,298.9 229.8,301.3 228.6,303.0 C227.4,304.7 226.6,305.5 225.5,307.5 C224.4,309.5 223.2,312.8 221.9,315.0 C220.7,317.2 218.3,318.7 218.0,320.7 C217.7,322.7 220.1,325.0 219.8,327.1 C219.6,329.2 217.9,331.3 216.5,333.4 C215.1,335.5 213.6,338.3 211.3,339.5 C209.0,340.7 205.7,341.1 202.9,340.8 C200.1,340.6 196.5,339.6 194.4,338.0 C192.3,336.4 191.7,333.6 190.5,331.3 C189.3,329.0 188.5,325.9 187.0,324.0 C185.5,322.1 183.6,321.1 181.7,319.7 C179.8,318.3 177.5,316.9 175.4,315.5 C173.3,314.1 171.1,312.4 169.0,311.2 C166.9,310.0 165.0,309.0 162.7,308.1 C160.4,307.2 157.4,306.7 155.0,306.0 C152.6,305.3 150.3,304.2 148.0,304.0 C145.7,303.8 143.2,303.5 141.0,304.5 C138.8,305.5 136.5,307.8 134.5,310.0 C132.5,312.2 131.1,315.5 129.0,318.0 C126.9,320.5 124.5,322.9 122.0,325.0 C119.5,327.1 117.0,329.1 114.0,330.5 C111.0,331.9 106.6,332.2 104.2,333.1 C101.8,334.1 101.4,335.6 99.6,336.2 C97.8,336.8 95.5,337.0 93.5,336.9 C91.5,336.8 89.3,336.3 87.3,335.4 C85.2,334.5 83.2,332.8 81.2,331.5 C79.2,330.2 76.8,329.2 75.0,327.7 C73.2,326.2 71.7,324.5 70.4,322.3 C69.1,320.1 68.7,316.5 67.3,314.6 C65.9,312.7 63.7,312.1 61.9,310.8 C60.1,309.5 58.2,308.4 56.5,306.9 C54.8,305.3 53.4,303.0 51.9,301.5 C50.4,300.0 48.6,299.4 47.3,297.7 C46.0,296.0 44.8,293.8 44.2,291.5 C43.6,289.2 43.5,286.1 43.5,283.8Z" fill="none" stroke="#3a3a3a" stroke-width="0.7"/>
<path d="M160.5,48.0 C161.2,47.0 162.0,46.3 163.0,46.0 C164.0,45.7 165.5,45.7 166.5,46.2 C167.5,46.7 168.4,47.7 168.8,49.0 C169.2,50.3 169.2,52.6 168.8,54.0 C168.4,55.4 167.6,56.8 166.5,57.5 C165.4,58.2 163.7,58.0 162.5,58.5 C161.3,59.0 160.5,60.3 159.5,60.5 C158.5,60.7 157.3,60.2 156.5,59.5 C155.7,58.8 154.6,57.4 154.5,56.5 C154.4,55.6 155.2,54.8 156.0,54.0 C156.8,53.2 158.2,53.0 159.0,52.0 C159.8,51.0 159.8,49.0 160.5,48.0Z" fill="#ee0000"/>
<path d="M166.0,40.5 C166.4,40.1 167.8,39.6 168.5,39.6 C169.2,39.6 170.3,40.3 170.3,40.8 C170.3,41.2 169.2,42.1 168.5,42.3 C167.8,42.5 166.6,42.3 166.2,42.0 C165.8,41.7 165.6,40.9 166.0,40.5Z" fill="#ee0000"/>
<path d="M175.5,110.0 C175.9,108.7 176.8,107.0 178.0,106.0 C179.2,105.0 181.4,104.3 183.0,104.2 C184.6,104.1 186.3,104.8 187.5,105.5 C188.7,106.2 189.0,107.6 190.0,108.5 C191.0,109.4 192.7,109.8 193.3,111.0 C193.9,112.2 193.9,114.4 193.5,116.0 C193.1,117.6 192.2,119.5 191.0,120.5 C189.8,121.5 187.7,121.9 186.0,122.0 C184.3,122.1 182.5,121.7 181.0,121.0 C179.5,120.3 177.9,119.2 177.0,118.0 C176.1,116.8 175.8,115.3 175.5,114.0 C175.2,112.7 175.1,111.3 175.5,110.0Z" fill="#ee0000"/>
<path d="M206.0,104.0 C206.5,102.0 207.5,99.6 208.5,98.0 C209.5,96.4 210.8,95.1 212.0,94.5 C213.2,93.9 214.7,93.8 215.5,94.2 C216.3,94.6 216.9,95.9 217.0,97.0 C217.1,98.1 216.6,99.5 216.0,101.0 C215.4,102.5 214.2,104.2 213.5,106.0 C212.8,107.8 212.2,110.0 211.5,112.0 C210.8,114.0 210.2,116.6 209.5,118.0 C208.8,119.4 207.7,120.7 207.0,120.5 C206.3,120.3 205.8,118.8 205.5,117.0 C205.2,115.2 205.4,112.2 205.5,110.0 C205.6,107.8 205.5,106.0 206.0,104.0Z" fill="#ee0000"/>
<path d="M232.5,85.0 C233.0,84.2 234.8,83.8 236.0,83.6 C237.2,83.4 239.3,83.4 240.0,84.0 C240.7,84.6 240.8,86.2 240.3,87.0 C239.8,87.8 238.2,88.4 237.0,88.6 C235.8,88.8 233.8,88.9 233.0,88.3 C232.2,87.7 232.0,85.8 232.5,85.0Z" fill="#ee0000"/>
<path d="M108.0,238.5 C108.7,237.4 109.8,236.4 111.0,236.2 C112.2,235.9 114.0,236.4 115.0,237.0 C116.0,237.6 116.2,239.2 117.0,240.0 C117.8,240.8 118.9,241.1 120.0,242.0 C121.1,242.9 123.1,244.2 123.4,245.5 C123.7,246.8 123.1,248.9 122.0,250.0 C120.9,251.1 118.5,251.6 117.0,252.0 C115.5,252.4 114.0,252.0 113.0,252.5 C112.0,253.0 111.5,253.9 111.0,255.0 C110.5,256.1 110.8,258.1 110.0,259.0 C109.2,259.9 107.8,260.7 106.5,260.7 C105.2,260.7 103.2,259.9 102.0,259.0 C100.8,258.1 100.1,256.7 99.5,255.0 C98.9,253.3 98.4,250.5 98.6,249.0 C98.8,247.5 99.6,246.8 100.5,246.0 C101.4,245.2 102.9,245.0 104.0,244.5 C105.1,244.0 106.3,244.0 107.0,243.0 C107.7,242.0 107.3,239.6 108.0,238.5Z" fill="#ee0000"/>
<path d="M47.5,285.0 C47.2,284.2 47.5,282.2 47.8,281.0 C48.1,279.8 48.6,278.7 49.5,278.0 C50.4,277.3 51.8,277.0 53.0,276.8 C54.2,276.6 55.8,276.6 57.0,277.0 C58.2,277.4 59.6,278.2 60.5,279.0 C61.4,279.8 62.0,280.9 62.3,282.0 C62.5,283.1 62.4,284.7 62.0,285.5 C61.6,286.3 60.7,286.7 60.0,286.6 C59.3,286.5 58.7,285.6 58.0,285.0 C57.3,284.4 56.8,283.4 56.0,283.0 C55.2,282.6 53.8,282.3 53.0,282.5 C52.2,282.7 51.6,283.4 51.0,284.0 C50.4,284.6 50.1,285.8 49.5,286.0 C48.9,286.2 47.8,285.8 47.5,285.0Z" fill="#ee0000"/>
<path d="M51.2,272.8 C51.0,272.4 51.5,271.3 52.0,271.0 C52.5,270.7 53.9,270.6 54.5,270.8 C55.1,271.1 55.6,272.1 55.4,272.5 C55.2,272.9 54.2,273.4 53.5,273.5 C52.8,273.6 51.5,273.2 51.2,272.8Z" fill="#ee0000"/>
<path d="M125.5,287.5 C125.7,286.6 127.1,285.7 128.0,285.0 C128.9,284.3 129.8,284.0 131.0,283.5 C132.2,283.0 133.5,282.1 135.0,282.0 C136.5,281.9 138.8,282.3 140.0,283.0 C141.2,283.7 142.0,284.7 142.5,286.0 C143.0,287.3 143.2,289.4 143.0,291.0 C142.8,292.6 142.5,294.4 141.5,295.5 C140.5,296.6 138.5,297.3 137.0,297.5 C135.5,297.7 133.6,297.4 132.5,296.5 C131.4,295.6 131.4,293.0 130.5,292.0 C129.6,291.0 127.8,291.2 127.0,290.5 C126.2,289.8 125.3,288.4 125.5,287.5Z" fill="#ee0000"/>
<path d="M104.0,315.0 C104.2,313.8 105.2,313.0 106.0,312.0 C106.8,311.0 107.8,309.6 109.0,309.0 C110.2,308.4 111.5,308.5 113.0,308.7 C114.5,308.9 116.9,309.3 118.0,310.0 C119.1,310.7 119.4,311.8 119.5,313.0 C119.6,314.2 119.4,316.0 118.5,317.0 C117.6,318.0 115.6,318.6 114.0,319.0 C112.4,319.4 110.5,319.5 109.0,319.5 C107.5,319.5 105.8,319.8 105.0,319.0 C104.2,318.2 103.8,316.2 104.0,315.0Z" fill="#ee0000"/>
<path d="M105.5,323.0 C105.5,322.2 106.8,321.7 108.0,321.5 C109.2,321.3 111.5,322.0 113.0,322.0 C114.5,322.0 116.0,321.3 117.0,321.5 C118.0,321.7 119.0,322.2 119.2,323.0 C119.4,323.8 119.0,325.3 118.0,326.0 C117.0,326.7 114.7,326.9 113.0,327.0 C111.3,327.1 109.2,327.2 108.0,326.5 C106.8,325.8 105.5,323.8 105.5,323.0Z" fill="#ee0000"/>
<path d="M131.5,247.5 C131.9,246.8 133.3,245.8 134.0,246.0 C134.7,246.2 135.6,247.8 135.5,248.5 C135.4,249.2 134.2,250.2 133.5,250.5 C132.8,250.8 131.8,250.5 131.5,250.0 C131.2,249.5 131.1,248.2 131.5,247.5Z" fill="#ee0000"/>
<path d="M87.5,121.5 C88.0,120.7 89.8,119.3 91.0,118.5 C92.2,117.7 93.7,117.3 95.0,116.5 C96.3,115.7 98.1,113.8 99.0,113.5 C99.9,113.2 100.5,113.8 100.5,114.5 C100.5,115.2 99.9,116.9 99.0,118.0 C98.1,119.1 96.4,120.1 95.0,121.0 C93.6,121.9 91.7,122.9 90.5,123.3 C89.3,123.7 88.5,123.6 88.0,123.3 C87.5,123.0 87.0,122.3 87.5,121.5Z" fill="#0d0de8"/>
<path d="M68.0,136.8 C68.5,136.2 70.0,135.2 71.5,134.8 C73.0,134.4 75.7,134.4 77.0,134.6 C78.3,134.8 79.3,135.2 79.5,135.8 C79.7,136.4 79.2,137.6 78.0,138.0 C76.8,138.4 74.1,138.4 72.5,138.5 C70.9,138.6 69.2,138.6 68.5,138.3 C67.8,138.0 67.5,137.4 68.0,136.8Z" fill="#0d0de8"/>
<path d="M189.0,287.0 C188.8,285.7 189.7,284.3 190.5,283.5 C191.3,282.7 192.9,282.8 194.0,282.0 C195.1,281.2 195.9,279.7 197.0,279.0 C198.1,278.3 199.5,277.6 200.5,277.8 C201.5,278.0 202.7,279.0 203.0,280.0 C203.3,281.0 203.0,282.8 202.5,284.0 C202.0,285.2 200.3,285.8 200.0,287.0 C199.7,288.2 200.6,289.6 200.5,291.0 C200.4,292.4 200.2,294.5 199.5,295.5 C198.8,296.5 197.4,297.2 196.5,297.0 C195.6,296.8 194.8,295.4 194.0,294.5 C193.2,293.6 192.8,292.8 192.0,291.5 C191.2,290.2 189.2,288.3 189.0,287.0Z" fill="#0d0de8"/>
<path d="M193.0,323.0 C193.3,322.0 194.0,320.6 195.0,320.0 C196.0,319.4 197.9,319.2 199.0,319.6 C200.1,320.0 201.3,321.4 201.5,322.5 C201.7,323.6 200.9,325.3 200.0,326.0 C199.1,326.7 197.1,326.8 196.0,326.8 C194.9,326.8 193.8,326.6 193.3,326.0 C192.8,325.4 192.7,324.0 193.0,323.0Z" fill="#0d0de8"/>
<ellipse cx="179.1" cy="28.3" rx="20.9" ry="9.9" fill="#fff" stroke="#0f4c81" stroke-width="1.6"/>
<text x="165.04" y="31.65" font-size="9.2" fill="#000" textLength="27.82" lengthAdjust="spacingAndGlyphs">D253T</text>
<line x1="165.60" y1="37.80" x2="163.82" y2="41.59" stroke="#000" stroke-width="1.1"/>
<path d="M162.50,44.40 L162.58,40.46 L165.48,41.82Z" fill="#000"/>
<text x="59.79" y="162.65" font-size="9.2" fill="#2e6da4" textLength="23.69" lengthAdjust="spacingAndGlyphs">N458</text>
<text x="90.49" y="158.55" font-size="9.2" fill="#2e6da4" textLength="23.69" lengthAdjust="spacingAndGlyphs">N468</text>
<line x1="72.20" y1="152.80" x2="72.20" y2="148.10" stroke="#000" stroke-width="1.1"/>
<path d="M72.20,145.00 L73.80,148.60 L70.60,148.60Z" fill="#000"/>
<line x1="101.80" y1="149.20" x2="98.26" y2="133.03" stroke="#000" stroke-width="1.1"/>
<path d="M97.60,130.00 L99.93,133.17 L96.81,133.86Z" fill="#000"/>
<text x="243.48" y="81.55" font-size="9.2" fill="#000" textLength="30.14" lengthAdjust="spacingAndGlyphs">G418N</text>
<text x="184.52" y="162.85" font-size="9.2" fill="#000" textLength="28.24" lengthAdjust="spacingAndGlyphs">I358N/</text>
<text x="185.06" y="173.55" font-size="9.2" fill="#000" textLength="26.90" lengthAdjust="spacingAndGlyphs">K360T</text>
<line x1="198.80" y1="152.30" x2="185.09" y2="116.00" stroke="#000" stroke-width="1.1"/>
<path d="M184.00,113.10 L186.77,115.90 L183.77,117.03Z" fill="#000"/>
<line x1="198.80" y1="152.30" x2="211.50" y2="104.50" stroke="#000" stroke-width="1.1"/>
<path d="M212.30,101.50 L212.92,105.39 L209.83,104.57Z" fill="#000"/>
<path d="M132,198.7 C117,196.5 106,191 106,183 C106,173 125,166.6 144.5,166.6 C164,166.6 183,173 183,183 C183,191 172,196.5 156,198.7" fill="none" stroke="#000" stroke-width="1.3"/>
<path d="M137.9,199.3 L129.8,194.6 L130.3,203.9Z" fill="#000"/>
<path d="M149.2,199.3 L157.3,194.6 L156.8,203.9Z" fill="#000"/>
<text x="136.21" y="186.25" font-size="9.2" fill="#000" textLength="19.99" lengthAdjust="spacingAndGlyphs">180°</text>
<ellipse cx="78.5" cy="228" rx="30.6" ry="18.2" fill="#fff" stroke="#58287a" stroke-width="1.8"/>
<text x="62.12" y="226.65" font-size="9.2" fill="#000" textLength="33.83" lengthAdjust="spacingAndGlyphs">Q427N/</text>
<text x="64.82" y="237.95" font-size="9.2" fill="#000" textLength="28.25" lengthAdjust="spacingAndGlyphs">K429T</text>
<line x1="94.90" y1="234.00" x2="107.84" y2="240.59" stroke="#000" stroke-width="1.1"/>
<path d="M110.60,242.00 L106.67,241.79 L108.12,238.94Z" fill="#000"/>
<line x1="94.90" y1="234.00" x2="103.04" y2="250.62" stroke="#000" stroke-width="1.1"/>
<path d="M104.40,253.40 L101.38,250.87 L104.25,249.46Z" fill="#000"/>
<ellipse cx="138.3" cy="222.7" rx="20.9" ry="9.9" fill="#fff" stroke="#0f4c81" stroke-width="1.6"/>
<text x="125.05" y="226.65" font-size="9.2" fill="#000" textLength="27.61" lengthAdjust="spacingAndGlyphs">D253T</text>
<line x1="140.20" y1="228.60" x2="137.43" y2="233.95" stroke="#000" stroke-width="1.1"/>
<path d="M136.00,236.70 L136.24,232.77 L139.08,234.24Z" fill="#000"/>
<text x="20.28" y="279.05" font-size="9.2" fill="#000" textLength="25.26" lengthAdjust="spacingAndGlyphs">L379T</text>
<text x="132.25" y="328.55" font-size="9.2" fill="#000" textLength="27.61" lengthAdjust="spacingAndGlyphs">R404T</text>
<line x1="140.00" y1="320.00" x2="137.78" y2="295.19" stroke="#000" stroke-width="1.1"/>
<path d="M137.50,292.10 L139.41,295.54 L136.23,295.83Z" fill="#000"/>
<text x="91.32" y="348.15" font-size="9.2" fill="#000" textLength="31.92" lengthAdjust="spacingAndGlyphs">E396N/</text>
<text x="95.65" y="359.35" font-size="9.2" fill="#000" textLength="23.53" lengthAdjust="spacingAndGlyphs">I398T</text>
<line x1="106.20" y1="337.10" x2="110.75" y2="318.71" stroke="#000" stroke-width="1.1"/>
<path d="M111.50,315.70 L112.19,319.58 L109.08,318.81Z" fill="#000"/>
<line x1="106.20" y1="337.10" x2="112.24" y2="329.08" stroke="#000" stroke-width="1.1"/>
<path d="M114.10,326.60 L113.21,330.44 L110.66,328.51Z" fill="#000"/>
<text x="229.67" y="313.05" font-size="9.2" fill="#2e6da4" textLength="24.11" lengthAdjust="spacingAndGlyphs">N489</text>
<line x1="225.00" y1="305.40" x2="204.34" y2="292.72" stroke="#fff" stroke-width="1.2"/>
<path d="M201.70,291.10 L205.61,291.62 L203.93,294.35Z" fill="#fff"/>
<text x="158.29" y="344.75" font-size="9.2" fill="#2e6da4" textLength="23.58" lengthAdjust="spacingAndGlyphs">N458</text>
<line x1="182.20" y1="337.80" x2="189.44" y2="331.02" stroke="#000" stroke-width="1.1"/>
<path d="M191.70,328.90 L190.17,332.53 L187.98,330.19Z" fill="#000"/>
<text x="6.87" y="14.35" font-size="11.5" fill="#000" font-weight="bold" textLength="7.77" lengthAdjust="spacingAndGlyphs">A</text>
<text x="292.13" y="14.55" font-size="11.5" fill="#000" font-weight="bold" textLength="8.54" lengthAdjust="spacingAndGlyphs">B</text>
<text x="292.49" y="209.35" font-size="11.5" fill="#000" font-weight="bold" textLength="7.64" lengthAdjust="spacingAndGlyphs">C</text>
<text x="5.93" y="398.15" font-size="11.5" fill="#000" font-weight="bold" textLength="8.54" lengthAdjust="spacingAndGlyphs">D</text>
<text x="291.77" y="398.15" font-size="11.5" fill="#000" font-weight="bold" textLength="8.39" lengthAdjust="spacingAndGlyphs">E</text>
<rect x="375.9" y="39.85" width="70.60" height="11.2" fill="#c41230"/>
<line x1="372.20" y1="45.45" x2="375.50" y2="45.45" stroke="#000" stroke-width="0.9"/>
<text x="357.26" y="48.10" font-size="7.5" fill="#000" textLength="12.36" lengthAdjust="spacingAndGlyphs">WT</text>
<rect x="375.9" y="56.65" width="56.40" height="11.2" fill="#105282"/>
<line x1="432.30" y1="62.25" x2="437.62" y2="62.25" stroke="#105282" stroke-width="0.9"/>
<line x1="437.62" y1="59.95" x2="437.62" y2="64.55" stroke="#105282" stroke-width="0.9"/>
<line x1="372.20" y1="62.25" x2="375.50" y2="62.25" stroke="#000" stroke-width="0.9"/>
<text x="345.81" y="64.90" font-size="7.5" fill="#000" textLength="23.86" lengthAdjust="spacingAndGlyphs">D253T</text>
<rect x="375.9" y="73.45" width="68.11" height="11.2" fill="#3cb44e"/>
<line x1="444.01" y1="79.05" x2="445.08" y2="79.05" stroke="#3cb44e" stroke-width="0.9"/>
<line x1="445.08" y1="76.75" x2="445.08" y2="81.35" stroke="#3cb44e" stroke-width="0.9"/>
<line x1="372.20" y1="79.05" x2="375.50" y2="79.05" stroke="#000" stroke-width="0.9"/>
<text x="347.08" y="81.70" font-size="7.5" fill="#000" textLength="22.54" lengthAdjust="spacingAndGlyphs">L379T</text>
<rect x="375.9" y="90.25" width="59.10" height="11.2" fill="#3cb44e"/>
<line x1="435.00" y1="95.85" x2="439.97" y2="95.85" stroke="#3cb44e" stroke-width="0.9"/>
<line x1="439.97" y1="93.55" x2="439.97" y2="98.15" stroke="#3cb44e" stroke-width="0.9"/>
<line x1="372.20" y1="95.85" x2="375.50" y2="95.85" stroke="#000" stroke-width="0.9"/>
<text x="345.81" y="98.50" font-size="7.5" fill="#000" textLength="23.86" lengthAdjust="spacingAndGlyphs">R404T</text>
<rect x="375.9" y="107.05" width="67.40" height="11.2" fill="#3cb44e"/>
<line x1="443.31" y1="112.65" x2="444.37" y2="112.65" stroke="#3cb44e" stroke-width="0.9"/>
<line x1="444.37" y1="110.35" x2="444.37" y2="114.95" stroke="#3cb44e" stroke-width="0.9"/>
<line x1="372.20" y1="112.65" x2="375.50" y2="112.65" stroke="#000" stroke-width="0.9"/>
<text x="344.86" y="115.30" font-size="7.5" fill="#000" textLength="25.19" lengthAdjust="spacingAndGlyphs">G418N</text>
<rect x="375.9" y="123.85" width="63.57" height="11.2" fill="#5a266a"/>
<line x1="439.47" y1="129.45" x2="442.67" y2="129.45" stroke="#5a266a" stroke-width="0.9"/>
<line x1="442.67" y1="127.15" x2="442.67" y2="131.75" stroke="#5a266a" stroke-width="0.9"/>
<line x1="372.20" y1="129.45" x2="375.50" y2="129.45" stroke="#000" stroke-width="0.9"/>
<text x="318.78" y="132.10" font-size="7.5" fill="#000" textLength="50.82" lengthAdjust="spacingAndGlyphs">Q427N/K429T</text>
<line x1="446.50" y1="34.0" x2="446.50" y2="140.5" stroke="#000" stroke-width="1.1" stroke-dasharray="2.4,1.6"/>
<line x1="375.50" y1="34.00" x2="375.50" y2="141.00" stroke="#000" stroke-width="1.0"/>
<line x1="375.00" y1="140.50" x2="482.50" y2="140.50" stroke="#000" stroke-width="1.0"/>
<line x1="375.50" y1="140.50" x2="375.50" y2="143.70" stroke="#000" stroke-width="0.9"/>
<text x="373.32" y="152.05" font-size="7.4" fill="#000" textLength="4.59" lengthAdjust="spacingAndGlyphs">0</text>
<line x1="411.00" y1="140.50" x2="411.00" y2="143.70" stroke="#000" stroke-width="0.9"/>
<text x="406.50" y="152.05" font-size="7.4" fill="#000" textLength="9.53" lengthAdjust="spacingAndGlyphs">50</text>
<line x1="446.50" y1="140.50" x2="446.50" y2="143.70" stroke="#000" stroke-width="0.9"/>
<text x="440.34" y="152.05" font-size="7.4" fill="#000" textLength="12.56" lengthAdjust="spacingAndGlyphs">100</text>
<line x1="482.00" y1="140.50" x2="482.00" y2="143.70" stroke="#000" stroke-width="0.9"/>
<text x="475.72" y="152.05" font-size="7.4" fill="#000" textLength="13.00" lengthAdjust="spacingAndGlyphs">150</text>
<text x="383.94" y="165.15" font-size="8.8" fill="#000" textLength="89.50" lengthAdjust="spacingAndGlyphs" stroke="#000" stroke-width="0.3">Relative APC enhancement (%)</text>
<text transform="translate(312.75 124.24) rotate(-90)" x="0" y="0" font-size="9.0" textLength="74.33" lengthAdjust="spacingAndGlyphs" stroke="#000" stroke-width="0.3">PS N-linked glycan variant</text>
<rect x="375.9" y="231.85" width="70.60" height="11.2" fill="#c41230"/>
<line x1="372.20" y1="237.45" x2="375.50" y2="237.45" stroke="#000" stroke-width="0.9"/>
<text x="357.26" y="240.10" font-size="7.5" fill="#000" textLength="12.36" lengthAdjust="spacingAndGlyphs">WT</text>
<rect x="375.9" y="248.65" width="38.65" height="11.2" fill="#105282"/>
<line x1="414.55" y1="254.25" x2="422.71" y2="254.25" stroke="#105282" stroke-width="0.9"/>
<line x1="422.71" y1="251.95" x2="422.71" y2="256.55" stroke="#105282" stroke-width="0.9"/>
<text x="425.12" y="258.15" font-size="8.2" font-weight="bold">*</text>
<text x="428.74" y="258.15" font-size="8.2" font-weight="bold">*</text>
<text x="432.36" y="258.15" font-size="8.2" font-weight="bold">*</text>
<line x1="372.20" y1="254.25" x2="375.50" y2="254.25" stroke="#000" stroke-width="0.9"/>
<text x="345.81" y="256.90" font-size="7.5" fill="#000" textLength="23.86" lengthAdjust="spacingAndGlyphs">D253T</text>
<rect x="375.9" y="265.45" width="74.58" height="11.2" fill="#3cb44e"/>
<line x1="450.48" y1="271.05" x2="460.42" y2="271.05" stroke="#3cb44e" stroke-width="0.9"/>
<line x1="460.42" y1="268.75" x2="460.42" y2="273.35" stroke="#3cb44e" stroke-width="0.9"/>
<line x1="372.20" y1="271.05" x2="375.50" y2="271.05" stroke="#000" stroke-width="0.9"/>
<text x="347.08" y="273.70" font-size="7.5" fill="#000" textLength="22.54" lengthAdjust="spacingAndGlyphs">L379T</text>
<rect x="375.9" y="282.25" width="89.49" height="11.2" fill="#3cb44e"/>
<line x1="465.39" y1="287.85" x2="468.94" y2="287.85" stroke="#3cb44e" stroke-width="0.9"/>
<line x1="468.94" y1="285.55" x2="468.94" y2="290.15" stroke="#3cb44e" stroke-width="0.9"/>
<text x="471.34" y="291.75" font-size="8.2" font-weight="bold">*</text>
<text x="474.96" y="291.75" font-size="8.2" font-weight="bold">*</text>
<line x1="372.20" y1="287.85" x2="375.50" y2="287.85" stroke="#000" stroke-width="0.9"/>
<text x="345.81" y="290.50" font-size="7.5" fill="#000" textLength="23.86" lengthAdjust="spacingAndGlyphs">R404T</text>
<rect x="375.9" y="299.05" width="79.62" height="11.2" fill="#3cb44e"/>
<line x1="455.52" y1="304.65" x2="460.84" y2="304.65" stroke="#3cb44e" stroke-width="0.9"/>
<line x1="460.84" y1="302.35" x2="460.84" y2="306.95" stroke="#3cb44e" stroke-width="0.9"/>
<line x1="372.20" y1="304.65" x2="375.50" y2="304.65" stroke="#000" stroke-width="0.9"/>
<text x="344.86" y="307.30" font-size="7.5" fill="#000" textLength="25.19" lengthAdjust="spacingAndGlyphs">G418N</text>
<rect x="375.9" y="315.85" width="40.50" height="11.2" fill="#5a266a"/>
<line x1="416.40" y1="321.45" x2="422.43" y2="321.45" stroke="#5a266a" stroke-width="0.9"/>
<line x1="422.43" y1="319.15" x2="422.43" y2="323.75" stroke="#5a266a" stroke-width="0.9"/>
<text x="424.83" y="325.35" font-size="8.2" font-weight="bold">*</text>
<text x="428.45" y="325.35" font-size="8.2" font-weight="bold">*</text>
<text x="432.07" y="325.35" font-size="8.2" font-weight="bold">*</text>
<line x1="372.20" y1="321.45" x2="375.50" y2="321.45" stroke="#000" stroke-width="0.9"/>
<text x="318.78" y="324.10" font-size="7.5" fill="#000" textLength="50.82" lengthAdjust="spacingAndGlyphs">Q427N/K429T</text>
<line x1="446.50" y1="226.0" x2="446.50" y2="332.5" stroke="#000" stroke-width="1.1" stroke-dasharray="2.4,1.6"/>
<line x1="375.50" y1="226.00" x2="375.50" y2="333.00" stroke="#000" stroke-width="1.0"/>
<line x1="375.00" y1="332.50" x2="482.50" y2="332.50" stroke="#000" stroke-width="1.0"/>
<line x1="375.50" y1="332.50" x2="375.50" y2="335.70" stroke="#000" stroke-width="0.9"/>
<text x="373.32" y="344.05" font-size="7.4" fill="#000" textLength="4.59" lengthAdjust="spacingAndGlyphs">0</text>
<line x1="411.00" y1="332.50" x2="411.00" y2="335.70" stroke="#000" stroke-width="0.9"/>
<text x="406.50" y="344.05" font-size="7.4" fill="#000" textLength="9.53" lengthAdjust="spacingAndGlyphs">50</text>
<line x1="446.50" y1="332.50" x2="446.50" y2="335.70" stroke="#000" stroke-width="0.9"/>
<text x="440.34" y="344.05" font-size="7.4" fill="#000" textLength="12.56" lengthAdjust="spacingAndGlyphs">100</text>
<line x1="482.00" y1="332.50" x2="482.00" y2="335.70" stroke="#000" stroke-width="0.9"/>
<text x="475.72" y="344.05" font-size="7.4" fill="#000" textLength="13.00" lengthAdjust="spacingAndGlyphs">150</text>
<text x="381.24" y="357.15" font-size="8.8" fill="#000" textLength="95.61" lengthAdjust="spacingAndGlyphs" stroke="#000" stroke-width="0.3">Relative TFPI&#945; enhancement (%)</text>
<text transform="translate(312.75 315.54) rotate(-90)" x="0" y="0" font-size="9.0" textLength="73.62" lengthAdjust="spacingAndGlyphs" stroke="#000" stroke-width="0.3">PS N-linked glycan variant</text>
<line x1="52.50" y1="403.80" x2="52.50" y2="509.00" stroke="#000" stroke-width="1.0"/>
<line x1="52.00" y1="508.50" x2="158.50" y2="508.50" stroke="#000" stroke-width="1.0"/>
<line x1="49.50" y1="484.25" x2="52.50" y2="484.25" stroke="#000" stroke-width="0.9"/>
<text x="33.28" y="486.90" font-size="7.4" fill="#000" textLength="13.75" lengthAdjust="spacingAndGlyphs">100</text>
<line x1="49.50" y1="443.95" x2="52.50" y2="443.95" stroke="#000" stroke-width="0.9"/>
<text x="33.28" y="446.60" font-size="7.4" fill="#000" textLength="13.75" lengthAdjust="spacingAndGlyphs">150</text>
<line x1="49.50" y1="403.65" x2="52.50" y2="403.65" stroke="#000" stroke-width="0.9"/>
<text x="33.51" y="406.30" font-size="7.4" fill="#000" textLength="13.52" lengthAdjust="spacingAndGlyphs">200</text>
<line x1="52.50" y1="508.50" x2="52.50" y2="511.70" stroke="#000" stroke-width="0.9"/>
<text x="50.22" y="520.55" font-size="7.4" fill="#000" textLength="4.59" lengthAdjust="spacingAndGlyphs">0</text>
<line x1="105.25" y1="508.50" x2="105.25" y2="511.70" stroke="#000" stroke-width="0.9"/>
<text x="100.77" y="520.55" font-size="7.4" fill="#000" textLength="8.89" lengthAdjust="spacingAndGlyphs">25</text>
<line x1="158.00" y1="508.50" x2="158.00" y2="511.70" stroke="#000" stroke-width="0.9"/>
<text x="153.41" y="520.55" font-size="7.4" fill="#000" textLength="9.21" lengthAdjust="spacingAndGlyphs">50</text>
<text x="84.54" y="533.05" font-size="8.8" fill="#000" textLength="41.60" lengthAdjust="spacingAndGlyphs" stroke="#000" stroke-width="0.3">Protein S (nM)</text>
<text transform="translate(27.25 490.77) rotate(-90)" x="0" y="0" font-size="8.8" textLength="69.66" lengthAdjust="spacingAndGlyphs" stroke="#000" stroke-width="0.3">Normalised lag time (%)</text>
<line x1="52.50" y1="488.52" x2="158.00" y2="479.01" stroke="#1f5f99" stroke-width="1.1"/>
<path d="M78.88,497.71V484.81M76.28,497.71H81.47M76.28,484.81H81.47" stroke="#1f5f99" stroke-width="1.0" opacity="0.78" fill="none"/>
<path d="M105.25,493.68V482.40M102.65,493.68H107.85M102.65,482.40H107.85" stroke="#1f5f99" stroke-width="1.0" opacity="0.78" fill="none"/>
<path d="M158.00,485.22V470.71M155.40,485.22H160.60M155.40,470.71H160.60" stroke="#1f5f99" stroke-width="1.0" opacity="0.78" fill="none"/>
<line x1="52.50" y1="485.86" x2="158.00" y2="476.51" stroke="#5a266a" stroke-width="1.1"/>
<path d="M78.88,486.59V480.95M76.28,486.59H81.47M76.28,480.95H81.47" stroke="#5a266a" stroke-width="1.0" opacity="0.78" fill="none"/>
<path d="M105.25,485.70V476.83M102.65,485.70H107.85M102.65,476.83H107.85" stroke="#5a266a" stroke-width="1.0" opacity="0.78" fill="none"/>
<path d="M158.00,486.67V462.49M155.40,486.67H160.60M155.40,462.49H160.60" stroke="#5a266a" stroke-width="1.0" opacity="0.78" fill="none"/>
<polyline points="52.50,484.25 78.88,466.76 105.25,448.22 158.00,421.70" fill="none" stroke="#c41230" stroke-width="1.1"/>
<path d="M78.88,475.63V457.89M76.28,475.63H81.47M76.28,457.89H81.47" stroke="#c41230" stroke-width="1.0" opacity="0.78" fill="none"/>
<path d="M105.25,451.85V444.59M102.65,451.85H107.85M102.65,444.59H107.85" stroke="#c41230" stroke-width="1.0" opacity="0.78" fill="none"/>
<path d="M158.00,430.57V412.84M155.40,430.57H160.60M155.40,412.84H160.60" stroke="#c41230" stroke-width="1.0" opacity="0.78" fill="none"/>
<path d="M78.88,488.61 L81.33,492.91 L76.42,492.91Z" fill="#1f5f99"/>
<path d="M105.25,485.39 L107.70,489.69 L102.80,489.69Z" fill="#1f5f99"/>
<path d="M158.00,475.31 L160.45,479.61 L155.55,479.61Z" fill="#1f5f99"/>
<path d="M78.88,486.42 L81.33,482.12 L76.42,482.12Z" fill="#5a266a"/>
<path d="M105.25,483.92 L107.70,479.62 L102.80,479.62Z" fill="#5a266a"/>
<path d="M158.00,477.23 L160.45,472.93 L155.55,472.93Z" fill="#5a266a"/>
<rect x="50.45" y="482.20" width="4.10" height="4.10" fill="#c41230"/>
<rect x="76.83" y="464.71" width="4.10" height="4.10" fill="#c41230"/>
<rect x="103.20" y="446.17" width="4.10" height="4.10" fill="#c41230"/>
<rect x="155.95" y="419.65" width="4.10" height="4.10" fill="#c41230"/>
<path d="M52.50,486.90 L54.95,482.60 L50.05,482.60Z" fill="#5a266a"/>
<line x1="169.50" y1="414.90" x2="177.20" y2="414.90" stroke="#c41230" stroke-width="1.1"/>
<rect x="171.30" y="412.90" width="4.00" height="4.00" fill="#c41230"/>
<text x="181.05" y="417.55" font-size="7.3" fill="#000" textLength="10.34" lengthAdjust="spacingAndGlyphs">WT</text>
<line x1="169.50" y1="426.30" x2="177.20" y2="426.30" stroke="#5a266a" stroke-width="1.1"/>
<path d="M173.30,428.90 L175.70,424.70 L170.90,424.70Z" fill="#5a266a"/>
<text x="180.75" y="428.95" font-size="7.3" fill="#000" textLength="46.87" lengthAdjust="spacingAndGlyphs">Q427N/K429T</text>
<line x1="169.50" y1="437.70" x2="177.20" y2="437.70" stroke="#1f5f99" stroke-width="1.1"/>
<path d="M173.30,435.10 L175.70,439.30 L170.90,439.30Z" fill="#1f5f99"/>
<text x="180.48" y="440.35" font-size="7.3" fill="#000" textLength="20.98" lengthAdjust="spacingAndGlyphs">D253T</text>
<line x1="337.50" y1="403.80" x2="337.50" y2="509.00" stroke="#000" stroke-width="1.0"/>
<line x1="337.00" y1="508.50" x2="443.50" y2="508.50" stroke="#000" stroke-width="1.0"/>
<line x1="334.50" y1="508.30" x2="337.50" y2="508.30" stroke="#000" stroke-width="0.9"/>
<text x="322.94" y="510.95" font-size="7.4" fill="#000" textLength="9.38" lengthAdjust="spacingAndGlyphs">30</text>
<line x1="334.50" y1="482.18" x2="337.50" y2="482.18" stroke="#000" stroke-width="0.9"/>
<text x="322.94" y="484.83" font-size="7.4" fill="#000" textLength="9.38" lengthAdjust="spacingAndGlyphs">50</text>
<line x1="334.50" y1="456.06" x2="337.50" y2="456.06" stroke="#000" stroke-width="0.9"/>
<text x="322.94" y="458.71" font-size="7.4" fill="#000" textLength="9.38" lengthAdjust="spacingAndGlyphs">70</text>
<line x1="334.50" y1="429.94" x2="337.50" y2="429.94" stroke="#000" stroke-width="0.9"/>
<text x="322.94" y="432.59" font-size="7.4" fill="#000" textLength="9.38" lengthAdjust="spacingAndGlyphs">90</text>
<line x1="334.50" y1="403.82" x2="337.50" y2="403.82" stroke="#000" stroke-width="0.9"/>
<text x="318.84" y="406.47" font-size="7.4" fill="#000" textLength="13.45" lengthAdjust="spacingAndGlyphs">110</text>
<line x1="337.50" y1="508.50" x2="337.50" y2="511.70" stroke="#000" stroke-width="0.9"/>
<text x="335.22" y="520.55" font-size="7.4" fill="#000" textLength="4.59" lengthAdjust="spacingAndGlyphs">0</text>
<line x1="390.25" y1="508.50" x2="390.25" y2="511.70" stroke="#000" stroke-width="0.9"/>
<text x="385.77" y="520.55" font-size="7.4" fill="#000" textLength="8.89" lengthAdjust="spacingAndGlyphs">25</text>
<line x1="443.00" y1="508.50" x2="443.00" y2="511.70" stroke="#000" stroke-width="0.9"/>
<text x="438.41" y="520.55" font-size="7.4" fill="#000" textLength="9.21" lengthAdjust="spacingAndGlyphs">50</text>
<text x="369.23" y="533.25" font-size="8.8" fill="#000" textLength="42.16" lengthAdjust="spacingAndGlyphs" stroke="#000" stroke-width="0.3">Protein S (nM)</text>
<text transform="translate(313.05 500.67) rotate(-90)" x="0" y="0" font-size="8.8" textLength="88.43" lengthAdjust="spacingAndGlyphs" stroke="#000" stroke-width="0.3">Normalised peak thrombin (%)</text>
<polyline points="337.50,416.88 338.56,417.42 339.61,417.95 340.67,418.48 341.72,419.01 342.77,419.52 343.83,420.04 344.88,420.54 345.94,421.05 347.00,421.54 348.05,422.04 349.11,422.53 350.16,423.01 351.21,423.49 352.27,423.96 353.32,424.43 354.38,424.89 355.44,425.35 356.49,425.81 357.55,426.26 358.60,426.70 359.65,427.15 360.71,427.58 361.76,428.02 362.82,428.44 363.88,428.87 364.93,429.29 365.99,429.70 367.04,430.12 368.10,430.52 369.15,430.93 370.20,431.33 371.26,431.72 372.31,432.11 373.37,432.50 374.43,432.89 375.48,433.27 376.53,433.64 377.59,434.01 378.64,434.38 379.70,434.75 380.75,435.11 381.81,435.47 382.87,435.82 383.92,436.17 384.98,436.52 386.03,436.86 387.08,437.20 388.14,437.54 389.19,437.88 390.25,438.21 391.31,438.53 392.36,438.86 393.42,439.18 394.47,439.49 395.52,439.81 396.58,440.12 397.63,440.43 398.69,440.73 399.75,441.04 400.80,441.33 401.86,441.63 402.91,441.92 403.96,442.21 405.02,442.50 406.07,442.78 407.13,443.07 408.19,443.34 409.24,443.62 410.30,443.89 411.35,444.16 412.40,444.43 413.46,444.70 414.51,444.96 415.57,445.22 416.62,445.48 417.68,445.73 418.74,445.98 419.79,446.23 420.85,446.48 421.90,446.73 422.95,446.97 424.01,447.21 425.06,447.45 426.12,447.68 427.18,447.91 428.23,448.14 429.28,448.37 430.34,448.60 431.39,448.82 432.45,449.04 433.50,449.26 434.56,449.48 435.62,449.69 436.67,449.91 437.73,450.12 438.78,450.33 439.83,450.53 440.89,450.74 441.94,450.94 443.00,451.14" fill="none" stroke="#1f5f99" stroke-width="1.1"/>
<polyline points="337.50,416.88 338.56,417.74 339.61,418.58 340.67,419.41 341.72,420.23 342.77,421.03 343.83,421.83 344.88,422.61 345.94,423.38 347.00,424.14 348.05,424.88 349.11,425.62 350.16,426.35 351.21,427.06 352.27,427.76 353.32,428.46 354.38,429.14 355.44,429.81 356.49,430.48 357.55,431.13 358.60,431.77 359.65,432.41 360.71,433.03 361.76,433.65 362.82,434.25 363.88,434.85 364.93,435.44 365.99,436.02 367.04,436.59 368.10,437.15 369.15,437.70 370.20,438.25 371.26,438.79 372.31,439.32 373.37,439.84 374.43,440.35 375.48,440.86 376.53,441.36 377.59,441.85 378.64,442.33 379.70,442.81 380.75,443.28 381.81,443.74 382.87,444.19 383.92,444.64 384.98,445.09 386.03,445.52 387.08,445.95 388.14,446.37 389.19,446.79 390.25,447.20 391.31,447.60 392.36,448.00 393.42,448.39 394.47,448.78 395.52,449.16 396.58,449.54 397.63,449.91 398.69,450.27 399.75,450.63 400.80,450.98 401.86,451.33 402.91,451.67 403.96,452.01 405.02,452.34 406.07,452.67 407.13,452.99 408.19,453.31 409.24,453.62 410.30,453.93 411.35,454.24 412.40,454.53 413.46,454.83 414.51,455.12 415.57,455.41 416.62,455.69 417.68,455.97 418.74,456.24 419.79,456.51 420.85,456.77 421.90,457.04 422.95,457.29 424.01,457.55 425.06,457.80 426.12,458.04 427.18,458.29 428.23,458.53 429.28,458.76 430.34,458.99 431.39,459.22 432.45,459.45 433.50,459.67 434.56,459.89 435.62,460.10 436.67,460.31 437.73,460.52 438.78,460.73 439.83,460.93 440.89,461.13 441.94,461.33 443.00,461.52" fill="none" stroke="#5a266a" stroke-width="1.1"/>
<polyline points="337.50,416.88 338.56,423.69 339.61,429.82 340.67,435.36 341.72,440.34 342.77,444.84 343.83,448.90 344.88,452.56 345.94,455.86 347.00,458.83 348.05,461.51 349.11,463.93 350.16,466.11 351.21,468.07 352.27,469.85 353.32,471.44 354.38,472.88 355.44,474.18 356.49,475.35 357.55,476.41 358.60,477.36 359.65,478.22 360.71,479.00 361.76,479.70 362.82,480.32 363.88,480.89 364.93,481.40 365.99,481.87 367.04,482.28 368.10,482.66 369.15,483.00 370.20,483.30 371.26,483.58 372.31,483.82 373.37,484.05 374.43,484.25 375.48,484.43 376.53,484.59 377.59,484.74 378.64,484.88 379.70,485.00 380.75,485.10 381.81,485.20 382.87,485.29 383.92,485.37 384.98,485.44 386.03,485.51 387.08,485.56 388.14,485.62 389.19,485.66 390.25,485.71 391.31,485.74 392.36,485.78 393.42,485.81 394.47,485.84 395.52,485.86 396.58,485.89 397.63,485.91 398.69,485.93 399.75,485.94 400.80,485.96 401.86,485.97 402.91,485.98 403.96,486.00 405.02,486.01 406.07,486.02 407.13,486.02 408.19,486.03 409.24,486.04 410.30,486.04 411.35,486.05 412.40,486.05 413.46,486.06 414.51,486.06 415.57,486.07 416.62,486.07 417.68,486.07 418.74,486.07 419.79,486.08 420.85,486.08 421.90,486.08 422.95,486.08 424.01,486.08 425.06,486.09 426.12,486.09 427.18,486.09 428.23,486.09 429.28,486.09 430.34,486.09 431.39,486.09 432.45,486.09 433.50,486.09 434.56,486.09 435.62,486.09 436.67,486.09 437.73,486.09 438.78,486.09 439.83,486.09 440.89,486.10 441.94,486.10 443.00,486.10" fill="none" stroke="#c41230" stroke-width="1.1"/>
<path d="M363.88,438.17V408.13M361.27,438.17H366.48M361.27,408.13H366.48" stroke="#1f5f99" stroke-width="1.0" opacity="0.78" fill="none"/>
<path d="M390.25,456.32V428.90M387.65,456.32H392.85M387.65,428.90H392.85" stroke="#1f5f99" stroke-width="1.0" opacity="0.78" fill="none"/>
<path d="M443.00,461.41V437.91M440.40,461.41H445.60M440.40,437.91H445.60" stroke="#1f5f99" stroke-width="1.0" opacity="0.78" fill="none"/>
<path d="M363.88,452.27V427.20M361.27,452.27H366.48M361.27,427.20H366.48" stroke="#5a266a" stroke-width="1.0" opacity="0.78" fill="none"/>
<path d="M390.25,454.10V431.90M387.65,454.10H392.85M387.65,431.90H392.85" stroke="#5a266a" stroke-width="1.0" opacity="0.78" fill="none"/>
<path d="M443.00,468.34V452.66M440.40,468.34H445.60M440.40,452.66H445.60" stroke="#5a266a" stroke-width="1.0" opacity="0.78" fill="none"/>
<path d="M363.88,482.83V477.61M361.27,482.83H366.48M361.27,477.61H366.48" stroke="#c41230" stroke-width="1.0" opacity="0.78" fill="none"/>
<path d="M390.25,483.36V482.05M387.65,483.36H392.85M387.65,482.05H392.85" stroke="#c41230" stroke-width="1.0" opacity="0.78" fill="none"/>
<path d="M443.00,487.67V486.36M440.40,487.67H445.60M440.40,486.36H445.60" stroke="#c41230" stroke-width="1.0" opacity="0.78" fill="none"/>
<path d="M363.88,420.50 L366.32,424.80 L361.43,424.80Z" fill="#1f5f99"/>
<path d="M390.25,439.96 L392.70,444.26 L387.80,444.26Z" fill="#1f5f99"/>
<path d="M443.00,447.01 L445.45,451.31 L440.55,451.31Z" fill="#1f5f99"/>
<path d="M363.88,442.39 L366.32,438.08 L361.43,438.08Z" fill="#5a266a"/>
<path d="M390.25,445.65 L392.70,441.35 L387.80,441.35Z" fill="#5a266a"/>
<path d="M443.00,463.15 L445.45,458.85 L440.55,458.85Z" fill="#5a266a"/>
<rect x="361.82" y="478.17" width="4.10" height="4.10" fill="#c41230"/>
<rect x="388.20" y="480.65" width="4.10" height="4.10" fill="#c41230"/>
<rect x="440.95" y="484.96" width="4.10" height="4.10" fill="#c41230"/>
<rect x="335.45" y="414.83" width="4.10" height="4.10" fill="#5a266a"/>
<line x1="454.60" y1="415.30" x2="462.60" y2="415.30" stroke="#1f5f99" stroke-width="1.1"/>
<path d="M458.60,412.70 L461.00,416.90 L456.20,416.90Z" fill="#1f5f99"/>
<text x="465.48" y="417.95" font-size="7.3" fill="#000" textLength="20.66" lengthAdjust="spacingAndGlyphs">D253T</text>
<line x1="454.60" y1="426.55" x2="462.60" y2="426.55" stroke="#5a266a" stroke-width="1.1"/>
<path d="M458.60,429.15 L461.00,424.95 L456.20,424.95Z" fill="#5a266a"/>
<text x="465.75" y="429.20" font-size="7.3" fill="#000" textLength="46.47" lengthAdjust="spacingAndGlyphs">Q427N/K429T</text>
<line x1="454.60" y1="437.80" x2="462.60" y2="437.80" stroke="#c41230" stroke-width="1.1"/>
<rect x="456.60" y="435.80" width="4.00" height="4.00" fill="#c41230"/>
<text x="466.05" y="440.45" font-size="7.3" fill="#000" textLength="10.74" lengthAdjust="spacingAndGlyphs">WT</text>
<rect x="0.6" y="0.6" width="518.8" height="538.8" fill="none" stroke="#000" stroke-width="1.2"/>
</svg>
</body></html>
